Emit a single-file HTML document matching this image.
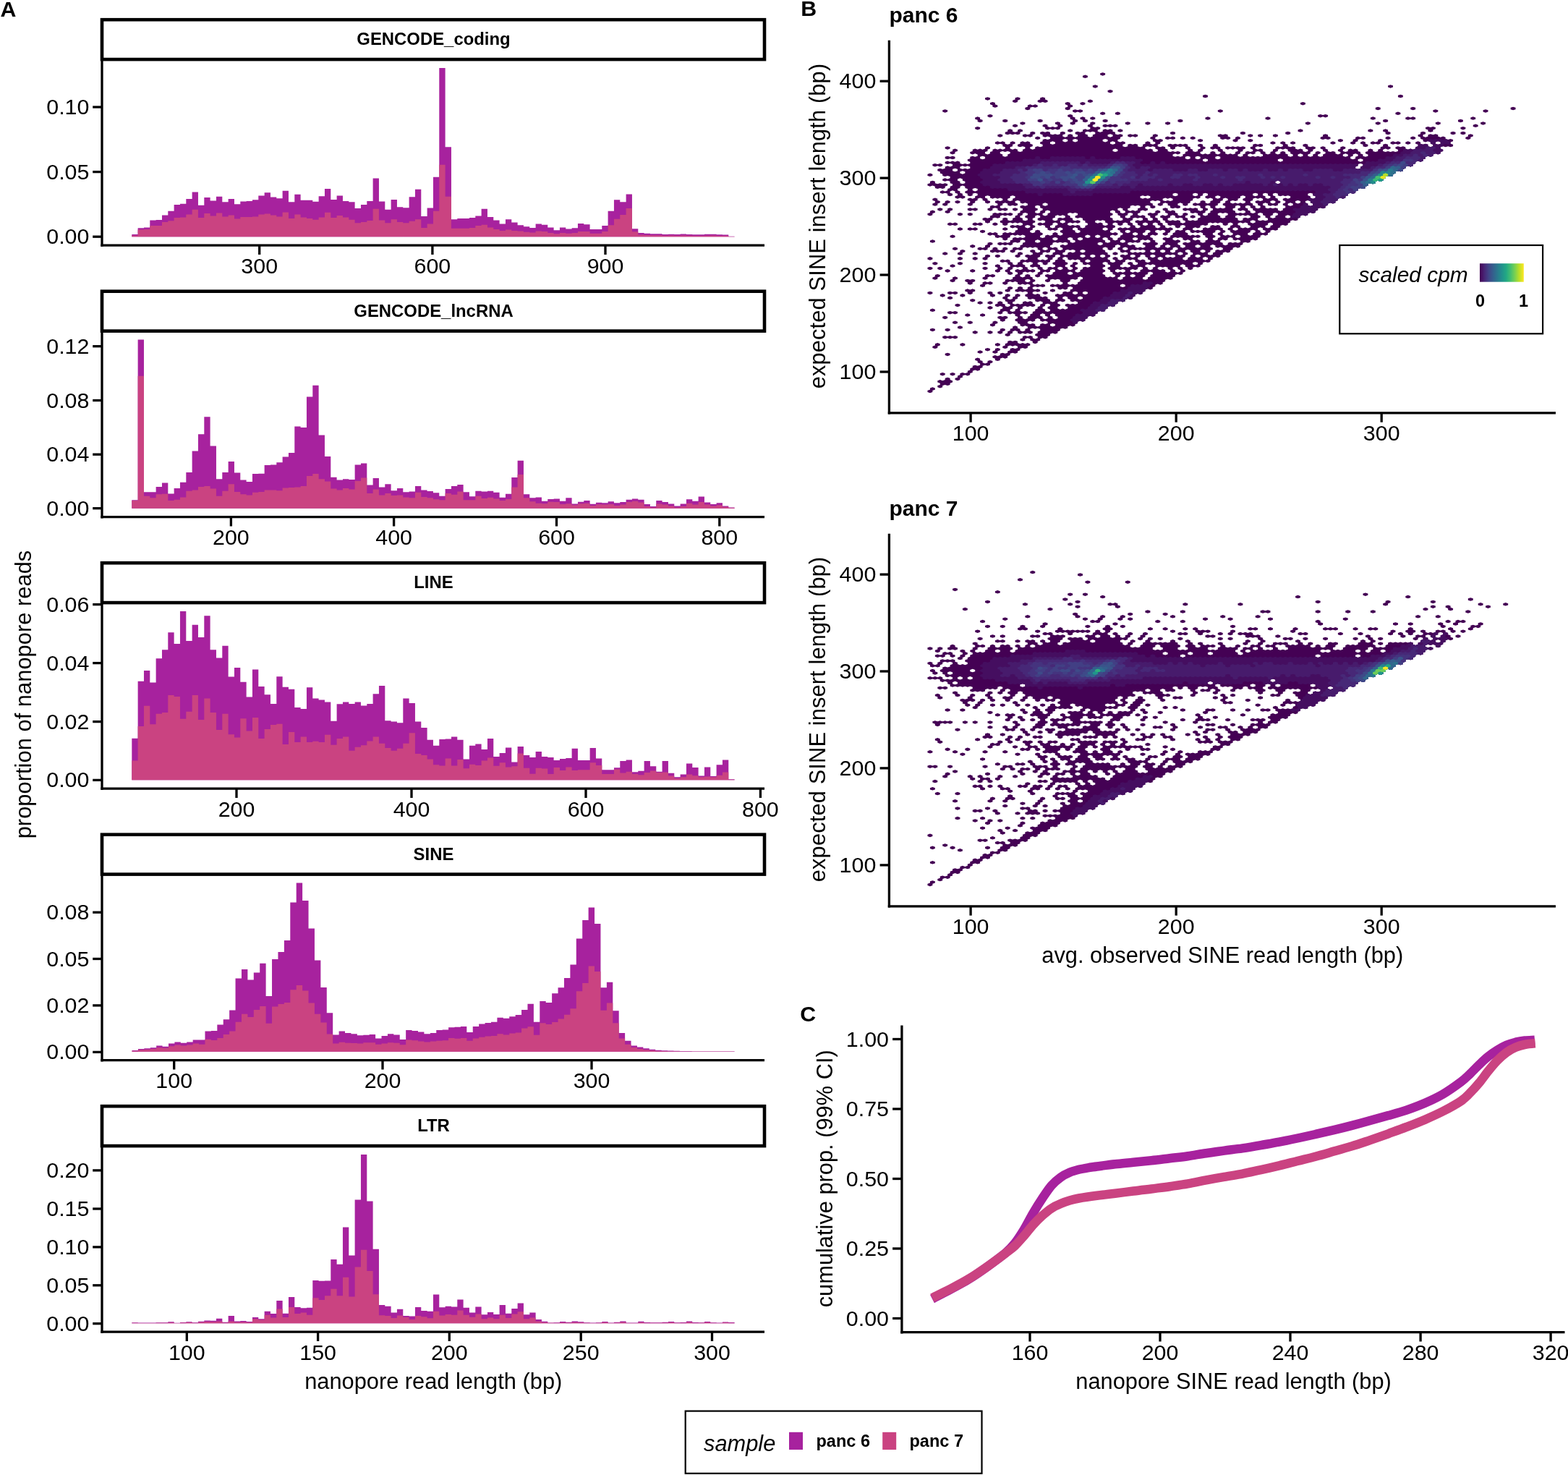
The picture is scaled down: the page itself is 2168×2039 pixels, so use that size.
<!DOCTYPE html>
<html lang="en"><head><meta charset="utf-8"><title>Nanopore read length figure</title>
<style>
html,body{margin:0;padding:0;background:#fff}
body{width:2168px;height:2039px;overflow:hidden}
svg{display:block}
text{font-family:"Liberation Sans",sans-serif;fill:#000}
</style></head><body>
<svg width="2168" height="2039" viewBox="0 0 2168 2039">
<rect width="2168" height="2039" fill="#fff"/>
<path d="M182.30 327.3V324.0H190.63V327.3zM190.63 327.3V315.2H198.97V327.3zM198.97 327.3V314.5H207.30V327.3zM207.30 327.3V304.4H215.63V327.3zM215.63 327.3V303.9H223.97V327.3zM223.97 327.3V297.4H232.30V327.3zM232.30 327.3V291.8H240.63V327.3zM240.63 327.3V283.0H248.96V327.3zM248.96 327.3V281.8H257.30V327.3zM257.30 327.3V275.0H265.63V327.3zM265.63 327.3V265.4H273.96V327.3zM273.96 327.3V283.8H282.30V327.3zM282.30 327.3V273.0H290.63V327.3zM290.63 327.3V277.5H298.96V327.3zM298.96 327.3V271.7H307.30V327.3zM307.30 327.3V279.3H315.63V327.3zM315.63 327.3V275.0H323.96V327.3zM323.96 327.3V282.3H332.29V327.3zM332.29 327.3V278.5H340.63V327.3zM340.63 327.3V278.0H348.96V327.3zM348.96 327.3V276.2H357.29V327.3zM357.29 327.3V270.5H365.63V327.3zM365.63 327.3V266.2H373.96V327.3zM373.96 327.3V272.5H382.29V327.3zM382.29 327.3V274.2H390.63V327.3zM390.62 327.3V263.7H398.96V327.3zM398.96 327.3V279.3H407.29V327.3zM407.29 327.3V268.7H415.62V327.3zM415.62 327.3V276.7H423.96V327.3zM423.96 327.3V276.7H432.29V327.3zM432.29 327.3V278.8H440.62V327.3zM440.62 327.3V271.2H448.96V327.3zM448.96 327.3V260.9H457.29V327.3zM457.29 327.3V276.0H465.62V327.3zM465.62 327.3V270.5H473.96V327.3zM473.96 327.3V278.0H482.29V327.3zM482.29 327.3V279.3H490.62V327.3zM490.62 327.3V288.1H498.95V327.3zM498.95 327.3V283.0H507.29V327.3zM507.29 327.3V278.0H515.62V327.3zM515.62 327.3V246.6H523.95V327.3zM523.95 327.3V278.5H532.29V327.3zM532.29 327.3V289.8H540.62V327.3zM540.62 327.3V276.0H548.95V327.3zM548.95 327.3V286.3H557.28V327.3zM557.29 327.3V287.3H565.62V327.3zM565.62 327.3V272.2H573.95V327.3zM573.95 327.3V261.7H582.28V327.3zM582.28 327.3V298.9H590.62V327.3zM590.62 327.3V287.6H598.95V327.3zM598.95 327.3V244.8H607.28V327.3zM607.28 327.3V93.9H615.62V327.3zM615.62 327.3V203.3H623.95V327.3zM623.95 327.3V303.2H632.28V327.3zM632.28 327.3V301.9H640.62V327.3zM640.62 327.3V301.9H648.95V327.3zM648.95 327.3V301.1H657.28V327.3zM657.28 327.3V298.6H665.61V327.3zM665.61 327.3V288.8H673.95V327.3zM673.95 327.3V299.9H682.28V327.3zM682.28 327.3V304.4H690.61V327.3zM690.61 327.3V309.4H698.95V327.3zM698.95 327.3V303.2H707.28V327.3zM707.28 327.3V307.4H715.61V327.3zM715.61 327.3V311.2H723.95V327.3zM723.94 327.3V313.2H732.28V327.3zM732.28 327.3V315.0H740.61V327.3zM740.61 327.3V309.4H748.94V327.3zM748.94 327.3V310.7H757.28V327.3zM757.28 327.3V314.5H765.61V327.3zM765.61 327.3V318.2H773.94V327.3zM773.94 327.3V314.5H782.28V327.3zM782.28 327.3V316.5H790.61V327.3zM790.61 327.3V315.2H798.94V327.3zM798.94 327.3V308.9H807.27V327.3zM807.28 327.3V310.2H815.61V327.3zM815.61 327.3V317.0H823.94V327.3zM823.94 327.3V317.0H832.27V327.3zM832.27 327.3V312.0H840.61V327.3zM840.61 327.3V291.8H848.94V327.3zM848.94 327.3V276.2H857.27V327.3zM857.27 327.3V279.3H865.61V327.3zM865.61 327.3V268.4H873.94V327.3zM873.94 327.3V316.2H882.27V327.3zM882.27 327.3V322.0H890.60V327.3zM890.61 327.3V322.8H898.94V327.3zM898.94 327.3V323.3H907.27V327.3zM907.27 327.3V323.3H915.60V327.3zM915.60 327.3V324.0H923.94V327.3zM923.94 327.3V323.8H932.27V327.3zM932.27 327.3V324.0H940.60V327.3zM940.60 327.3V323.5H948.94V327.3zM948.94 327.3V324.0H957.27V327.3zM957.27 327.3V324.3H965.60V327.3zM965.60 327.3V324.3H973.94V327.3zM973.93 327.3V323.8H982.27V327.3zM982.27 327.3V323.8H990.60V327.3zM990.60 327.3V324.3H998.93V327.3zM998.93 327.3V324.5H1007.27V327.3zM1007.27 327.3V326.8H1015.60V327.3z" fill="#a7229e"/>
<path d="M182.30 327.3V325.5H190.63V327.3zM190.63 327.3V317.5H198.97V327.3zM198.97 327.3V317.0H207.30V327.3zM207.30 327.3V312.0H215.63V327.3zM215.63 327.3V312.0H223.97V327.3zM223.97 327.3V306.9H232.30V327.3zM232.30 327.3V305.2H240.63V327.3zM240.63 327.3V301.1H248.96V327.3zM248.96 327.3V300.6H257.30V327.3zM257.30 327.3V296.4H265.63V327.3zM265.63 327.3V289.8H273.96V327.3zM273.96 327.3V301.1H282.30V327.3zM282.30 327.3V294.9H290.63V327.3zM290.63 327.3V298.6H298.96V327.3zM298.96 327.3V294.4H307.30V327.3zM307.30 327.3V299.4H315.63V327.3zM315.63 327.3V297.6H323.96V327.3zM323.96 327.3V302.4H332.29V327.3zM332.29 327.3V299.9H340.63V327.3zM340.63 327.3V299.9H348.96V327.3zM348.96 327.3V299.4H357.29V327.3zM357.29 327.3V296.4H365.63V327.3zM365.63 327.3V295.6H373.96V327.3zM373.96 327.3V297.6H382.29V327.3zM382.29 327.3V299.4H390.63V327.3zM390.62 327.3V293.6H398.96V327.3zM398.96 327.3V301.9H407.29V327.3zM407.29 327.3V296.4H415.62V327.3zM415.62 327.3V300.6H423.96V327.3zM423.96 327.3V301.9H432.29V327.3zM432.29 327.3V303.7H440.62V327.3zM440.62 327.3V300.6H448.96V327.3zM448.96 327.3V293.8H457.29V327.3zM457.29 327.3V301.1H465.62V327.3zM465.62 327.3V298.1H473.96V327.3zM473.96 327.3V300.6H482.29V327.3zM482.29 327.3V303.7H490.62V327.3zM490.62 327.3V308.2H498.95V327.3zM498.95 327.3V306.9H507.29V327.3zM507.29 327.3V304.9H515.62V327.3zM515.62 327.3V288.8H523.95V327.3zM523.95 327.3V304.4H532.29V327.3zM532.29 327.3V308.2H540.62V327.3zM540.62 327.3V303.2H548.95V327.3zM548.95 327.3V306.9H557.28V327.3zM557.29 327.3V308.2H565.62V327.3zM565.62 327.3V305.7H573.95V327.3zM573.95 327.3V303.2H582.28V327.3zM582.28 327.3V315.0H590.62V327.3zM590.62 327.3V309.4H598.95V327.3zM598.95 327.3V291.8H607.28V327.3zM607.28 327.3V227.7H615.62V327.3zM615.62 327.3V271.7H623.95V327.3zM623.95 327.3V315.7H632.28V327.3zM632.28 327.3V315.7H640.62V327.3zM640.62 327.3V315.7H648.95V327.3zM648.95 327.3V315.0H657.28V327.3zM657.28 327.3V312.0H665.61V327.3zM665.61 327.3V310.7H673.95V327.3zM673.95 327.3V314.5H682.28V327.3zM682.28 327.3V317.0H690.61V327.3zM690.61 327.3V319.0H698.95V327.3zM698.95 327.3V317.5H707.28V327.3zM707.28 327.3V319.0H715.61V327.3zM715.61 327.3V319.5H723.95V327.3zM723.94 327.3V320.8H732.28V327.3zM732.28 327.3V321.5H740.61V327.3zM740.61 327.3V319.5H748.94V327.3zM748.94 327.3V320.0H757.28V327.3zM757.28 327.3V322.0H765.61V327.3zM765.61 327.3V323.3H773.94V327.3zM773.94 327.3V322.0H782.28V327.3zM782.28 327.3V322.8H790.61V327.3zM790.61 327.3V322.0H798.94V327.3zM798.94 327.3V320.0H807.27V327.3zM807.28 327.3V320.0H815.61V327.3zM815.61 327.3V322.8H823.94V327.3zM823.94 327.3V322.8H832.27V327.3zM832.27 327.3V320.0H840.61V327.3zM840.61 327.3V311.2H848.94V327.3zM848.94 327.3V302.7H857.27V327.3zM857.27 327.3V296.9H865.61V327.3zM865.61 327.3V288.1H873.94V327.3zM873.94 327.3V320.3H882.27V327.3zM882.27 327.3V324.5H890.60V327.3zM890.61 327.3V325.0H898.94V327.3zM898.94 327.3V325.3H907.27V327.3zM907.27 327.3V325.3H915.60V327.3zM915.60 327.3V325.8H923.94V327.3zM923.94 327.3V325.5H932.27V327.3zM932.27 327.3V325.8H940.60V327.3zM940.60 327.3V325.5H948.94V327.3zM948.94 327.3V325.8H957.27V327.3zM957.27 327.3V326.0H965.60V327.3zM965.60 327.3V326.0H973.94V327.3zM973.93 327.3V325.8H982.27V327.3zM982.27 327.3V325.5H990.60V327.3zM990.60 327.3V326.0H998.93V327.3zM998.93 327.3V326.0H1007.27V327.3zM1007.27 327.3V327.0H1015.60V327.3z" fill="#ca4381"/>
<path d="M141.0 82.1L141.0 340.8" stroke="#000" stroke-width="3.3" fill="none" stroke-linecap="butt"/>
<path d="M139.3 339.2L1057.0 339.2" stroke="#000" stroke-width="3.3" fill="none" stroke-linecap="butt"/>
<rect x="141.0" y="27.2" width="916.0" height="54.9" fill="#fff" stroke="#000" stroke-width="4.6"/>
<text x="599.5" y="62.2" font-size="23.9" text-anchor="middle" font-weight="bold">GENCODE_coding</text>
<path d="M128.2 327.2L141.0 327.2" stroke="#000" stroke-width="3.3" fill="none" stroke-linecap="butt"/>
<text x="123.4" y="337.2" font-size="30.4" text-anchor="end">0.00</text>
<path d="M128.2 237.6L141.0 237.6" stroke="#000" stroke-width="3.3" fill="none" stroke-linecap="butt"/>
<text x="123.4" y="247.6" font-size="30.4" text-anchor="end">0.05</text>
<path d="M128.2 148.0L141.0 148.0" stroke="#000" stroke-width="3.3" fill="none" stroke-linecap="butt"/>
<text x="123.4" y="158.0" font-size="30.4" text-anchor="end">0.10</text>
<path d="M358.7 339.2L358.7 352.0" stroke="#000" stroke-width="3.3" fill="none" stroke-linecap="butt"/>
<text x="358.7" y="377.7" font-size="30.4" text-anchor="middle">300</text>
<path d="M597.9 339.2L597.9 352.0" stroke="#000" stroke-width="3.3" fill="none" stroke-linecap="butt"/>
<text x="597.9" y="377.7" font-size="30.4" text-anchor="middle">600</text>
<path d="M837.0 339.2L837.0 352.0" stroke="#000" stroke-width="3.3" fill="none" stroke-linecap="butt"/>
<text x="837.0" y="377.7" font-size="30.4" text-anchor="middle">900</text>
<path d="M182.30 702.8V691.2H190.63V702.8zM190.63 702.8V469.4H198.97V702.8zM198.97 702.8V680.2H207.30V702.8zM207.30 702.8V680.2H215.63V702.8zM215.63 702.8V673.1H223.97V702.8zM223.97 702.8V667.6H232.30V702.8zM232.30 702.8V682.4H240.63V702.8zM240.63 702.8V674.9H248.96V702.8zM248.96 702.8V666.8H257.30V702.8zM257.30 702.8V653.0H265.63V702.8zM265.63 702.8V623.6H273.96V702.8zM273.96 702.8V600.2H282.30V702.8zM282.30 702.8V576.3H290.63V702.8zM290.63 702.8V616.5H298.96V702.8zM298.96 702.8V662.3H307.30V702.8zM307.30 702.8V653.0H315.63V702.8zM315.63 702.8V637.9H323.96V702.8zM323.96 702.8V653.5H332.29V702.8zM332.29 702.8V663.6H340.63V702.8zM340.63 702.8V666.1H348.96V702.8zM348.96 702.8V655.0H357.29V702.8zM357.29 702.8V654.8H365.63V702.8zM365.63 702.8V642.9H373.96V702.8zM373.96 702.8V642.4H382.29V702.8zM382.29 702.8V639.2H390.63V702.8zM390.62 702.8V631.6H398.96V702.8zM398.96 702.8V626.1H407.29V702.8zM407.29 702.8V589.6H415.62V702.8zM415.62 702.8V590.9H423.96V702.8zM423.96 702.8V548.6H432.29V702.8zM432.29 702.8V532.8H440.62V702.8zM440.62 702.8V601.4H448.96V702.8zM448.96 702.8V631.1H457.29V702.8zM457.29 702.8V659.8H465.62V702.8zM465.62 702.8V663.6H473.96V702.8zM473.96 702.8V662.3H482.29V702.8zM482.29 702.8V663.1H490.62V702.8zM490.62 702.8V642.4H498.95V702.8zM498.95 702.8V640.4H507.29V702.8zM507.29 702.8V670.6H515.62V702.8zM515.62 702.8V661.0H523.95V702.8zM523.95 702.8V673.6H532.29V702.8zM532.29 702.8V669.3H540.62V702.8zM540.62 702.8V678.2H548.95V702.8zM548.95 702.8V675.1H557.28V702.8zM557.29 702.8V680.2H565.62V702.8zM565.62 702.8V679.4H573.95V702.8zM573.95 702.8V671.9H582.28V702.8zM582.28 702.8V677.6H590.62V702.8zM590.62 702.8V678.9H598.95V702.8zM598.95 702.8V681.2H607.28V702.8zM607.28 702.8V685.7H615.62V702.8zM615.62 702.8V676.1H623.95V702.8zM623.95 702.8V671.9H632.28V702.8zM632.28 702.8V669.9H640.62V702.8zM640.62 702.8V680.2H648.95V702.8zM648.95 702.8V686.2H657.28V702.8zM657.28 702.8V678.7H665.61V702.8zM665.61 702.8V679.4H673.95V702.8zM673.95 702.8V678.7H682.28V702.8zM682.28 702.8V680.7H690.61V702.8zM690.61 702.8V687.7H698.95V702.8zM698.95 702.8V682.7H707.28V702.8zM707.28 702.8V660.0H715.61V702.8zM715.61 702.8V636.7H723.95V702.8zM723.94 702.8V683.2H732.28V702.8zM732.28 702.8V688.2H740.61V702.8zM740.61 702.8V687.5H748.94V702.8zM748.94 702.8V692.7H757.28V702.8zM757.28 702.8V690.0H765.61V702.8zM765.61 702.8V689.5H773.94V702.8zM773.94 702.8V692.7H782.28V702.8zM782.28 702.8V688.2H790.61V702.8zM790.61 702.8V696.5H798.94V702.8zM798.94 702.8V693.7H807.27V702.8zM807.28 702.8V692.0H815.61V702.8zM815.61 702.8V696.8H823.94V702.8zM823.94 702.8V694.8H832.27V702.8zM832.27 702.8V695.3H840.61V702.8zM840.61 702.8V693.2H848.94V702.8zM848.94 702.8V695.3H857.27V702.8zM857.27 702.8V694.0H865.61V702.8zM865.61 702.8V690.7H873.94V702.8zM873.94 702.8V689.5H882.27V702.8zM882.27 702.8V690.7H890.60V702.8zM890.61 702.8V697.0H898.94V702.8zM898.94 702.8V700.0H907.27V702.8zM907.27 702.8V692.0H915.60V702.8zM915.60 702.8V694.0H923.94V702.8zM923.94 702.8V696.5H932.27V702.8zM932.27 702.8V699.5H940.60V702.8zM940.60 702.8V696.5H948.94V702.8zM948.94 702.8V690.2H957.27V702.8zM957.27 702.8V692.7H965.60V702.8zM965.60 702.8V686.5H973.94V702.8zM973.93 702.8V694.5H982.27V702.8zM982.27 702.8V697.0H990.60V702.8zM990.60 702.8V695.3H998.93V702.8zM998.93 702.8V699.5H1007.27V702.8zM1007.27 702.8V701.5H1015.60V702.8z" fill="#a7229e"/>
<path d="M182.30 702.8V692.0H190.63V702.8zM190.63 702.8V519.7H198.97V702.8zM198.97 702.8V685.7H207.30V702.8zM207.30 702.8V688.2H215.63V702.8zM215.63 702.8V683.2H223.97V702.8zM223.97 702.8V682.7H232.30V702.8zM232.30 702.8V692.0H240.63V702.8zM240.63 702.8V690.7H248.96V702.8zM248.96 702.8V687.5H257.30V702.8zM257.30 702.8V678.7H265.63V702.8zM265.63 702.8V677.6H273.96V702.8zM273.96 702.8V673.1H282.30V702.8zM282.30 702.8V671.9H290.63V702.8zM290.63 702.8V675.6H298.96V702.8zM298.96 702.8V685.7H307.30V702.8zM307.30 702.8V678.7H315.63V702.8zM315.63 702.8V669.3H323.96V702.8zM323.96 702.8V679.9H332.29V702.8zM332.29 702.8V683.2H340.63V702.8zM340.63 702.8V684.4H348.96V702.8zM348.96 702.8V680.7H357.29V702.8zM357.29 702.8V679.9H365.63V702.8zM365.63 702.8V677.6H373.96V702.8zM373.96 702.8V677.6H382.29V702.8zM382.29 702.8V678.2H390.63V702.8zM390.62 702.8V674.4H398.96V702.8zM398.96 702.8V673.9H407.29V702.8zM407.29 702.8V673.6H415.62V702.8zM415.62 702.8V671.9H423.96V702.8zM423.96 702.8V658.0H432.29V702.8zM432.29 702.8V655.0H440.62V702.8zM440.62 702.8V662.3H448.96V702.8zM448.96 702.8V665.6H457.29V702.8zM457.29 702.8V675.6H465.62V702.8zM465.62 702.8V677.6H473.96V702.8zM473.96 702.8V674.9H482.29V702.8zM482.29 702.8V676.4H490.62V702.8zM490.62 702.8V665.1H498.95V702.8zM498.95 702.8V660.5H507.29V702.8zM507.29 702.8V681.9H515.62V702.8zM515.62 702.8V676.4H523.95V702.8zM523.95 702.8V684.4H532.29V702.8zM532.29 702.8V681.9H540.62V702.8zM540.62 702.8V684.9H548.95V702.8zM548.95 702.8V684.4H557.28V702.8zM557.29 702.8V687.5H565.62V702.8zM565.62 702.8V688.2H573.95V702.8zM573.95 702.8V680.7H582.28V702.8zM582.28 702.8V687.0H590.62V702.8zM590.62 702.8V688.2H598.95V702.8zM598.95 702.8V690.2H607.28V702.8zM607.28 702.8V691.2H615.62V702.8zM615.62 702.8V681.9H623.95V702.8zM623.95 702.8V683.7H632.28V702.8zM632.28 702.8V679.4H640.62V702.8zM640.62 702.8V691.2H648.95V702.8zM648.95 702.8V691.2H657.28V702.8zM657.28 702.8V685.7H665.61V702.8zM665.61 702.8V689.0H673.95V702.8zM673.95 702.8V687.7H682.28V702.8zM682.28 702.8V689.5H690.61V702.8zM690.61 702.8V692.0H698.95V702.8zM698.95 702.8V690.0H707.28V702.8zM707.28 702.8V673.6H715.61V702.8zM715.61 702.8V656.0H723.95V702.8zM723.94 702.8V688.2H732.28V702.8zM732.28 702.8V693.2H740.61V702.8zM740.61 702.8V695.8H748.94V702.8zM748.94 702.8V696.3H757.28V702.8zM757.28 702.8V693.7H765.61V702.8zM765.61 702.8V694.0H773.94V702.8zM773.94 702.8V697.0H782.28V702.8zM782.28 702.8V696.3H790.61V702.8zM790.61 702.8V698.3H798.94V702.8zM798.94 702.8V696.3H807.27V702.8zM807.28 702.8V695.8H815.61V702.8zM815.61 702.8V699.0H823.94V702.8zM823.94 702.8V697.3H832.27V702.8zM832.27 702.8V697.5H840.61V702.8zM840.61 702.8V697.0H848.94V702.8zM848.94 702.8V699.0H857.27V702.8zM857.27 702.8V697.5H865.61V702.8zM865.61 702.8V694.0H873.94V702.8zM873.94 702.8V692.7H882.27V702.8zM882.27 702.8V694.5H890.60V702.8zM890.61 702.8V700.0H898.94V702.8zM898.94 702.8V701.5H907.27V702.8zM907.27 702.8V696.5H915.60V702.8zM915.60 702.8V697.5H923.94V702.8zM923.94 702.8V699.5H932.27V702.8zM932.27 702.8V701.5H940.60V702.8zM940.60 702.8V700.0H948.94V702.8zM948.94 702.8V695.8H957.27V702.8zM957.27 702.8V697.5H965.60V702.8zM965.60 702.8V694.0H973.94V702.8zM973.93 702.8V697.5H982.27V702.8zM982.27 702.8V699.5H990.60V702.8zM990.60 702.8V698.3H998.93V702.8zM998.93 702.8V700.8H1007.27V702.8zM1007.27 702.8V702.0H1015.60V702.8z" fill="#ca4381"/>
<path d="M141.0 457.6L141.0 716.4" stroke="#000" stroke-width="3.3" fill="none" stroke-linecap="butt"/>
<path d="M139.3 714.7L1057.0 714.7" stroke="#000" stroke-width="3.3" fill="none" stroke-linecap="butt"/>
<rect x="141.0" y="402.7" width="916.0" height="54.9" fill="#fff" stroke="#000" stroke-width="4.6"/>
<text x="599.5" y="437.7" font-size="23.9" text-anchor="middle" font-weight="bold">GENCODE_lncRNA</text>
<path d="M128.2 702.7L141.0 702.7" stroke="#000" stroke-width="3.3" fill="none" stroke-linecap="butt"/>
<text x="123.4" y="712.7" font-size="30.4" text-anchor="end">0.00</text>
<path d="M128.2 628.2L141.0 628.2" stroke="#000" stroke-width="3.3" fill="none" stroke-linecap="butt"/>
<text x="123.4" y="638.2" font-size="30.4" text-anchor="end">0.04</text>
<path d="M128.2 553.5L141.0 553.5" stroke="#000" stroke-width="3.3" fill="none" stroke-linecap="butt"/>
<text x="123.4" y="563.5" font-size="30.4" text-anchor="end">0.08</text>
<path d="M128.2 478.7L141.0 478.7" stroke="#000" stroke-width="3.3" fill="none" stroke-linecap="butt"/>
<text x="123.4" y="488.7" font-size="30.4" text-anchor="end">0.12</text>
<path d="M319.4 714.7L319.4 727.5" stroke="#000" stroke-width="3.3" fill="none" stroke-linecap="butt"/>
<text x="319.4" y="753.2" font-size="30.4" text-anchor="middle">200</text>
<path d="M544.6 714.7L544.6 727.5" stroke="#000" stroke-width="3.3" fill="none" stroke-linecap="butt"/>
<text x="544.6" y="753.2" font-size="30.4" text-anchor="middle">400</text>
<path d="M769.5 714.7L769.5 727.5" stroke="#000" stroke-width="3.3" fill="none" stroke-linecap="butt"/>
<text x="769.5" y="753.2" font-size="30.4" text-anchor="middle">600</text>
<path d="M994.8 714.7L994.8 727.5" stroke="#000" stroke-width="3.3" fill="none" stroke-linecap="butt"/>
<text x="994.8" y="753.2" font-size="30.4" text-anchor="middle">800</text>
<path d="M182.30 1078.3V1020.7H190.63V1078.3zM190.63 1078.3V941.7H198.97V1078.3zM198.97 1078.3V927.1H207.30V1078.3zM207.30 1078.3V943.5H215.63V1078.3zM215.63 1078.3V910.3H223.97V1078.3zM223.97 1078.3V898.2H232.30V1078.3zM232.30 1078.3V874.3H240.63V1078.3zM240.63 1078.3V889.9H248.96V1078.3zM248.96 1078.3V844.9H257.30V1078.3zM257.30 1078.3V886.1H265.63V1078.3zM265.63 1078.3V863.8H273.96V1078.3zM273.96 1078.3V881.1H282.30V1078.3zM282.30 1078.3V851.2H290.63V1078.3zM290.63 1078.3V898.2H298.96V1078.3zM298.96 1078.3V909.5H307.30V1078.3zM307.30 1078.3V892.7H315.63V1078.3zM315.63 1078.3V935.4H323.96V1078.3zM323.96 1078.3V922.9H332.29V1078.3zM332.29 1078.3V942.7H340.63V1078.3zM340.63 1078.3V963.6H348.96V1078.3zM348.96 1078.3V925.4H357.29V1078.3zM357.29 1078.3V949.0H365.63V1078.3zM365.63 1078.3V960.3H373.96V1078.3zM373.96 1078.3V972.9H382.29V1078.3zM382.29 1078.3V935.2H390.63V1078.3zM390.62 1078.3V949.8H398.96V1078.3zM398.96 1078.3V952.8H407.29V1078.3zM407.29 1078.3V977.9H415.62V1078.3zM415.62 1078.3V980.0H423.96V1078.3zM423.96 1078.3V950.3H432.29V1078.3zM432.29 1078.3V965.6H440.62V1078.3zM440.62 1078.3V967.4H448.96V1078.3zM448.96 1078.3V970.4H457.29V1078.3zM457.29 1078.3V996.8H465.62V1078.3zM465.62 1078.3V973.2H473.96V1078.3zM473.96 1078.3V970.4H482.29V1078.3zM482.29 1078.3V972.9H490.62V1078.3zM490.62 1078.3V970.4H498.95V1078.3zM498.95 1078.3V975.4H507.29V1078.3zM507.29 1078.3V972.9H515.62V1078.3zM515.62 1078.3V959.3H523.95V1078.3zM523.95 1078.3V948.0H532.29V1078.3zM532.29 1078.3V996.3H540.62V1078.3zM540.62 1078.3V997.6H548.95V1078.3zM548.95 1078.3V999.3H557.28V1078.3zM557.29 1078.3V965.4H565.62V1078.3zM565.62 1078.3V971.9H573.95V1078.3zM573.95 1078.3V997.6H582.28V1078.3zM582.28 1078.3V1005.9H590.62V1078.3zM590.62 1078.3V1022.7H598.95V1078.3zM598.95 1078.3V1030.8H607.28V1078.3zM607.28 1078.3V1022.0H615.62V1078.3zM615.62 1078.3V1021.5H623.95V1078.3zM623.95 1078.3V1018.4H632.28V1078.3zM632.28 1078.3V1022.7H640.62V1078.3zM640.62 1078.3V1049.6H648.95V1078.3zM648.95 1078.3V1030.8H657.28V1078.3zM657.28 1078.3V1028.5H665.61V1078.3zM665.61 1078.3V1036.0H673.95V1078.3zM673.95 1078.3V1021.0H682.28V1078.3zM682.28 1078.3V1046.1H690.61V1078.3zM690.61 1078.3V1041.1H698.95V1078.3zM698.95 1078.3V1033.5H707.28V1078.3zM707.28 1078.3V1053.4H715.61V1078.3zM715.61 1078.3V1032.0H723.95V1078.3zM723.94 1078.3V1044.1H732.28V1078.3zM732.28 1078.3V1047.1H740.61V1078.3zM740.61 1078.3V1039.1H748.94V1078.3zM748.94 1078.3V1045.9H757.28V1078.3zM757.28 1078.3V1047.1H765.61V1078.3zM765.61 1078.3V1051.1H773.94V1078.3zM773.94 1078.3V1049.1H782.28V1078.3zM782.28 1078.3V1047.9H790.61V1078.3zM790.61 1078.3V1034.8H798.94V1078.3zM798.94 1078.3V1050.9H807.27V1078.3zM807.28 1078.3V1050.9H815.61V1078.3zM815.61 1078.3V1034.0H823.94V1078.3zM823.94 1078.3V1048.4H832.27V1078.3zM832.27 1078.3V1064.2H840.61V1078.3zM840.61 1078.3V1064.2H848.94V1078.3zM848.94 1078.3V1061.2H857.27V1078.3zM857.27 1078.3V1052.1H865.61V1078.3zM865.61 1078.3V1050.4H873.94V1078.3zM873.94 1078.3V1067.2H882.27V1078.3zM882.27 1078.3V1065.7H890.60V1078.3zM890.61 1078.3V1052.1H898.94V1078.3zM898.94 1078.3V1059.2H907.27V1078.3zM907.27 1078.3V1066.7H915.60V1078.3zM915.60 1078.3V1052.1H923.94V1078.3zM923.94 1078.3V1068.7H932.27V1078.3zM932.27 1078.3V1074.3H940.60V1078.3zM940.60 1078.3V1070.5H948.94V1078.3zM948.94 1078.3V1055.4H957.27V1078.3zM957.27 1078.3V1060.9H965.60V1078.3zM965.60 1078.3V1072.5H973.94V1078.3zM973.93 1078.3V1060.4H982.27V1078.3zM982.27 1078.3V1073.0H990.60V1078.3zM990.60 1078.3V1057.2H998.93V1078.3zM998.93 1078.3V1050.4H1007.27V1078.3zM1007.27 1078.3V1077.3H1015.60V1078.3z" fill="#a7229e"/>
<path d="M182.30 1078.3V1051.6H190.63V1078.3zM190.63 1078.3V1003.9H198.97V1078.3zM198.97 1078.3V975.7H207.30V1078.3zM207.30 1078.3V1001.3H215.63V1078.3zM215.63 1078.3V986.8H223.97V1078.3zM223.97 1078.3V985.0H232.30V1078.3zM232.30 1078.3V961.1H240.63V1078.3zM240.63 1078.3V962.9H248.96V1078.3zM248.96 1078.3V993.8H257.30V1078.3zM257.30 1078.3V983.7H265.63V1078.3zM265.63 1078.3V961.1H273.96V1078.3zM273.96 1078.3V995.1H282.30V1078.3zM282.30 1078.3V965.6H290.63V1078.3zM290.63 1078.3V985.0H298.96V1078.3zM298.96 1078.3V1008.9H307.30V1078.3zM307.30 1078.3V986.8H315.63V1078.3zM315.63 1078.3V1015.2H323.96V1078.3zM323.96 1078.3V1019.4H332.29V1078.3zM332.29 1078.3V993.3H340.63V1078.3zM340.63 1078.3V1010.6H348.96V1078.3zM348.96 1078.3V992.0H357.29V1078.3zM357.29 1078.3V1021.0H365.63V1078.3zM365.63 1078.3V1008.1H373.96V1078.3zM373.96 1078.3V1002.1H382.29V1078.3zM382.29 1078.3V1000.8H390.63V1078.3zM390.62 1078.3V1029.0H398.96V1078.3zM398.96 1078.3V1011.9H407.29V1078.3zM407.29 1078.3V1026.0H415.62V1078.3zM415.62 1078.3V1018.4H423.96V1078.3zM423.96 1078.3V1026.0H432.29V1078.3zM432.29 1078.3V1024.7H440.62V1078.3zM440.62 1078.3V1026.0H448.96V1078.3zM448.96 1078.3V1015.7H457.29V1078.3zM457.29 1078.3V1029.8H465.62V1078.3zM465.62 1078.3V1021.0H473.96V1078.3zM473.96 1078.3V1018.4H482.29V1078.3zM482.29 1078.3V1037.8H490.62V1078.3zM490.62 1078.3V1032.8H498.95V1078.3zM498.95 1078.3V1030.3H507.29V1078.3zM507.29 1078.3V1024.5H515.62V1078.3zM515.62 1078.3V1018.4H523.95V1078.3zM523.95 1078.3V1027.7H532.29V1078.3zM532.29 1078.3V1034.0H540.62V1078.3zM540.62 1078.3V1037.8H548.95V1078.3zM548.95 1078.3V1034.8H557.28V1078.3zM557.29 1078.3V1027.7H565.62V1078.3zM565.62 1078.3V1013.2H573.95V1078.3zM573.95 1078.3V1042.1H582.28V1078.3zM582.28 1078.3V1044.1H590.62V1078.3zM590.62 1078.3V1049.6H598.95V1078.3zM598.95 1078.3V1057.2H607.28V1078.3zM607.28 1078.3V1058.4H615.62V1078.3zM615.62 1078.3V1048.4H623.95V1078.3zM623.95 1078.3V1058.4H632.28V1078.3zM632.28 1078.3V1049.9H640.62V1078.3zM640.62 1078.3V1062.2H648.95V1078.3zM648.95 1078.3V1056.7H657.28V1078.3zM657.28 1078.3V1057.9H665.61V1078.3zM665.61 1078.3V1051.6H673.95V1078.3zM673.95 1078.3V1047.4H682.28V1078.3zM682.28 1078.3V1058.7H690.61V1078.3zM690.61 1078.3V1054.2H698.95V1078.3zM698.95 1078.3V1060.4H707.28V1078.3zM707.28 1078.3V1059.2H715.61V1078.3zM715.61 1078.3V1041.6H723.95V1078.3zM723.94 1078.3V1061.7H732.28V1078.3zM732.28 1078.3V1069.7H740.61V1078.3zM740.61 1078.3V1061.7H748.94V1078.3zM748.94 1078.3V1062.5H757.28V1078.3zM757.28 1078.3V1070.0H765.61V1078.3zM765.61 1078.3V1060.9H773.94V1078.3zM773.94 1078.3V1065.0H782.28V1078.3zM782.28 1078.3V1060.4H790.61V1078.3zM790.61 1078.3V1065.0H798.94V1078.3zM798.94 1078.3V1064.2H807.27V1078.3zM807.28 1078.3V1064.2H815.61V1078.3zM815.61 1078.3V1054.2H823.94V1078.3zM823.94 1078.3V1057.9H832.27V1078.3zM832.27 1078.3V1070.0H840.61V1078.3zM840.61 1078.3V1070.0H848.94V1078.3zM848.94 1078.3V1063.5H857.27V1078.3zM857.27 1078.3V1068.5H865.61V1078.3zM865.61 1078.3V1066.7H873.94V1078.3zM873.94 1078.3V1070.0H882.27V1078.3zM882.27 1078.3V1071.3H890.60V1078.3zM890.61 1078.3V1068.0H898.94V1078.3zM898.94 1078.3V1065.5H907.27V1078.3zM907.27 1078.3V1068.0H915.60V1078.3zM915.60 1078.3V1067.5H923.94V1078.3zM923.94 1078.3V1072.5H932.27V1078.3zM932.27 1078.3V1076.0H940.60V1078.3zM940.60 1078.3V1074.3H948.94V1078.3zM948.94 1078.3V1070.5H957.27V1078.3zM957.27 1078.3V1072.3H965.60V1078.3zM965.60 1078.3V1074.3H973.94V1078.3zM973.93 1078.3V1073.5H982.27V1078.3zM982.27 1078.3V1074.3H990.60V1078.3zM990.60 1078.3V1071.8H998.93V1078.3zM998.93 1078.3V1067.5H1007.27V1078.3zM1007.27 1078.3V1077.8H1015.60V1078.3z" fill="#ca4381"/>
<path d="M141.0 833.1L141.0 1091.9" stroke="#000" stroke-width="3.3" fill="none" stroke-linecap="butt"/>
<path d="M139.3 1090.2L1057.0 1090.2" stroke="#000" stroke-width="3.3" fill="none" stroke-linecap="butt"/>
<rect x="141.0" y="778.2" width="916.0" height="54.9" fill="#fff" stroke="#000" stroke-width="4.6"/>
<text x="599.5" y="813.2" font-size="23.9" text-anchor="middle" font-weight="bold">LINE</text>
<path d="M128.2 1078.4L141.0 1078.4" stroke="#000" stroke-width="3.3" fill="none" stroke-linecap="butt"/>
<text x="123.4" y="1088.4" font-size="30.4" text-anchor="end">0.00</text>
<path d="M128.2 997.6L141.0 997.6" stroke="#000" stroke-width="3.3" fill="none" stroke-linecap="butt"/>
<text x="123.4" y="1007.6" font-size="30.4" text-anchor="end">0.02</text>
<path d="M128.2 916.6L141.0 916.6" stroke="#000" stroke-width="3.3" fill="none" stroke-linecap="butt"/>
<text x="123.4" y="926.6" font-size="30.4" text-anchor="end">0.04</text>
<path d="M128.2 835.6L141.0 835.6" stroke="#000" stroke-width="3.3" fill="none" stroke-linecap="butt"/>
<text x="123.4" y="845.6" font-size="30.4" text-anchor="end">0.06</text>
<path d="M327.0 1090.2L327.0 1103.0" stroke="#000" stroke-width="3.3" fill="none" stroke-linecap="butt"/>
<text x="327.0" y="1128.7" font-size="30.4" text-anchor="middle">200</text>
<path d="M569.0 1090.2L569.0 1103.0" stroke="#000" stroke-width="3.3" fill="none" stroke-linecap="butt"/>
<text x="569.0" y="1128.7" font-size="30.4" text-anchor="middle">400</text>
<path d="M810.0 1090.2L810.0 1103.0" stroke="#000" stroke-width="3.3" fill="none" stroke-linecap="butt"/>
<text x="810.0" y="1128.7" font-size="30.4" text-anchor="middle">600</text>
<path d="M1051.4 1090.2L1051.4 1103.0" stroke="#000" stroke-width="3.3" fill="none" stroke-linecap="butt"/>
<text x="1051.4" y="1128.7" font-size="30.4" text-anchor="middle">800</text>
<path d="M182.50 1453.8V1452.0H190.91V1453.8zM190.91 1453.8V1450.0H199.33V1453.8zM199.33 1453.8V1449.3H207.74V1453.8zM207.75 1453.8V1448.3H216.16V1453.8zM216.16 1453.8V1445.5H224.57V1453.8zM224.57 1453.8V1446.8H232.99V1453.8zM232.99 1453.8V1442.5H241.41V1453.8zM241.41 1453.8V1440.5H249.82V1453.8zM249.82 1453.8V1441.7H258.24V1453.8zM258.24 1453.8V1440.5H266.65V1453.8zM266.65 1453.8V1437.5H275.06V1453.8zM275.06 1453.8V1437.5H283.48V1453.8zM283.48 1453.8V1425.4H291.90V1453.8zM291.89 1453.8V1424.9H300.31V1453.8zM300.31 1453.8V1416.6H308.73V1453.8zM308.73 1453.8V1409.3H317.14V1453.8zM317.14 1453.8V1396.5H325.56V1453.8zM325.55 1453.8V1352.4H333.97V1453.8zM333.97 1453.8V1340.1H342.38V1453.8zM342.38 1453.8V1354.5H350.80V1453.8zM350.80 1453.8V1344.4H359.21V1453.8zM359.21 1453.8V1331.8H367.63V1453.8zM367.63 1453.8V1377.1H376.05V1453.8zM376.04 1453.8V1326.0H384.46V1453.8zM384.46 1453.8V1316.0H392.88V1453.8zM392.88 1453.8V1299.9H401.29V1453.8zM401.29 1453.8V1247.6H409.70V1453.8zM409.70 1453.8V1220.4H418.12V1453.8zM418.12 1453.8V1245.0H426.54V1453.8zM426.53 1453.8V1283.5H434.95V1453.8zM434.95 1453.8V1327.5H443.37V1453.8zM443.36 1453.8V1365.0H451.78V1453.8zM451.78 1453.8V1400.2H460.19V1453.8zM460.19 1453.8V1430.4H468.61V1453.8zM468.61 1453.8V1425.4H477.02V1453.8zM477.02 1453.8V1428.1H485.44V1453.8zM485.44 1453.8V1429.2H493.85V1453.8zM493.85 1453.8V1431.2H502.27V1453.8zM502.27 1453.8V1430.7H510.69V1453.8zM510.68 1453.8V1429.9H519.10V1453.8zM519.10 1453.8V1435.4H527.51V1453.8zM527.51 1453.8V1431.9H535.93V1453.8zM535.93 1453.8V1429.2H544.34V1453.8zM544.35 1453.8V1430.4H552.76V1453.8zM552.76 1453.8V1436.9H561.17V1453.8zM561.17 1453.8V1424.1H569.59V1453.8zM569.59 1453.8V1424.9H578.00V1453.8zM578.00 1453.8V1426.6H586.42V1453.8zM586.42 1453.8V1429.2H594.83V1453.8zM594.84 1453.8V1428.1H603.25V1453.8zM603.25 1453.8V1424.1H611.66V1453.8zM611.66 1453.8V1423.6H620.08V1453.8zM620.08 1453.8V1420.3H628.49V1453.8zM628.49 1453.8V1419.8H636.91V1453.8zM636.91 1453.8V1419.1H645.32V1453.8zM645.32 1453.8V1426.9H653.74V1453.8zM653.74 1453.8V1419.1H662.15V1453.8zM662.15 1453.8V1415.6H670.57V1453.8zM670.57 1453.8V1414.1H678.98V1453.8zM678.98 1453.8V1412.8H687.40V1453.8zM687.40 1453.8V1406.8H695.81V1453.8zM695.81 1453.8V1407.8H704.23V1453.8zM704.23 1453.8V1405.3H712.64V1453.8zM712.64 1453.8V1403.0H721.06V1453.8zM721.06 1453.8V1396.0H729.47V1453.8zM729.47 1453.8V1387.7H737.89V1453.8zM737.89 1453.8V1412.8H746.30V1453.8zM746.30 1453.8V1384.1H754.72V1453.8zM754.72 1453.8V1385.9H763.13V1453.8zM763.13 1453.8V1373.3H771.55V1453.8zM771.55 1453.8V1365.3H779.96V1453.8zM779.96 1453.8V1351.9H788.38V1453.8zM788.38 1453.8V1333.6H796.79V1453.8zM796.79 1453.8V1297.4H805.21V1453.8zM805.21 1453.8V1272.0H813.62V1453.8zM813.62 1453.8V1254.4H822.04V1453.8zM822.04 1453.8V1277.0H830.45V1453.8zM830.45 1453.8V1365.3H838.87V1453.8zM838.87 1453.8V1357.7H847.28V1453.8zM847.28 1453.8V1397.2H855.70V1453.8zM855.70 1453.8V1427.9H864.11V1453.8zM864.11 1453.8V1438.7H872.53V1453.8zM872.53 1453.8V1445.5H880.94V1453.8zM880.94 1453.8V1447.5H889.36V1453.8zM889.36 1453.8V1449.3H897.77V1453.8zM897.77 1453.8V1450.8H906.19V1453.8zM906.19 1453.8V1451.8H914.60V1453.8zM914.60 1453.8V1452.3H923.02V1453.8zM923.02 1453.8V1452.5H931.43V1453.8zM931.43 1453.8V1452.8H939.85V1453.8zM939.85 1453.8V1453.0H948.26V1453.8zM948.26 1453.8V1453.0H956.68V1453.8zM956.68 1453.8V1453.3H965.09V1453.8zM965.09 1453.8V1453.3H973.51V1453.8zM973.51 1453.8V1453.3H981.92V1453.8zM981.92 1453.8V1453.3H990.34V1453.8zM990.34 1453.8V1453.3H998.75V1453.8zM998.75 1453.8V1453.3H1007.17V1453.8zM1007.17 1453.8V1453.3H1015.58V1453.8z" fill="#a7229e"/>
<path d="M182.50 1453.8V1452.8H190.91V1453.8zM190.91 1453.8V1451.3H199.33V1453.8zM199.33 1453.8V1450.8H207.74V1453.8zM207.75 1453.8V1450.0H216.16V1453.8zM216.16 1453.8V1448.3H224.57V1453.8zM224.57 1453.8V1448.8H232.99V1453.8zM232.99 1453.8V1446.3H241.41V1453.8zM241.41 1453.8V1444.5H249.82V1453.8zM249.82 1453.8V1445.5H258.24V1453.8zM258.24 1453.8V1444.5H266.65V1453.8zM266.65 1453.8V1442.5H275.06V1453.8zM275.06 1453.8V1443.7H283.48V1453.8zM283.48 1453.8V1436.7H291.90V1453.8zM291.89 1453.8V1438.0H300.31V1453.8zM300.31 1453.8V1434.9H308.73V1453.8zM308.73 1453.8V1429.9H317.14V1453.8zM317.14 1453.8V1425.4H325.56V1453.8zM325.55 1453.8V1412.8H333.97V1453.8zM333.97 1453.8V1401.7H342.38V1453.8zM342.38 1453.8V1406.0H350.80V1453.8zM350.80 1453.8V1396.0H359.21V1453.8zM359.21 1453.8V1390.9H367.63V1453.8zM367.63 1453.8V1414.8H376.05V1453.8zM376.04 1453.8V1391.4H384.46V1453.8zM384.46 1453.8V1387.9H392.88V1453.8zM392.88 1453.8V1385.9H401.29V1453.8zM401.29 1453.8V1368.3H409.70V1453.8zM409.70 1453.8V1362.0H418.12V1453.8zM418.12 1453.8V1369.5H426.54V1453.8zM426.53 1453.8V1386.6H434.95V1453.8zM434.95 1453.8V1401.7H443.37V1453.8zM443.36 1453.8V1413.6H451.78V1453.8zM451.78 1453.8V1429.4H460.19V1453.8zM460.19 1453.8V1442.5H468.61V1453.8zM468.61 1453.8V1440.7H477.02V1453.8zM477.02 1453.8V1441.7H485.44V1453.8zM485.44 1453.8V1442.0H493.85V1453.8zM493.85 1453.8V1442.5H502.27V1453.8zM502.27 1453.8V1441.2H510.69V1453.8zM510.68 1453.8V1441.2H519.10V1453.8zM519.10 1453.8V1443.7H527.51V1453.8zM527.51 1453.8V1442.5H535.93V1453.8zM535.93 1453.8V1441.2H544.34V1453.8zM544.35 1453.8V1441.7H552.76V1453.8zM552.76 1453.8V1444.2H561.17V1453.8zM561.17 1453.8V1437.5H569.59V1453.8zM569.59 1453.8V1438.2H578.00V1453.8zM578.00 1453.8V1439.5H586.42V1453.8zM586.42 1453.8V1440.5H594.83V1453.8zM594.84 1453.8V1439.5H603.25V1453.8zM603.25 1453.8V1438.7H611.66V1453.8zM611.66 1453.8V1438.2H620.08V1453.8zM620.08 1453.8V1434.9H628.49V1453.8zM628.49 1453.8V1435.7H636.91V1453.8zM636.91 1453.8V1434.9H645.32V1453.8zM645.32 1453.8V1438.7H653.74V1453.8zM653.74 1453.8V1435.4H662.15V1453.8zM662.15 1453.8V1433.7H670.57V1453.8zM670.57 1453.8V1432.4H678.98V1453.8zM678.98 1453.8V1431.9H687.40V1453.8zM687.40 1453.8V1429.2H695.81V1453.8zM695.81 1453.8V1430.4H704.23V1453.8zM704.23 1453.8V1428.6H712.64V1453.8zM712.64 1453.8V1427.4H721.06V1453.8zM721.06 1453.8V1421.6H729.47V1453.8zM729.47 1453.8V1419.3H737.89V1453.8zM737.89 1453.8V1430.7H746.30V1453.8zM746.30 1453.8V1414.3H754.72V1453.8zM754.72 1453.8V1416.1H763.13V1453.8zM763.13 1453.8V1413.1H771.55V1453.8zM771.55 1453.8V1408.5H779.96V1453.8zM779.96 1453.8V1402.7H788.38V1453.8zM788.38 1453.8V1394.2H796.79V1453.8zM796.79 1453.8V1370.3H805.21V1453.8zM805.21 1453.8V1359.0H813.62V1453.8zM813.62 1453.8V1335.6H822.04V1453.8zM822.04 1453.8V1343.1H830.45V1453.8zM830.45 1453.8V1396.7H838.87V1453.8zM838.87 1453.8V1386.4H847.28V1453.8zM847.28 1453.8V1414.3H855.70V1453.8zM855.70 1453.8V1435.4H864.11V1453.8zM864.11 1453.8V1443.7H872.53V1453.8zM872.53 1453.8V1448.0H880.94V1453.8zM880.94 1453.8V1450.0H889.36V1453.8zM889.36 1453.8V1451.3H897.77V1453.8zM897.77 1453.8V1452.0H906.19V1453.8zM906.19 1453.8V1452.8H914.60V1453.8zM914.60 1453.8V1453.0H923.02V1453.8zM923.02 1453.8V1453.3H931.43V1453.8zM931.43 1453.8V1453.3H939.85V1453.8zM939.85 1453.8V1453.5H948.26V1453.8zM948.26 1453.8V1453.5H956.68V1453.8zM956.68 1453.8V1453.5H965.09V1453.8zM965.09 1453.8V1453.5H973.51V1453.8zM973.51 1453.8V1453.5H981.92V1453.8zM981.92 1453.8V1453.5H990.34V1453.8zM990.34 1453.8V1453.5H998.75V1453.8zM998.75 1453.8V1453.5H1007.17V1453.8zM1007.17 1453.8V1453.5H1015.58V1453.8z" fill="#ca4381"/>
<path d="M141.0 1208.6L141.0 1467.4" stroke="#000" stroke-width="3.3" fill="none" stroke-linecap="butt"/>
<path d="M139.3 1465.7L1057.0 1465.7" stroke="#000" stroke-width="3.3" fill="none" stroke-linecap="butt"/>
<rect x="141.0" y="1153.7" width="916.0" height="54.9" fill="#fff" stroke="#000" stroke-width="4.6"/>
<text x="599.5" y="1188.7" font-size="23.9" text-anchor="middle" font-weight="bold">SINE</text>
<path d="M128.2 1454.4L141.0 1454.4" stroke="#000" stroke-width="3.3" fill="none" stroke-linecap="butt"/>
<text x="123.4" y="1464.4" font-size="30.4" text-anchor="end">0.00</text>
<path d="M128.2 1389.9L141.0 1389.9" stroke="#000" stroke-width="3.3" fill="none" stroke-linecap="butt"/>
<text x="123.4" y="1399.9" font-size="30.4" text-anchor="end">0.02</text>
<path d="M128.2 1325.5L141.0 1325.5" stroke="#000" stroke-width="3.3" fill="none" stroke-linecap="butt"/>
<text x="123.4" y="1335.5" font-size="30.4" text-anchor="end">0.05</text>
<path d="M128.2 1261.2L141.0 1261.2" stroke="#000" stroke-width="3.3" fill="none" stroke-linecap="butt"/>
<text x="123.4" y="1271.2" font-size="30.4" text-anchor="end">0.08</text>
<path d="M240.7 1465.7L240.7 1478.5" stroke="#000" stroke-width="3.3" fill="none" stroke-linecap="butt"/>
<text x="240.7" y="1504.2" font-size="30.4" text-anchor="middle">100</text>
<path d="M529.0 1465.7L529.0 1478.5" stroke="#000" stroke-width="3.3" fill="none" stroke-linecap="butt"/>
<text x="529.0" y="1504.2" font-size="30.4" text-anchor="middle">200</text>
<path d="M818.0 1465.7L818.0 1478.5" stroke="#000" stroke-width="3.3" fill="none" stroke-linecap="butt"/>
<text x="818.0" y="1504.2" font-size="30.4" text-anchor="middle">300</text>
<path d="M182.30 1829.3V1828.3H190.63V1829.3zM190.63 1829.3V1828.5H198.97V1829.3zM198.97 1829.3V1828.5H207.30V1829.3zM207.30 1829.3V1828.5H215.63V1829.3zM215.63 1829.3V1828.3H223.97V1829.3zM223.97 1829.3V1828.3H232.30V1829.3zM232.30 1829.3V1827.3H240.63V1829.3zM240.63 1829.3V1828.8H248.96V1829.3zM248.96 1829.3V1828.0H257.30V1829.3zM257.30 1829.3V1827.3H265.63V1829.3zM265.63 1829.3V1828.3H273.96V1829.3zM273.96 1829.3V1826.8H282.30V1829.3zM282.30 1829.3V1825.5H290.63V1829.3zM290.63 1829.3V1825.8H298.96V1829.3zM298.96 1829.3V1822.8H307.30V1829.3zM307.30 1829.3V1827.8H315.63V1829.3zM315.63 1829.3V1819.0H323.96V1829.3zM323.96 1829.3V1826.5H332.29V1829.3zM332.29 1829.3V1826.0H340.63V1829.3zM340.63 1829.3V1827.0H348.96V1829.3zM348.96 1829.3V1821.0H357.29V1829.3zM357.29 1829.3V1823.3H365.63V1829.3zM365.63 1829.3V1812.7H373.96V1829.3zM373.96 1829.3V1816.0H382.29V1829.3zM382.29 1829.3V1798.1H390.63V1829.3zM390.62 1829.3V1815.7H398.96V1829.3zM398.96 1829.3V1793.1H407.29V1829.3zM407.29 1829.3V1806.9H415.62V1829.3zM415.62 1829.3V1808.2H423.96V1829.3zM423.96 1829.3V1807.7H432.29V1829.3zM432.29 1829.3V1769.9H440.62V1829.3zM440.62 1829.3V1770.7H448.96V1829.3zM448.96 1829.3V1770.4H457.29V1829.3zM457.29 1829.3V1741.0H465.62V1829.3zM465.62 1829.3V1747.8H473.96V1829.3zM473.96 1829.3V1696.5H482.29V1829.3zM482.29 1829.3V1735.5H490.62V1829.3zM490.62 1829.3V1658.5H498.95V1829.3zM498.95 1829.3V1595.9H507.29V1829.3zM507.29 1829.3V1660.5H515.62V1829.3zM515.62 1829.3V1726.7H523.95V1829.3zM523.95 1829.3V1803.9H532.29V1829.3zM532.29 1829.3V1805.7H540.62V1829.3zM540.62 1829.3V1814.5H548.95V1829.3zM548.95 1829.3V1809.7H557.28V1829.3zM557.29 1829.3V1819.0H565.62V1829.3zM565.62 1829.3V1819.5H573.95V1829.3zM573.95 1829.3V1806.9H582.28V1829.3zM582.28 1829.3V1811.9H590.62V1829.3zM590.62 1829.3V1812.7H598.95V1829.3zM598.95 1829.3V1789.6H607.28V1829.3zM607.28 1829.3V1807.2H615.62V1829.3zM615.62 1829.3V1805.7H623.95V1829.3zM623.95 1829.3V1806.4H632.28V1829.3zM632.28 1829.3V1796.4H640.62V1829.3zM640.62 1829.3V1807.7H648.95V1829.3zM648.95 1829.3V1814.5H657.28V1829.3zM657.28 1829.3V1806.4H665.61V1829.3zM665.61 1829.3V1817.2H673.95V1829.3zM673.95 1829.3V1814.0H682.28V1829.3zM682.28 1829.3V1817.0H690.61V1829.3zM690.61 1829.3V1803.9H698.95V1829.3zM698.95 1829.3V1815.7H707.28V1829.3zM707.28 1829.3V1808.9H715.61V1829.3zM715.61 1829.3V1801.4H723.95V1829.3zM723.94 1829.3V1817.2H732.28V1829.3zM732.28 1829.3V1814.5H740.61V1829.3zM740.61 1829.3V1824.0H748.94V1829.3zM748.94 1829.3V1826.8H757.28V1829.3zM757.28 1829.3V1828.5H765.61V1829.3zM765.61 1829.3V1828.3H773.94V1829.3zM773.94 1829.3V1827.0H782.28V1829.3zM782.28 1829.3V1827.8H790.61V1829.3zM790.61 1829.3V1826.5H798.94V1829.3zM798.94 1829.3V1827.3H807.27V1829.3zM807.28 1829.3V1828.3H815.61V1829.3zM815.61 1829.3V1828.5H823.94V1829.3zM823.94 1829.3V1828.3H832.27V1829.3zM832.27 1829.3V1827.0H840.61V1829.3zM840.61 1829.3V1828.5H848.94V1829.3zM848.94 1829.3V1827.8H857.27V1829.3zM857.27 1829.3V1826.5H865.61V1829.3zM865.61 1829.3V1828.5H873.94V1829.3zM873.94 1829.3V1828.5H882.27V1829.3zM882.27 1829.3V1826.8H890.60V1829.3zM890.61 1829.3V1828.0H898.94V1829.3zM898.94 1829.3V1828.3H907.27V1829.3zM907.27 1829.3V1828.3H915.60V1829.3zM915.60 1829.3V1827.8H923.94V1829.3zM923.94 1829.3V1827.0H932.27V1829.3zM932.27 1829.3V1828.3H940.60V1829.3zM940.60 1829.3V1828.0H948.94V1829.3zM948.94 1829.3V1826.5H957.27V1829.3zM957.27 1829.3V1828.0H965.60V1829.3zM965.60 1829.3V1828.3H973.94V1829.3zM973.93 1829.3V1827.0H982.27V1829.3zM982.27 1829.3V1828.3H990.60V1829.3zM990.60 1829.3V1828.5H998.93V1829.3zM998.93 1829.3V1827.5H1007.27V1829.3zM1007.27 1829.3V1828.0H1015.60V1829.3z" fill="#a7229e"/>
<path d="M182.30 1829.3V1828.8H190.63V1829.3zM190.63 1829.3V1829.0H198.97V1829.3zM198.97 1829.3V1829.0H207.30V1829.3zM207.30 1829.3V1829.0H215.63V1829.3zM215.63 1829.3V1828.8H223.97V1829.3zM223.97 1829.3V1828.8H232.30V1829.3zM232.30 1829.3V1828.3H240.63V1829.3zM240.63 1829.3V1829.0H248.96V1829.3zM248.96 1829.3V1828.5H257.30V1829.3zM257.30 1829.3V1828.0H265.63V1829.3zM265.63 1829.3V1828.8H273.96V1829.3zM273.96 1829.3V1827.8H282.30V1829.3zM282.30 1829.3V1827.0H290.63V1829.3zM290.63 1829.3V1827.3H298.96V1829.3zM298.96 1829.3V1826.5H307.30V1829.3zM307.30 1829.3V1828.5H315.63V1829.3zM315.63 1829.3V1826.5H323.96V1829.3zM323.96 1829.3V1827.8H332.29V1829.3zM332.29 1829.3V1827.5H340.63V1829.3zM340.63 1829.3V1828.0H348.96V1829.3zM348.96 1829.3V1823.3H357.29V1829.3zM357.29 1829.3V1824.5H365.63V1829.3zM365.63 1829.3V1817.7H373.96V1829.3zM373.96 1829.3V1821.5H382.29V1829.3zM382.29 1829.3V1809.4H390.63V1829.3zM390.62 1829.3V1821.0H398.96V1829.3zM398.96 1829.3V1806.9H407.29V1829.3zM407.29 1829.3V1816.0H415.62V1829.3zM415.62 1829.3V1814.5H423.96V1829.3zM423.96 1829.3V1817.7H432.29V1829.3zM432.29 1829.3V1794.3H440.62V1829.3zM440.62 1829.3V1796.9H448.96V1829.3zM448.96 1829.3V1791.3H457.29V1829.3zM457.29 1829.3V1781.8H465.62V1829.3zM465.62 1829.3V1791.3H473.96V1829.3zM473.96 1829.3V1765.7H482.29V1829.3zM482.29 1829.3V1792.6H490.62V1829.3zM490.62 1829.3V1751.6H498.95V1829.3zM498.95 1829.3V1727.7H507.29V1829.3zM507.29 1829.3V1756.9H515.62V1829.3zM515.62 1829.3V1789.3H523.95V1829.3zM523.95 1829.3V1818.2H532.29V1829.3zM532.29 1829.3V1819.0H540.62V1829.3zM540.62 1829.3V1822.0H548.95V1829.3zM548.95 1829.3V1818.5H557.28V1829.3zM557.29 1829.3V1821.0H565.62V1829.3zM565.62 1829.3V1824.0H573.95V1829.3zM573.95 1829.3V1819.0H582.28V1829.3zM582.28 1829.3V1820.2H590.62V1829.3zM590.62 1829.3V1822.3H598.95V1829.3zM598.95 1829.3V1812.7H607.28V1829.3zM607.28 1829.3V1818.5H615.62V1829.3zM615.62 1829.3V1817.0H623.95V1829.3zM623.95 1829.3V1817.7H632.28V1829.3zM632.28 1829.3V1811.4H640.62V1829.3zM640.62 1829.3V1817.7H648.95V1829.3zM648.95 1829.3V1820.7H657.28V1829.3zM657.28 1829.3V1816.5H665.61V1829.3zM665.61 1829.3V1823.3H673.95V1829.3zM673.95 1829.3V1821.5H682.28V1829.3zM682.28 1829.3V1823.3H690.61V1829.3zM690.61 1829.3V1817.7H698.95V1829.3zM698.95 1829.3V1822.0H707.28V1829.3zM707.28 1829.3V1816.5H715.61V1829.3zM715.61 1829.3V1813.2H723.95V1829.3zM723.94 1829.3V1823.3H732.28V1829.3zM732.28 1829.3V1821.5H740.61V1829.3zM740.61 1829.3V1826.5H748.94V1829.3zM748.94 1829.3V1828.0H757.28V1829.3zM757.28 1829.3V1828.8H765.61V1829.3zM765.61 1829.3V1828.8H773.94V1829.3zM773.94 1829.3V1828.3H782.28V1829.3zM782.28 1829.3V1828.5H790.61V1829.3zM790.61 1829.3V1828.0H798.94V1829.3zM798.94 1829.3V1828.3H807.27V1829.3zM807.28 1829.3V1828.8H815.61V1829.3zM815.61 1829.3V1829.0H823.94V1829.3zM823.94 1829.3V1828.8H832.27V1829.3zM832.27 1829.3V1828.0H840.61V1829.3zM840.61 1829.3V1829.0H848.94V1829.3zM848.94 1829.3V1828.5H857.27V1829.3zM857.27 1829.3V1827.8H865.61V1829.3zM865.61 1829.3V1829.0H873.94V1829.3zM873.94 1829.3V1829.0H882.27V1829.3zM882.27 1829.3V1828.0H890.60V1829.3zM890.61 1829.3V1828.8H898.94V1829.3zM898.94 1829.3V1828.8H907.27V1829.3zM907.27 1829.3V1828.8H915.60V1829.3zM915.60 1829.3V1828.5H923.94V1829.3zM923.94 1829.3V1828.0H932.27V1829.3zM932.27 1829.3V1828.8H940.60V1829.3zM940.60 1829.3V1828.8H948.94V1829.3zM948.94 1829.3V1827.8H957.27V1829.3zM957.27 1829.3V1828.8H965.60V1829.3zM965.60 1829.3V1828.8H973.94V1829.3zM973.93 1829.3V1828.0H982.27V1829.3zM982.27 1829.3V1828.8H990.60V1829.3zM990.60 1829.3V1829.0H998.93V1829.3zM998.93 1829.3V1828.3H1007.27V1829.3zM1007.27 1829.3V1828.8H1015.60V1829.3z" fill="#ca4381"/>
<path d="M141.0 1584.1L141.0 1842.9" stroke="#000" stroke-width="3.3" fill="none" stroke-linecap="butt"/>
<path d="M139.3 1841.2L1057.0 1841.2" stroke="#000" stroke-width="3.3" fill="none" stroke-linecap="butt"/>
<rect x="141.0" y="1529.2" width="916.0" height="54.9" fill="#fff" stroke="#000" stroke-width="4.6"/>
<text x="599.5" y="1564.2" font-size="23.9" text-anchor="middle" font-weight="bold">LTR</text>
<path d="M128.2 1829.7L141.0 1829.7" stroke="#000" stroke-width="3.3" fill="none" stroke-linecap="butt"/>
<text x="123.4" y="1839.7" font-size="30.4" text-anchor="end">0.00</text>
<path d="M128.2 1776.8L141.0 1776.8" stroke="#000" stroke-width="3.3" fill="none" stroke-linecap="butt"/>
<text x="123.4" y="1786.8" font-size="30.4" text-anchor="end">0.05</text>
<path d="M128.2 1723.9L141.0 1723.9" stroke="#000" stroke-width="3.3" fill="none" stroke-linecap="butt"/>
<text x="123.4" y="1733.9" font-size="30.4" text-anchor="end">0.10</text>
<path d="M128.2 1671.0L141.0 1671.0" stroke="#000" stroke-width="3.3" fill="none" stroke-linecap="butt"/>
<text x="123.4" y="1681.0" font-size="30.4" text-anchor="end">0.15</text>
<path d="M128.2 1617.9L141.0 1617.9" stroke="#000" stroke-width="3.3" fill="none" stroke-linecap="butt"/>
<text x="123.4" y="1627.9" font-size="30.4" text-anchor="end">0.20</text>
<path d="M258.3 1841.2L258.3 1854.0" stroke="#000" stroke-width="3.3" fill="none" stroke-linecap="butt"/>
<text x="258.3" y="1879.7" font-size="30.4" text-anchor="middle">100</text>
<path d="M439.6 1841.2L439.6 1854.0" stroke="#000" stroke-width="3.3" fill="none" stroke-linecap="butt"/>
<text x="439.6" y="1879.7" font-size="30.4" text-anchor="middle">150</text>
<path d="M621.3 1841.2L621.3 1854.0" stroke="#000" stroke-width="3.3" fill="none" stroke-linecap="butt"/>
<text x="621.3" y="1879.7" font-size="30.4" text-anchor="middle">200</text>
<path d="M803.2 1841.2L803.2 1854.0" stroke="#000" stroke-width="3.3" fill="none" stroke-linecap="butt"/>
<text x="803.2" y="1879.7" font-size="30.4" text-anchor="middle">250</text>
<path d="M984.5 1841.2L984.5 1854.0" stroke="#000" stroke-width="3.3" fill="none" stroke-linecap="butt"/>
<text x="984.5" y="1879.7" font-size="30.4" text-anchor="middle">300</text>
<text x="599.2" y="1919.6" font-size="30.8" text-anchor="middle">nanopore read length (bp)</text>
<text transform="translate(42.6 960.0) rotate(-90)" font-size="30.8" text-anchor="middle" letter-spacing="0.05">proportion of nanopore reads</text>
<text x="0.6" y="22.6" font-size="30.3" font-weight="bold">A</text>
<text x="1107.2" y="22.2" font-size="30.3" font-weight="bold">B</text>
<text x="1106.3" y="1412.3" font-size="30.3" font-weight="bold">C</text>
<g transform="translate(950.30 27.60) scale(3.460 1.1333)">
<path d="M166 64l1 1v2l-1 1l-1-1v-2zm-7 3l1 1v2l-1 1l-1-1v-2zm4 12l1 1v2l-1 1l-1-1v-2zm118 0l1 1v2l-1 1l-1-1v-2zm-112 6l1 1v2l-1 1l-1-1v-2zm38 6l1 1v2l-1 1l-1-1v-2zm78 0l1 1v2l-1 1l-1-1v-2zm-165 3l1 1v2l-1 1l-1-1v-2zm12 0l1 1v2l-1 1l-1-1v-2zm10 0l1 1v2l-1 1l-1-1v-2zm-11 3l1 1v2l-1 1l-1-1v-2zm10 0h2l1 1v2l-1 1l-1-1-1 1l-1-1v-2zm20 0l1 1v2l-1 1l-1-1v-2zm-39 3l1 1v2l-1 1l-1-1v-2zm30 0l1 1v2l-1 1l-1-1v-2zm6 0l1 1v2l-1 1l-1-1v-2zm88 0l1 1v2l-1 1l-1-1v-2zm-123 3l1 1v2l-1 1l-1-1v-2zm14 0l1 1 1-1l1 1v2l-1 1l-1-1-1 1l-1-1v-2zm16 0l1 1v2l-1 1l-1-1v-2zm-17 3l1 1v2l-1 1l-1-1v-2zm16 0l1 1v2l-1 1l-1-1v-2zm124 0l1 1v2l-1 1l-1-1v-2zm14 0l1 1v2l-1 1l-1-1v-2zm40 0l1 1v2l-1 1l-1-1v-2zm-227 3l1 1v2l-1 1l-1-1v-2zm52 0l1 1 1-1l1 1v2l-1 1l-1-1-1 1l-1-1v-2zm58 0l1 1v2l-1 1l-1-1v-2zm86 0l1 1v2l-1 1l-1-1v-2zm20 0l1 1v2l-1 1l-1-1v-2zm-153 3l1 1v2l-1 1l-1-1v-2zm6 0l1 1v2l-1 1l-1-1v-2zm112 0l1 1v2l-1 1l-1-1v-2zm-163 3l1 1v2l-1 1l-1-1v-2zm32 0l1 1v2l-1 1l-1-1v-2zm100 0l1 1 1-1l1 1v2l-1 1l-1-1-1 1l-1-1v-2zm-137 3l1 1v2l-1 1l-1-1v-2zm38 0l1 1v2l-1 1l-1-1v-2zm4 0l1 1v2l-1 1l-1-1v-2zm4 0l1 1v2l-1 1l-1-1v-2zm46 0l1 1v2l-1 1l-1-1v-2zm24 0l1 1v2l-1 1l-1-1v-2zm42 0l1 1v2l-1 1l-1-1v-2zm14 0l1 1 1-1l1 1v2l-1 1l-1-1-1 1l-1-1v-2zm26 0l1 1v2l-1 1l-1-1v-2zm-197 3l1 1v2l-1 1l-1-1v-2zm10 0l1 1v2l-1 1l-1-1v-2zm14 0l1 1v2l-1 1l-1-1v-2zm14 0l1 1v2l-1 1l-1-1v-2zm4 0l1 1v2l-1 1l-1-1v-2zm8 0l1 1v2l-1 1l-1-1v-2zm30 0l1 1v2l-1 1l-1-1v-2zm82 0l1 1v2l-1 1l-1-1v-2zm30 0l1 1v2l-1 1l-1-1v-2zm-175 3l1 1v2l-1 1l-1-1v-2zm14 0l1 1v2l-1 1l-1-1v-2zm6 0l1 1v2l-1 1l-1-1v-2zm8 0l1 1v2l-1 1l-1-1v-2zm14 0l1 1v2l-1 1l-1-1v-2zm8 0l1 1v2l-1 1l-1-1v-2zm8 0l1 1v2l-1 1l-1-1v-2zm56 0l1 1v2l-1 1l-1-1v-2zm28 0l1 1v2l-1 1l-1-1v-2zm24 0l1 1v2l-1 1l-1-1v-2zm18 0l1 1v2l-1 1l-1-1v-2zm-187 3l1 1v2l-1 1l-1-1v-2zm12 0l1 1v2l-1 1l-1-1v-2zm6 0l1 1v2l-1 1l-1-1v-2zm12 0l1 1v2l-1 1l-1-1v-2zm6 0l1 1 1-1l1 1 1-1l1 1v2l-1 1l-1-1-1 1l-1-1-1 1l-1-1v-2zm148 0l1 1v2l-1 1l-1-1v-2zm-199 3l1 1v2l-1 1l-1-1v-2zm28 0l1 1 1-1l1 1 1-1l1 1v2l-1 1l-1-1-1 1l-1-1-1 1l-1-1v-2zm18 0l1 1 1-1l1 1v2l-1 1h-2l-1-1v-2zm134 0l1 1 1-1l1 1v2l-1 1h-2l-1-1v-2zm14 0l1 1v2l-1 1l-1-1v-2zm-181 3l1 1v2l-1 1l-1-1v-2zm4 0l1 1v2l-1 1l-1-1v-2zm20 0l1 1v2l-1 1l-1-1v-2zm6 0l1 1 1-1h2l1 1v2l-1 1l-1-1-1 1l-1-1-1 1l-1-1v-2zm8 0l1 1 1-1l1 1v2l-1 1h-2l-1-1v-2zm6 0l1 1v2l-1 1l-1-1v-2zm72 0l1 1v2l-1 1l-1-1v-2zm28 0l1 1v2l-1 1l-1-1v-2zm6 0l1 1v2l-1 1l-1-1v-2zm18 0l1 1v2l-1 1l-1-1v-2zm-169 3h2l1 1 1-1l1 1v2l-1 1l-1-1-1 1l-1-1-1 1l-1-1v-2zm10 0l1 1v2l-1 1l-1-1v-2zm4 0l1 1 1-1l1 1v2l-1 1h-2l-1-1v-2zm8 0l1 1v2l-1 1l-1-1v-2zm6 0l1 1 1-1l1 1v2l-1 1h-2l-1-1v-2zm8 0l1 1 1-1h4l1 1v2l-1 1l-1-1-1 1h-4l-1-1v-2zm30 0l1 1v2l-1 1l-1-1v-2zm28 0l1 1v2l-1 1l-1-1v-2zm18 0l1 1v2l-1 1l-1-1v-2zm40 0l1 1v2l-1 1l-1-1v-2zm14 0l1 1v2l-1 1l-1-1v-2zm12 0l1 1v2l-1 1l-1-1v-2zm4 0l1 1v2l-1 1l-1-1v-2zm-185 3l1 1v2l-1 1l-1-1v-2zm10 0l1 1 1-1l1 1v2l-1 1l-1-1-1 1l-1-1v-2zm8 0h2l1 1 1-1l1 1 1-1l1 1v2l-1 1h-4l-1-1-1 1l-1-1v-2zm10 0l1 1v2l-1 1l-1-1v-2zm4 0h2l1 1v2l-1 1h-2l-1-1v-2zm6 0h4l1 1v2l-1 1h-4l-1-1v-2zm8 0l1 1 1-1l1 1v2l-1 1h-2l-1-1v-2zm6 0l1 1 1-1l1 1v2l-1 1l-1-1-1 1l-1-1v-2zm10 0l1 1v2l-1 1l-1-1v-2zm26 0l1 1 1-1l1 1v2l-1 1h-2l-1-1v-2zm12 0l1 1v2l-1 1l-1-1v-2zm4 0l1 1v2l-1 1l-1-1v-2zm6 0l1 1v2l-1 1l-1-1v-2zm20 0l1 1v2l-1 1l-1-1v-2zm38 0l1 1v2l-1 1l-1-1v-2zm4 0l1 1 1-1l1 1v2l-1 1h-2l-1-1v-2zm16 0l1 1v2l-1 1l-1-1v-2zm-173 3l1 1v2l-1 1l-1-1v-2zm6 0h4l1 1 1-1h2l1 1 1-1h4l1 1 1-1h6l1 1 1-1h2l1 1v2l-1 1h-4l-1-1-1 1h-10l-1-1-1 1h-2l-1-1-1 1h-4l-1-1v-2zm40 0l1 1v2l-1 1l-1-1v-2zm6 0l1 1 1-1l1 1v2l-1 1l-1-1-1 1l-1-1v-2zm6 0l1 1v2l-1 1l-1-1v-2zm4 0l1 1v2l-1 1l-1-1v-2zm12 0h2l1 1v2l-1 1l-1-1-1 1l-1-1v-2zm6 0l1 1v2l-1 1l-1-1v-2zm34 0h2l1 1v2l-1 1l-1-1-1 1l-1-1v-2zm14 0l1 1 1-1l1 1v2l-1 1l-1-1-1 1l-1-1v-2zm12 0l1 1v2l-1 1l-1-1v-2zm10 0l1 1v2l-1 1l-1-1v-2zm4 0l1 1 1-1h4l1 1 1-1l1 1v2l-1 1h-8l-1-1v-2zm18 0l1 1v2l-1 1l-1-1v-2zm-169 3l1 1 1-1h4l1 1v2l-1 1h-2l-1-1-1 1h-2l-1-1v-2zm10 0l1 1v2l-1 1l-1-1v-2zm4 0h8l1 1v2l-1 1h-8l-1-1v-2zm12 0h2l1 1v2l-1 1l-1-1-1 1l-1-1v-2zm18 0l1 1 1-1l1 1v2l-1 1h-2l-1-1v-2zm18 0l1 1v2l-1 1l-1-1v-2zm14 0l1 1v2l-1 1l-1-1v-2zm6 0l1 1v2l-1 1l-1-1v-2zm36 0l1 1v2l-1 1l-1-1v-2zm6 0l1 1v2l-1 1l-1-1v-2zm10 0l1 1v2l-1 1l-1-1v-2zm18 0h8l1 1 1-1l1 1v2l-1 1h-4l-1-1-1 1h-2l-1-1-1 1l-1-1v-2zm-171 3l1 1 1-1l1 1v2l-1 1l-1-1-1 1l-1-1v-2zm6 0l1 1v2l-1 1l-1-1v-2zm4 0l1 1 1-1l1 1v2l-1 1h-2l-1-1v-2zm8 0h2l1 1v2l-1 1h-2l-1-1v-2zm6 0h2l1 1 1-1h2l1 1 1-1h10l1 1 1-1l1 1v2l-1 1h-20l-1-1v-2zm24 0l1 1 1-1l1 1v2l-1 1h-2l-1-1v-2zm12 0l1 1v2l-1 1l-1-1v-2zm4 0l1 1v2l-1 1l-1-1v-2zm46 0l1 1v2l-1 1l-1-1v-2zm4 0l1 1v2l-1 1l-1-1v-2zm4 0l1 1v2l-1 1l-1-1v-2zm16 0l1 1v2l-1 1l-1-1v-2zm8 0l1 1v2l-1 1l-1-1v-2zm4 0l1 1v2l-1 1l-1-1v-2zm4 0l1 1 1-1l1 1v2l-1 1l-1-1-1 1l-1-1v-2zm8 0l1 1 1-1l1 1v2l-1 1l-1-1-1 1l-1-1v-2zm6 0l1 1v2l-1 1l-1-1v-2zm4 0l1 1v2l-1 1l-1-1v-2zm6 0l1 1v2l-1 1l-1-1v-2zm4 0h2l1 1v2l-1 1h-2l-1-1v-2zm-175 3l1 1 1-1l1 1v2l-1 1h-2l-1-1v-2zm6 0h4l1 1v2l-1 1h-2l-1-1-1 1l-1-1v-2zm10 0h2l1 1 1-1h22l1 1 1-1h2l1 1v2l-1 1h-30l-1-1v-2zm34 0l1 1 1-1l1 1v2l-1 1h-2l-1-1v-2zm6 0h2l1 1 1-1l1 1v2l-1 1l-1-1-1 1l-1-1-1 1l-1-1v-2zm10 0l1 1 1-1l1 1 1-1l1 1 1-1l1 1v2l-1 1l-1-1-1 1l-1-1-1 1h-2l-1-1v-2zm12 0l1 1v2l-1 1l-1-1v-2zm6 0l1 1v2l-1 1l-1-1v-2zm16 0l1 1 1-1l1 1v2l-1 1l-1-1-1 1l-1-1v-2zm12 0l1 1v2l-1 1l-1-1v-2zm8 0l1 1v2l-1 1l-1-1v-2zm24 0l1 1v2l-1 1l-1-1v-2zm8 0l1 1v2l-1 1l-1-1v-2zm14 0l1 1 1-1l1 1v2l-1 1h-2l-1-1v-2zm6 0l1 1 1-1h4l1 1v2l-1 1l-1-1-1 1l-1-1-1 1h-2l-1-1v-2zm-195 3l1 1v2l-1 1l-1-1v-2zm16 0l1 1v2l-1 1l-1-1v-2zm8 0l1 1v2l-1 1l-1-1v-2zm8 0l1 1v2l-1 1l-1-1v-2zm4 0l1 1 1-1h32l1 1 1-1h4l1 1 1-1l1 1v2l-1 1h-10l-1-1-1 1h-30l-1-1v-2zm48 0l1 1 1-1l1 1v2l-1 1h-2l-1-1v-2zm6 0l1 1v2l-1 1l-1-1v-2zm6 0l1 1v2l-1 1l-1-1v-2zm6 0l1 1v2l-1 1l-1-1v-2zm4 0h2l1 1v2l-1 1l-1-1-1 1l-1-1v-2zm6 0l1 1 1-1l1 1 1-1l1 1 1-1l1 1v2l-1 1h-2l-1-1-1 1l-1-1-1 1l-1-1v-2zm10 0l1 1v2l-1 1l-1-1v-2zm10 0l1 1 1-1h2l1 1 1-1l1 1v2l-1 1h-2l-1-1-1 1l-1-1-1 1l-1-1v-2zm12 0l1 1 1-1l1 1v2l-1 1h-2l-1-1v-2zm6 0l1 1v2l-1 1l-1-1v-2zm8 0l1 1v2l-1 1l-1-1v-2zm16 0h2l1 1v2l-1 1l-1-1-1 1l-1-1v-2zm6 0l1 1 1-1l1 1v2l-1 1h-2l-1-1v-2zm8 0h4l1 1 1-1h2l1 1v2l-1 1h-8l-1-1v-2zm-185 3l1 1v2l-1 1l-1-1v-2zm8 0l1 1 1-1l1 1 1-1l1 1v2l-1 1h-4l-1-1v-2zm8 0l1 1 1-1l1 1 1-1h2l1 1 1-1l1 1v2l-1 1h-2l-1-1-1 1l-1-1-1 1h-2l-1-1v-2zm12 0h2l1 1 1-1h30l1 1v2l-1 1h-34l-1-1v-2zm38 0h10l1 1 1-1l1 1v2l-1 1h-12l-1-1v-2zm16 0h2l1 1v2l-1 1h-2l-1-1v-2zm12 0l1 1v2l-1 1l-1-1v-2zm4 0l1 1v2l-1 1l-1-1v-2zm8 0l1 1v2l-1 1l-1-1v-2zm8 0l1 1v2l-1 1l-1-1v-2zm6 0l1 1 1-1l1 1v2l-1 1l-1-1-1 1l-1-1v-2zm8 0l1 1v2l-1 1l-1-1v-2zm6 0h2l1 1 1-1l1 1v2l-1 1h-4l-1-1v-2zm8 0l1 1v2l-1 1l-1-1v-2zm6 0l1 1v2l-1 1l-1-1v-2zm6 0l1 1v2l-1 1l-1-1v-2zm4 0l1 1 1-1l1 1v2l-1 1h-2l-1-1v-2zm8 0l1 1v2l-1 1l-1-1v-2zm4 0l1 1v2l-1 1l-1-1v-2zm8 0h2l1 1 1-1l1 1 1-1h10l1 1v2l-1 1h-16l-1-1v-2zm-179 3l1 1v2l-1 1l-1-1v-2zm8 0h4l1 1v2l-1 1h-2l-1-1-1 1l-1-1v-2zm8 0h2l1 1v2l-1 1h-2l-1-1v-2zm8 0h2l1 1 1-1h36l1 1 1-1h14l1 1 1-1h4l1 1 1-1l1 1 1-1l1 1v2l-1 1l-1-1-1 1h-64l-1-1v-2zm70 0h2l1 1 1-1l1 1v2l-1 1h-4l-1-1v-2zm10 0l1 1v2l-1 1l-1-1v-2zm4 0l1 1v2l-1 1l-1-1v-2zm6 0l1 1v2l-1 1l-1-1v-2zm4 0l1 1 1-1l1 1v2l-1 1l-1-1-1 1l-1-1v-2zm6 0l1 1v2l-1 1l-1-1v-2zm4 0l1 1v2l-1 1l-1-1v-2zm4 0l1 1v2l-1 1l-1-1v-2zm4 0h4l1 1 1-1l1 1v2l-1 1h-2l-1-1-1 1h-2l-1-1v-2zm10 0l1 1v2l-1 1l-1-1v-2zm4 0l1 1 1-1l1 1v2l-1 1h-2l-1-1v-2zm6 0l1 1 1-1h4l1 1v2l-1 1l-1-1-1 1h-2l-1-1-1 1l-1-1v-2zm10 0h2l1 1 1-1h2l1 1 1-1l1 1 1-1l1 1 1-1h16l1 1v2l-1 1l-1-1-1 1h-26l-1-1v-2zm-155 3h2l1 1 1-1h4l1 1v2l-1 1h-6l-1-1-1 1l-1-1v-2zm12 0h64l1 1v2l-1 1h-64l-1-1v-2zm70 0h6l1 1 1-1l1 1 1-1h2l1 1 1-1h2l1 1 1-1l1 1 1-1l1 1v2l-1 1h-6l-1-1-1 1h-6l-1-1-1 1h-2l-1-1-1 1l-1-1v-2zm24 0l1 1v2l-1 1l-1-1v-2zm8 0l1 1 1-1h2l1 1 1-1h2l1 1v2l-1 1h-8l-1-1v-2zm12 0l1 1v2l-1 1l-1-1v-2zm4 0l1 1v2l-1 1l-1-1v-2zm4 0l1 1v2l-1 1l-1-1v-2zm4 0h4l1 1 1-1l1 1v2l-1 1h-6l-1-1v-2zm10 0l1 1v2l-1 1l-1-1v-2zm4 0l1 1v2l-1 1l-1-1v-2zm4 0h24l1 1v2l-1 1l-1-1-1 1h-22l-1-1v-2zm-169 3l1 1 1-1l1 1v2l-1 1l-1-1-1 1l-1-1v-2zm10 0l1 1 1-1l1 1v2l-1 1h-2l-1-1v-2zm6 0h6l1 1 1-1h66l1 1 1-1l1 1 1-1l1 1v2l-1 1h-78l-1-1v-2zm82 0l1 1v2l-1 1l-1-1v-2zm4 0h4l1 1v2l-1 1h-2l-1-1-1 1l-1-1v-2zm8 0h6l1 1 1-1h2l1 1 1-1l1 1 1-1l1 1 1-1h10l1 1 1-1h2l1 1 1-1h2l1 1 1-1h2l1 1 1-1h8l1 1 1-1l1 1v2l-1 1h-26l-1-1-1 1h-22l-1-1v-2zm54 0h2l1 1 1-1h22l1 1v2l-1 1h-24l-1-1-1 1l-1-1v-2zm-155 3h4l1 1 1-1h80l1 1 1-1h2l1 1 1-1l1 1v2l-1 1h-92l-1-1v-2zm96 0h2l1 1 1-1h22l1 1v2l-1 1h-26l-1-1v-2zm30 0h26l1 1 1-1l1 1v2l-1 1h-28l-1-1v-2zm32 0h22l1 1v2l-1 1l-1-1-1 1h-20l-1-1v-2zm-167 3l1 1 1-1l1 1 1-1l1 1v2l-1 1h-2l-1-1-1 1l-1-1v-2zm10 0h92l1 1 1-1h28l1 1 1-1h30l1 1 1-1h20l1 1v2l-1 1h-20l-1-1-1 1h-154l-1-1v-2zm-15 3l1 1 1-1l1 1v2l-1 1l-1-1-1 1l-1-1v-2zm8 0h2l1 1 1-1l1 1 1-1h154l1 1v2l-1 1h-154l-1-1-1 1l-1-1-1 1h-2l-1-1v-2zm164 0h18l1 1v2l-1 1l-1-1-1 1h-16l-1-1v-2zm-167 3l1 1 1-1h2l1 1v2l-1 1l-1-1-1 1h-2l-1-1v-2zm10 0h152l1 1v2l-1 1h-152l-1-1v-2zm156 0h16l1 1v2l-1 1h-16l-1-1v-2zm-169 3l1 1 1-1h2l1 1v2l-1 1h-4l-1-1v-2zm8 0l1 1 1-1l1 1 1-1h154l1 1 1-1h16l1 1v2l-1 1l-1-1-1 1h-172l-1-1-1 1l-1-1v-2zm-7 3h4l1 1 1-1l1 1v2l-1 1h-6l-1-1v-2zm10 0h170l1 1v2l-1 1h-170l-1-1v-2zm-15 3l1 1v2l-1 1l-1-1v-2zm6 0h6l1 1 1-1h170l1 1v2l-1 1l-1-1-1 1h-174l-1-1-1 1l-1-1v-2zm3 3h172l1 1v2l-1 1h-168l-1-1-1 1h-2l-1-1v-2zm-3 3l1 1 1-1h2l1 1v2l-1 1h-2l-1-1-1 1l-1-1v-2zm8 0h166l1 1v2l-1 1l-1-1-1 1h-38l-1-1-1 1h-124l-1-1v-2zm-13 3l1 1v2l-1 1l-1-1v-2zm8 0h2l1 1v2l-1 1h-2l-1-1v-2zm6 0h122l1 1v2l-1 1h-122l-1-1v-2zm126 0h36l1 1v2l-1 1l-1-1-1 1h-34l-1-1v-2zm-141 3h2l1 1 1-1l1 1 1-1l1 1v2l-1 1h-4l-1-1-1 1l-1-1v-2zm10 0h2l1 1 1-1h124l1 1 1-1h34l1 1v2l-1 1h-160l-1-1-1 1h-2l-1-1v-2zm-7 3h2l1 1v2l-1 1l-1-1-1 1l-1-1v-2zm6 0h2l1 1v2l-1 1h-2l-1-1v-2zm6 0h158l1 1v2l-1 1l-1-1-1 1h-152l-1-1-1 1h-2l-1-1v-2zm-7 3h2l1 1v2l-1 1l-1-1-1 1l-1-1v-2zm8 0l1 1v2l-1 1l-1-1v-2zm4 0h150l1 1v2l-1 1h-150l-1-1v-2zm-15 3l1 1 1-1l1 1v2l-1 1l-1-1-1 1l-1-1v-2zm6 0l1 1v2l-1 1l-1-1v-2zm4 0h2l1 1 1-1h150l1 1v2l-1 1l-1-1-1 1h-14l-1-1-1 1h-12l-1-1-1 1h-2l-1-1-1 1h-2l-1-1-1 1h-18l-1-1-1 1h-2l-1-1-1 1h-6l-1-1-1 1h-78l-1-1-1 1h-2l-1-1v-2zm-7 3l1 1v2l-1 1l-1-1v-2zm4 0l1 1v2l-1 1l-1-1v-2zm4 0l1 1v2l-1 1l-1-1v-2zm4 0h76l1 1v2l-1 1h-8l-1-1-1 1l-1-1-1 1h-50l-1-1-1 1h-8l-1-1-1 1h-2l-1-1v-2zm80 0h4l1 1v2l-1 1h-4l-1-1v-2zm8 0l1 1v2l-1 1l-1-1v-2zm4 0h16l1 1v2l-1 1h-2l-1-1-1 1h-8l-1-1-1 1h-2l-1-1v-2zm20 0l1 1v2l-1 1l-1-1v-2zm4 0l1 1v2l-1 1l-1-1v-2zm4 0h10l1 1v2l-1 1h-6l-1-1-1 1l-1-1-1 1l-1-1v-2zm14 0h12l1 1v2l-1 1h-12l-1-1v-2zm-143 3h2l1 1v2l-1 1l-1-1-1 1l-1-1v-2zm8 0h2l1 1v2l-1 1l-1-1-1 1l-1-1v-2zm6 0h6l1 1v2l-1 1h-2l-1-1-1 1l-1-1-1 1l-1-1v-2zm10 0h48l1 1v2l-1 1h-48l-1-1v-2zm54 0h8l1 1 1-1h6l1 1 1-1l1 1v2l-1 1l-1-1-1 1h-8l-1-1-1 1l-1-1-1 1h-4l-1-1v-2zm22 0h2l1 1v2l-1 1l-1-1-1 1l-1-1v-2zm6 0h6l1 1v2l-1 1h-4l-1-1-1 1l-1-1v-2zm10 0h2l1 1 1-1h2l1 1v2l-1 1l-1-1-1 1l-1-1-1 1h-2l-1-1v-2zm10 0l1 1v2l-1 1l-1-1v-2zm8 0h6l1 1v2l-1 1h-6l-1-1v-2zm10 0h10l1 1v2l-1 1l-1-1-1 1h-8l-1-1v-2zm-153 3l1 1v2l-1 1l-1-1v-2zm14 0l1 1 1-1l1 1v2l-1 1h-2l-1-1v-2zm6 0l1 1v2l-1 1l-1-1v-2zm8 0l1 1v2l-1 1l-1-1v-2zm4 0h50l1 1 1-1l1 1 1-1h4l1 1v2l-1 1l-1-1-1 1l-1-1-1 1h-52l-1-1-1 1l-1-1v-2zm64 0h6l1 1v2l-1 1h-6l-1-1v-2zm16 0l1 1 1-1l1 1v2l-1 1h-2l-1-1v-2zm6 0h2l1 1v2l-1 1l-1-1-1 1l-1-1v-2zm6 0h2l1 1v2l-1 1h-2l-1-1v-2zm8 0l1 1 1-1h2l1 1v2l-1 1l-1-1-1 1h-2l-1-1v-2zm8 0l1 1 1-1h8l1 1 1-1h8l1 1v2l-1 1h-10l-1-1-1 1h-2l-1-1-1 1h-4l-1-1v-2zm-139 3l1 1v2l-1 1l-1-1v-2zm4 0l1 1v2l-1 1l-1-1v-2zm4 0l1 1v2l-1 1l-1-1v-2zm6 0l1 1v2l-1 1l-1-1v-2zm6 0l1 1v2l-1 1l-1-1v-2zm4 0l1 1 1-1h2l1 1 1-1l1 1v2l-1 1h-2l-1-1-1 1h-2l-1-1v-2zm10 0h50l1 1v2l-1 1h-40l-1-1-1 1h-6l-1-1-1 1l-1-1v-2zm56 0l1 1 1-1l1 1 1-1h6l1 1v2l-1 1h-2l-1-1-1 1h-4l-1-1-1 1l-1-1v-2zm16 0l1 1v2l-1 1l-1-1v-2zm4 0h2l1 1v2l-1 1h-2l-1-1v-2zm6 0l1 1v2l-1 1l-1-1v-2zm8 0l1 1v2l-1 1l-1-1v-2zm4 0l1 1 1-1h2l1 1v2l-1 1l-1-1-1 1h-2l-1-1v-2zm8 0l1 1v2l-1 1l-1-1v-2zm4 0h2l1 1v2l-1 1l-1-1-1 1l-1-1v-2zm6 0l1 1v2l-1 1l-1-1v-2zm4 0h8l1 1v2l-1 1l-1-1-1 1h-6l-1-1v-2zm-151 3l1 1v2l-1 1l-1-1v-2zm4 0l1 1v2l-1 1l-1-1v-2zm10 0l1 1v2l-1 1l-1-1v-2zm12 0l1 1v2l-1 1l-1-1v-2zm4 0h2l1 1v2l-1 1l-1-1-1 1l-1-1v-2zm8 0h4l1 1v2l-1 1l-1-1-1 1h-2l-1-1v-2zm8 0h40l1 1v2l-1 1l-1-1-1 1h-2l-1-1-1 1l-1-1-1 1h-32l-1-1v-2zm44 0l1 1v2l-1 1l-1-1v-2zm4 0h2l1 1v2l-1 1h-2l-1-1v-2zm6 0l1 1v2l-1 1l-1-1v-2zm4 0l1 1 1-1h2l1 1 1-1h2l1 1v2l-1 1h-2l-1-1-1 1h-2l-1-1-1 1l-1-1v-2zm12 0h2l1 1 1-1l1 1 1-1l1 1 1-1h2l1 1v2l-1 1l-1-1-1 1h-2l-1-1-1 1h-4l-1-1v-2zm14 0l1 1v2l-1 1l-1-1v-2zm4 0l1 1 1-1l1 1v2l-1 1l-1-1-1 1l-1-1v-2zm6 0l1 1v2l-1 1l-1-1v-2zm4 0l1 1 1-1h2l1 1v2l-1 1h-4l-1-1v-2zm8 0h4l1 1v2l-1 1h-4l-1-1v-2zm-129 3l1 1 1-1l1 1v2l-1 1l-1-1-1 1l-1-1v-2zm12 0l1 1 1-1h2l1 1v2l-1 1h-4l-1-1v-2zm8 0l1 1 1-1h32l1 1v2l-1 1h-2l-1-1-1 1h-30l-1-1v-2zm40 0l1 1v2l-1 1l-1-1v-2zm4 0l1 1v2l-1 1l-1-1v-2zm8 0h2l1 1v2l-1 1l-1-1-1 1l-1-1v-2zm12 0l1 1v2l-1 1l-1-1v-2zm4 0l1 1v2l-1 1l-1-1v-2zm6 0h2l1 1v2l-1 1h-2l-1-1v-2zm6 0l1 1v2l-1 1l-1-1v-2zm4 0l1 1v2l-1 1l-1-1v-2zm4 0l1 1v2l-1 1l-1-1v-2zm10 0l1 1 1-1h6l1 1 1-1h4l1 1v2l-1 1l-1-1-1 1h-12l-1-1v-2zm-139 3l1 1v2l-1 1l-1-1v-2zm4 0l1 1v2l-1 1l-1-1v-2zm8 0l1 1 1-1l1 1v2l-1 1l-1-1-1 1l-1-1v-2zm8 0l1 1v2l-1 1l-1-1v-2zm4 0l1 1 1-1l1 1v2l-1 1l-1-1-1 1l-1-1v-2zm6 0l1 1v2l-1 1l-1-1v-2zm4 0h4l1 1v2l-1 1h-4l-1-1v-2zm8 0h28l1 1v2l-1 1l-1-1-1 1h-24l-1-1-1 1l-1-1v-2zm32 0l1 1v2l-1 1l-1-1v-2zm6 0h2l1 1v2l-1 1l-1-1-1 1l-1-1v-2zm10 0l1 1v2l-1 1l-1-1v-2zm8 0l1 1 1-1l1 1 1-1l1 1v2l-1 1h-2l-1-1-1 1l-1-1v-2zm8 0l1 1v2l-1 1l-1-1v-2zm4 0l1 1 1-1l1 1 1-1h2l1 1v2l-1 1h-6l-1-1v-2zm10 0h2l1 1v2l-1 1l-1-1-1 1l-1-1v-2zm6 0l1 1 1-1h2l1 1 1-1l1 1 1-1l1 1v2l-1 1h-8l-1-1v-2zm12 0h12l1 1v2l-1 1h-12l-1-1v-2zm-141 3l1 1v2l-1 1l-1-1v-2zm6 0l1 1v2l-1 1l-1-1v-2zm30 0h4l1 1v2l-1 1h-2l-1-1-1 1l-1-1v-2zm8 0l1 1v2l-1 1l-1-1v-2zm4 0h22l1 1v2l-1 1h-12l-1-1-1 1l-1-1-1 1h-6l-1-1v-2zm26 0l1 1v2l-1 1l-1-1v-2zm4 0l1 1 1-1l1 1 1-1l1 1v2l-1 1h-2l-1-1-1 1l-1-1v-2zm12 0l1 1v2l-1 1l-1-1v-2zm4 0l1 1 1-1l1 1v2l-1 1h-2l-1-1v-2zm10 0h2l1 1 1-1l1 1v2l-1 1h-2l-1-1-1 1l-1-1v-2zm8 0h8l1 1v2l-1 1h-2l-1-1-1 1l-1-1-1 1h-2l-1-1v-2zm14 0l1 1v2l-1 1l-1-1v-2zm4 0h8l1 1 1-1h12l1 1v2l-1 1l-1-1-1 1h-12l-1-1-1 1h-4l-1-1-1 1l-1-1v-2zm-131 3l1 1v2l-1 1l-1-1v-2zm12 0l1 1v2l-1 1l-1-1v-2zm4 0l1 1v2l-1 1l-1-1v-2zm10 0l1 1 1-1l1 1 1-1l1 1 1-1l1 1v2l-1 1l-1-1-1 1l-1-1-1 1h-2l-1-1v-2zm10 0l1 1v2l-1 1l-1-1v-2zm4 0h2l1 1 1-1l1 1v2l-1 1l-1-1-1 1h-2l-1-1v-2zm8 0h6l1 1v2l-1 1l-1-1-1 1l-1-1-1 1h-2l-1-1v-2zm12 0h12l1 1v2l-1 1h-12l-1-1v-2zm16 0l1 1 1-1l1 1v2l-1 1h-2l-1-1v-2zm6 0l1 1v2l-1 1l-1-1v-2zm6 0l1 1 1-1l1 1v2l-1 1h-2l-1-1v-2zm8 0h2l1 1v2l-1 1l-1-1-1 1l-1-1v-2zm6 0l1 1v2l-1 1l-1-1v-2zm6 0l1 1v2l-1 1l-1-1v-2zm4 0h2l1 1v2l-1 1h-2l-1-1v-2zm8 0h2l1 1 1-1l1 1 1-1h2l1 1 1-1l1 1v2l-1 1h-2l-1-1-1 1l-1-1-1 1l-1-1-1 1h-2l-1-1v-2zm14 0h2l1 1v2l-1 1h-2l-1-1v-2zm6 0h10l1 1v2l-1 1l-1-1-1 1h-4l-1-1-1 1h-2l-1-1v-2zm-115 3h2l1 1v2l-1 1l-1-1-1 1l-1-1v-2zm10 0l1 1v2l-1 1l-1-1v-2zm4 0h2l1 1v2l-1 1h-2l-1-1v-2zm6 0l1 1 1-1h2l1 1v2l-1 1h-4l-1-1v-2zm10 0l1 1v2l-1 1l-1-1v-2zm4 0h12l1 1v2l-1 1h-10l-1-1-1 1l-1-1v-2zm18 0l1 1v2l-1 1l-1-1v-2zm4 0h2l1 1 1-1l1 1v2l-1 1l-1-1-1 1l-1-1-1 1l-1-1v-2zm8 0l1 1v2l-1 1l-1-1v-2zm4 0l1 1 1-1l1 1v2l-1 1h-2l-1-1v-2zm6 0l1 1 1-1l1 1v2l-1 1l-1-1-1 1l-1-1v-2zm6 0l1 1v2l-1 1l-1-1v-2zm4 0l1 1 1-1h4l1 1v2l-1 1h-6l-1-1v-2zm10 0h2l1 1v2l-1 1h-2l-1-1v-2zm10 0h2l1 1v2l-1 1h-2l-1-1v-2zm6 0l1 1v2l-1 1l-1-1v-2zm4 0h2l1 1v2l-1 1h-2l-1-1v-2zm6 0h2l1 1v2l-1 1h-2l-1-1v-2zm-123 3l1 1 1-1l1 1v2l-1 1h-2l-1-1v-2zm8 0l1 1v2l-1 1l-1-1v-2zm4 0h2l1 1v2l-1 1h-2l-1-1v-2zm6 0l1 1v2l-1 1l-1-1v-2zm4 0h4l1 1v2l-1 1h-2l-1-1-1 1l-1-1v-2zm8 0l1 1 1-1h2l1 1v2l-1 1h-2l-1-1-1 1l-1-1v-2zm10 0h10l1 1v2l-1 1h-2l-1-1-1 1l-1-1-1 1h-4l-1-1v-2zm16 0l1 1 1-1l1 1v2l-1 1h-2l-1-1v-2zm8 0l1 1v2l-1 1l-1-1v-2zm4 0l1 1v2l-1 1l-1-1v-2zm4 0l1 1v2l-1 1l-1-1v-2zm8 0l1 1v2l-1 1l-1-1v-2zm6 0h8l1 1 1-1h4l1 1v2l-1 1h-14l-1-1v-2zm18 0l1 1 1-1h2l1 1v2l-1 1l-1-1-1 1h-2l-1-1v-2zm10 0l1 1 1-1h4l1 1 1-1h2l1 1v2l-1 1l-1-1-1 1h-8l-1-1v-2zm-113 3l1 1v2l-1 1l-1-1v-2zm6 0h2l1 1 1-1h4l1 1 1-1h2l1 1v2l-1 1h-4l-1-1-1 1l-1-1-1 1l-1-1-1 1h-2l-1-1v-2zm18 0h2l1 1 1-1l1 1v2l-1 1l-1-1-1 1h-2l-1-1v-2zm8 0h2l1 1 1-1l1 1v2l-1 1l-1-1-1 1l-1-1-1 1l-1-1v-2zm8 0h2l1 1v2l-1 1h-2l-1-1v-2zm8 0h2l1 1 1-1l1 1 1-1h2l1 1v2l-1 1l-1-1-1 1h-2l-1-1-1 1h-2l-1-1v-2zm12 0l1 1 1-1h2l1 1 1-1h2l1 1v2l-1 1l-1-1-1 1h-2l-1-1-1 1h-2l-1-1v-2zm12 0l1 1 1-1l1 1 1-1l1 1v2l-1 1h-4l-1-1v-2zm8 0l1 1 1-1l1 1 1-1h16l1 1 1-1h2l1 1v2l-1 1l-1-1-1 1l-1-1-1 1h-2l-1-1-1 1h-2l-1-1-1 1l-1-1-1 1l-1-1-1 1h-8l-1-1v-2zm28 0l1 1 1-1l1 1 1-1h8l1 1v2l-1 1h-6l-1-1-1 1h-4l-1-1v-2zm-123 3l1 1 1-1l1 1v2l-1 1l-1-1-1 1l-1-1v-2zm10 0l1 1 1-1l1 1v2l-1 1l-1-1-1 1l-1-1v-2zm8 0l1 1v2l-1 1l-1-1v-2zm4 0l1 1v2l-1 1l-1-1v-2zm8 0h2l1 1v2l-1 1l-1-1-1 1l-1-1v-2zm6 0l1 1 1-1h2l1 1v2l-1 1h-2l-1-1-1 1l-1-1v-2zm8 0l1 1 1-1l1 1v2l-1 1h-2l-1-1v-2zm12 0h2l1 1 1-1l1 1v2l-1 1h-4l-1-1v-2zm8 0l1 1v2l-1 1l-1-1v-2zm4 0l1 1v2l-1 1l-1-1v-2zm4 0l1 1v2l-1 1l-1-1v-2zm4 0l1 1v2l-1 1l-1-1v-2zm4 0l1 1v2l-1 1l-1-1v-2zm4 0l1 1v2l-1 1l-1-1v-2zm4 0h4l1 1 1-1h8l1 1v2l-1 1l-1-1-1 1h-6l-1-1-1 1h-2l-1-1-1 1l-1-1v-2zm22 0l1 1v2l-1 1l-1-1v-2zm4 0l1 1v2l-1 1l-1-1v-2zm6 0l1 1 1-1h4l1 1v2l-1 1h-6l-1-1v-2zm10 0h4l1 1v2l-1 1l-1-1-1 1h-2l-1-1v-2zm-105 3l1 1 1-1l1 1 1-1l1 1v2l-1 1h-2l-1-1-1 1l-1-1v-2zm8 0l1 1v2l-1 1l-1-1v-2zm6 0l1 1v2l-1 1l-1-1v-2zm4 0h4l1 1 1-1l1 1 1-1l1 1v2l-1 1l-1-1-1 1h-4l-1-1-1 1l-1-1v-2zm12 0h6l1 1 1-1h2l1 1v2l-1 1h-2l-1-1-1 1h-6l-1-1v-2zm18 0l1 1v2l-1 1l-1-1v-2zm4 0l1 1 1-1h2l1 1v2l-1 1h-4l-1-1v-2zm8 0l1 1v2l-1 1l-1-1v-2zm6 0l1 1v2l-1 1l-1-1v-2zm4 0h4l1 1v2l-1 1l-1-1-1 1h-2l-1-1v-2zm10 0l1 1 1-1l1 1v2l-1 1h-2l-1-1v-2zm8 0h2l1 1v2l-1 1l-1-1-1 1l-1-1v-2zm8 0h4l1 1v2l-1 1l-1-1-1 1h-2l-1-1v-2zm8 0h2l1 1v2l-1 1h-2l-1-1v-2zm-125 3l1 1v2l-1 1l-1-1v-2zm4 0l1 1 1-1l1 1v2l-1 1l-1-1-1 1l-1-1v-2zm14 0l1 1v2l-1 1l-1-1v-2zm6 0h2l1 1 1-1l1 1v2l-1 1h-4l-1-1v-2zm12 0l1 1 1-1l1 1v2l-1 1l-1-1-1 1l-1-1v-2zm6 0h2l1 1v2l-1 1h-2l-1-1v-2zm6 0l1 1 1-1h6l1 1v2l-1 1h-8l-1-1v-2zm12 0l1 1v2l-1 1l-1-1v-2zm4 0l1 1 1-1l1 1 1-1h2l1 1 1-1h6l1 1 1-1h2l1 1 1-1l1 1v2l-1 1h-2l-1-1-1 1l-1-1-1 1h-2l-1-1-1 1h-6l-1-1-1 1h-2l-1-1v-2zm26 0h2l1 1v2l-1 1l-1-1-1 1l-1-1v-2zm8 0l1 1 1-1h4l1 1v2l-1 1l-1-1-1 1h-4l-1-1v-2zm10 0l1 1v2l-1 1l-1-1v-2zm4 0l1 1 1-1l1 1 1-1h2l1 1v2l-1 1l-1-1-1 1h-4l-1-1v-2zm10 0l1 1 1-1h2l1 1v2l-1 1l-1-1-1 1h-2l-1-1v-2zm-113 3l1 1v2l-1 1l-1-1v-2zm14 0h4l1 1v2l-1 1h-4l-1-1v-2zm8 0l1 1v2l-1 1l-1-1v-2zm10 0h4l1 1v2l-1 1h-4l-1-1v-2zm8 0h8l1 1 1-1l1 1v2l-1 1h-10l-1-1v-2zm16 0l1 1v2l-1 1l-1-1v-2zm4 0h4l1 1v2l-1 1h-2l-1-1-1 1l-1-1v-2zm8 0l1 1v2l-1 1l-1-1v-2zm6 0l1 1v2l-1 1l-1-1v-2zm4 0l1 1 1-1l1 1v2l-1 1h-2l-1-1v-2zm6 0l1 1 1-1l1 1 1-1h4l1 1v2l-1 1h-4l-1-1-1 1l-1-1-1 1l-1-1v-2zm12 0l1 1v2l-1 1l-1-1v-2zm4 0l1 1 1-1h4l1 1v2l-1 1h-6l-1-1v-2zm10 0l1 1v2l-1 1l-1-1v-2zm4 0l1 1v2l-1 1l-1-1v-2zm-111 3l1 1 1-1l1 1v2l-1 1l-1-1-1 1l-1-1v-2zm6 0l1 1 1-1l1 1 1-1h6l1 1 1-1h2l1 1v2l-1 1h-6l-1-1-1 1l-1-1-1 1l-1-1-1 1h-2l-1-1v-2zm20 0l1 1v2l-1 1l-1-1v-2zm4 0h4l1 1 1-1h12l1 1 1-1l1 1v2l-1 1l-1-1-1 1h-4l-1-1-1 1h-2l-1-1-1 1h-8l-1-1v-2zm24 0l1 1 1-1l1 1v2l-1 1h-2l-1-1v-2zm6 0l1 1v2l-1 1l-1-1v-2zm4 0h2l1 1v2l-1 1l-1-1-1 1l-1-1v-2zm6 0l1 1v2l-1 1l-1-1v-2zm4 0h4l1 1v2l-1 1h-4l-1-1v-2zm12 0h2l1 1v2l-1 1h-2l-1-1v-2zm6 0l1 1v2l-1 1l-1-1v-2zm6 0h4l1 1v2l-1 1h-2l-1-1-1 1l-1-1v-2zm8 0h2l1 1 1-1l1 1v2l-1 1l-1-1-1 1h-2l-1-1v-2zm-121 3l1 1v2l-1 1l-1-1v-2zm18 0l1 1 1-1h2l1 1v2l-1 1h-2l-1-1-1 1l-1-1v-2zm12 0h4l1 1v2l-1 1h-4l-1-1v-2zm8 0l1 1 1-1h2l1 1 1-1h8l1 1v2l-1 1l-1-1-1 1h-2l-1-1-1 1h-4l-1-1-1 1h-2l-1-1v-2zm18 0l1 1v2l-1 1l-1-1v-2zm4 0h2l1 1v2l-1 1l-1-1-1 1l-1-1v-2zm8 0h4l1 1 1-1h2l1 1 1-1l1 1v2l-1 1h-4l-1-1-1 1h-4l-1-1v-2zm20 0h6l1 1 1-1l1 1 1-1l1 1v2l-1 1l-1-1-1 1h-4l-1-1-1 1l-1-1-1 1l-1-1v-2zm14 0h2l1 1v2l-1 1h-2l-1-1v-2zm6 0l1 1 1-1l1 1 1-1l1 1v2l-1 1l-1-1-1 1h-2l-1-1v-2zm8 0h2l1 1 1-1h2l1 1v2l-1 1h-6l-1-1v-2zm-95 3l1 1v2l-1 1l-1-1v-2zm4 0l1 1 1-1l1 1 1-1h6l1 1 1-1h2l1 1v2l-1 1h-4l-1-1-1 1h-4l-1-1-1 1h-2l-1-1v-2zm18 0h2l1 1v2l-1 1h-2l-1-1v-2zm6 0l1 1v2l-1 1l-1-1v-2zm4 0l1 1 1-1h2l1 1 1-1l1 1v2l-1 1h-6l-1-1v-2zm10 0l1 1v2l-1 1l-1-1v-2zm4 0h4l1 1v2l-1 1h-2l-1-1-1 1l-1-1v-2zm8 0h4l1 1v2l-1 1l-1-1-1 1l-1-1-1 1l-1-1v-2zm10 0l1 1 1-1l1 1v2l-1 1h-2l-1-1v-2zm8 0h2l1 1v2l-1 1l-1-1-1 1l-1-1v-2zm10 0l1 1v2l-1 1l-1-1v-2zm4 0h2l1 1v2l-1 1l-1-1-1 1l-1-1v-2zm6 0l1 1 1-1h6l1 1v2l-1 1l-1-1-1 1h-4l-1-1-1 1l-1-1v-2zm-121 3l1 1v2l-1 1l-1-1v-2zm32 0h2l1 1v2l-1 1l-1-1-1 1l-1-1v-2zm6 0h2l1 1v2l-1 1h-2l-1-1v-2zm6 0h4l1 1 1-1h4l1 1v2l-1 1l-1-1-1 1l-1-1-1 1l-1-1-1 1h-4l-1-1v-2zm14 0l1 1 1-1h8l1 1v2l-1 1l-1-1-1 1h-8l-1-1v-2zm14 0l1 1 1-1l1 1v2l-1 1h-2l-1-1v-2zm6 0h2l1 1 1-1l1 1v2l-1 1l-1-1-1 1l-1-1-1 1l-1-1v-2zm10 0l1 1v2l-1 1l-1-1v-2zm6 0h2l1 1 1-1l1 1v2l-1 1h-4l-1-1v-2zm10 0l1 1 1-1l1 1v2l-1 1h-2l-1-1v-2zm6 0h2l1 1 1-1l1 1v2l-1 1h-4l-1-1v-2zm14 0h2l1 1v2l-1 1l-1-1-1 1l-1-1v-2zm-101 3l1 1v2l-1 1l-1-1v-2zm4 0l1 1 1-1l1 1 1-1l1 1v2l-1 1l-1-1-1 1l-1-1-1 1l-1-1v-2zm10 0h4l1 1 1-1h4l1 1v2l-1 1h-10l-1-1v-2zm18 0l1 1 1-1h8l1 1v2l-1 1h-10l-1-1v-2zm14 0l1 1 1-1h4l1 1 1-1l1 1v2l-1 1h-2l-1-1-1 1h-4l-1-1v-2zm16 0l1 1 1-1h2l1 1v2l-1 1h-4l-1-1v-2zm8 0h4l1 1v2l-1 1h-2l-1-1-1 1l-1-1v-2zm8 0l1 1 1-1h4l1 1 1-1h6l1 1v2l-1 1h-2l-1-1-1 1h-4l-1-1-1 1h-4l-1-1v-2zm18 0l1 1 1-1l1 1 1-1l1 1v2l-1 1h-4l-1-1v-2zm-103 3l1 1v2l-1 1l-1-1v-2zm6 0l1 1v2l-1 1l-1-1v-2zm14 0h10l1 1v2l-1 1l-1-1-1 1h-2l-1-1-1 1l-1-1-1 1l-1-1-1 1l-1-1v-2zm16 0l1 1 1-1h12l1 1 1-1h4l1 1v2l-1 1h-2l-1-1-1 1h-16l-1-1v-2zm24 0h2l1 1 1-1l1 1v2l-1 1h-2l-1-1-1 1l-1-1v-2zm10 0h2l1 1v2l-1 1h-2l-1-1v-2zm6 0l1 1v2l-1 1l-1-1v-2zm4 0h2l1 1v2l-1 1l-1-1-1 1l-1-1v-2zm6 0h2l1 1v2l-1 1h-2l-1-1v-2zm6 0h2l1 1v2l-1 1h-2l-1-1v-2zm6 0h2l1 1 1-1h4l1 1v2l-1 1l-1-1-1 1h-4l-1-1-1 1l-1-1v-2zm-105 3l1 1v2l-1 1l-1-1v-2zm10 0l1 1 1-1l1 1v2l-1 1l-1-1-1 1l-1-1v-2zm6 0l1 1v2l-1 1l-1-1v-2zm4 0l1 1v2l-1 1l-1-1v-2zm4 0l1 1 1-1l1 1v2l-1 1l-1-1-1 1l-1-1v-2zm10 0l1 1v2l-1 1l-1-1v-2zm4 0l1 1 1-1l1 1v2l-1 1l-1-1-1 1l-1-1v-2zm6 0h14l1 1v2l-1 1h-6l-1-1-1 1h-2l-1-1-1 1l-1-1-1 1l-1-1v-2zm18 0l1 1v2l-1 1l-1-1v-2zm4 0l1 1v2l-1 1l-1-1v-2zm4 0h2l1 1 1-1l1 1 1-1h4l1 1 1-1h2l1 1 1-1l1 1v2l-1 1h-2l-1-1-1 1h-2l-1-1-1 1h-2l-1-1-1 1l-1-1-1 1l-1-1-1 1l-1-1v-2zm20 0l1 1 1-1h4l1 1 1-1h4l1 1v2l-1 1h-2l-1-1-1 1h-4l-1-1-1 1h-2l-1-1v-2zm18 0h2l1 1v2l-1 1h-2l-1-1v-2zm-105 3l1 1v2l-1 1l-1-1v-2zm12 0h2l1 1 1-1l1 1v2l-1 1l-1-1-1 1l-1-1-1 1l-1-1v-2zm8 0l1 1v2l-1 1l-1-1v-2zm8 0l1 1v2l-1 1l-1-1v-2zm4 0l1 1 1-1l1 1v2l-1 1l-1-1-1 1l-1-1v-2zm6 0l1 1 1-1l1 1v2l-1 1h-2l-1-1v-2zm8 0l1 1v2l-1 1l-1-1v-2zm4 0h6l1 1v2l-1 1h-6l-1-1v-2zm14 0l1 1 1-1l1 1v2l-1 1l-1-1-1 1l-1-1v-2zm10 0l1 1v2l-1 1l-1-1v-2zm4 0l1 1v2l-1 1l-1-1v-2zm4 0l1 1v2l-1 1l-1-1v-2zm4 0h2l1 1v2l-1 1l-1-1-1 1l-1-1v-2zm6 0h2l1 1v2l-1 1h-2l-1-1v-2zm6 0l1 1v2l-1 1l-1-1v-2zm4 0l1 1 1-1h2l1 1v2l-1 1l-1-1-1 1h-2l-1-1v-2zm-109 3l1 1v2l-1 1l-1-1v-2zm6 0l1 1v2l-1 1l-1-1v-2zm6 0l1 1v2l-1 1l-1-1v-2zm18 0l1 1v2l-1 1l-1-1v-2zm6 0l1 1 1-1l1 1v2l-1 1h-2l-1-1v-2zm8 0h2l1 1v2l-1 1l-1-1-1 1l-1-1v-2zm6 0l1 1 1-1h2l1 1 1-1h8l1 1v2l-1 1l-1-1-1 1h-2l-1-1-1 1h-2l-1-1-1 1h-4l-1-1v-2zm18 0l1 1v2l-1 1l-1-1v-2zm6 0l1 1 1-1l1 1 1-1l1 1 1-1h2l1 1 1-1h2l1 1 1-1h2l1 1 1-1l1 1v2l-1 1l-1-1-1 1l-1-1-1 1h-4l-1-1-1 1h-2l-1-1-1 1h-2l-1-1-1 1l-1-1v-2zm22 0l1 1v2l-1 1l-1-1v-2zm4 0h2l1 1 1-1l1 1v2l-1 1h-2l-1-1-1 1l-1-1v-2zm8 0h2l1 1v2l-1 1h-2l-1-1v-2zm-91 3l1 1v2l-1 1l-1-1v-2zm4 0l1 1v2l-1 1l-1-1v-2zm8 0l1 1v2l-1 1l-1-1v-2zm4 0l1 1 1-1h2l1 1v2l-1 1h-4l-1-1v-2zm8 0l1 1 1-1l1 1v2l-1 1h-2l-1-1v-2zm6 0l1 1 1-1h4l1 1v2l-1 1h-4l-1-1-1 1l-1-1v-2zm10 0l1 1v2l-1 1l-1-1v-2zm4 0l1 1v2l-1 1l-1-1v-2zm4 0l1 1v2l-1 1l-1-1v-2zm6 0l1 1 1-1l1 1v2l-1 1h-2l-1-1v-2zm6 0l1 1v2l-1 1l-1-1v-2zm4 0l1 1v2l-1 1l-1-1v-2zm4 0h2l1 1v2l-1 1l-1-1-1 1l-1-1v-2zm8 0l1 1 1-1l1 1v2l-1 1h-2l-1-1v-2zm6 0l1 1v2l-1 1l-1-1v-2zm4 0h2l1 1 1-1h2l1 1v2l-1 1l-1-1-1 1h-2l-1-1-1 1l-1-1v-2zm-109 3l1 1v2l-1 1l-1-1v-2zm12 0l1 1v2l-1 1l-1-1v-2zm6 0l1 1v2l-1 1l-1-1v-2zm4 0l1 1v2l-1 1l-1-1v-2zm18 0h2l1 1v2l-1 1h-2l-1-1v-2zm8 0l1 1v2l-1 1l-1-1v-2zm4 0l1 1v2l-1 1l-1-1v-2zm4 0h4l1 1 1-1h2l1 1 1-1h2l1 1 1-1l1 1v2l-1 1h-6l-1-1-1 1h-2l-1-1-1 1l-1-1-1 1l-1-1v-2zm18 0l1 1v2l-1 1l-1-1v-2zm4 0h2l1 1 1-1l1 1v2l-1 1l-1-1-1 1l-1-1-1 1l-1-1v-2zm10 0l1 1 1-1l1 1v2l-1 1h-2l-1-1v-2zm6 0l1 1 1-1l1 1 1-1h2l1 1v2l-1 1h-6l-1-1v-2zm10 0h2l1 1 1-1l1 1v2l-1 1h-4l-1-1v-2zm8 0l1 1v2l-1 1l-1-1v-2zm-83 3l1 1 1-1l1 1v2l-1 1l-1-1-1 1l-1-1v-2zm8 0l1 1 1-1h4l1 1 1-1l1 1 1-1l1 1v2l-1 1h-2l-1-1-1 1h-2l-1-1-1 1l-1-1-1 1l-1-1v-2zm14 0h2l1 1v2l-1 1h-2l-1-1v-2zm10 0l1 1v2l-1 1l-1-1v-2zm4 0h6l1 1v2l-1 1l-1-1-1 1h-4l-1-1v-2zm10 0l1 1 1-1l1 1v2l-1 1h-2l-1-1v-2zm8 0l1 1 1-1l1 1v2l-1 1h-2l-1-1v-2zm6 0h2l1 1 1-1h8l1 1 1-1h6l1 1 1-1l1 1v2l-1 1l-1-1-1 1h-2l-1-1-1 1h-16l-1-1v-2zm-87 3l1 1v2l-1 1l-1-1v-2zm10 0l1 1v2l-1 1l-1-1v-2zm10 0l1 1v2l-1 1l-1-1v-2zm10 0l1 1v2l-1 1l-1-1v-2zm4 0l1 1v2l-1 1l-1-1v-2zm6 0l1 1v2l-1 1l-1-1v-2zm4 0l1 1v2l-1 1l-1-1v-2zm4 0h4l1 1v2l-1 1h-4l-1-1v-2zm8 0l1 1v2l-1 1l-1-1v-2zm4 0l1 1 1-1h4l1 1v2l-1 1h-4l-1-1-1 1l-1-1v-2zm10 0l1 1 1-1h2l1 1v2l-1 1h-4l-1-1v-2zm8 0l1 1v2l-1 1l-1-1v-2zm4 0h2l1 1 1-1h16l1 1v2l-1 1h-2l-1-1-1 1h-10l-1-1-1 1l-1-1-1 1h-2l-1-1v-2zm24 0l1 1v2l-1 1l-1-1v-2zm-99 3l1 1v2l-1 1l-1-1v-2zm18 0l1 1v2l-1 1l-1-1v-2zm6 0l1 1 1-1h2l1 1v2l-1 1l-1-1-1 1l-1-1-1 1l-1-1v-2zm8 0h2l1 1v2l-1 1l-1-1-1 1l-1-1v-2zm10 0h2l1 1v2l-1 1l-1-1-1 1l-1-1v-2zm6 0l1 1v2l-1 1l-1-1v-2zm8 0h4l1 1v2l-1 1h-4l-1-1v-2zm8 0h2l1 1v2l-1 1h-2l-1-1v-2zm8 0l1 1 1-1h2l1 1v2l-1 1l-1-1-1 1h-2l-1-1v-2zm10 0h8l1 1v2l-1 1l-1-1-1 1h-2l-1-1-1 1l-1-1-1 1l-1-1v-2zm12 0h2l1 1 1-1l1 1v2l-1 1l-1-1-1 1h-2l-1-1v-2zm-103 3l1 1v2l-1 1l-1-1v-2zm4 0l1 1v2l-1 1l-1-1v-2zm18 0l1 1v2l-1 1l-1-1v-2zm6 0l1 1v2l-1 1l-1-1v-2zm4 0l1 1v2l-1 1l-1-1v-2zm6 0l1 1v2l-1 1l-1-1v-2zm6 0l1 1v2l-1 1l-1-1v-2zm4 0l1 1 1-1l1 1v2l-1 1l-1-1-1 1l-1-1v-2zm6 0l1 1v2l-1 1l-1-1v-2zm4 0l1 1v2l-1 1l-1-1v-2zm4 0l1 1 1-1h4l1 1v2l-1 1h-6l-1-1v-2zm10 0h4l1 1 1-1l1 1 1-1h2l1 1v2l-1 1l-1-1-1 1h-2l-1-1-1 1l-1-1-1 1h-2l-1-1v-2zm14 0l1 1v2l-1 1l-1-1v-2zm4 0l1 1v2l-1 1l-1-1v-2zm6 0l1 1v2l-1 1l-1-1v-2zm4 0l1 1v2l-1 1l-1-1v-2zm4 0l1 1v2l-1 1l-1-1v-2zm-97 3l1 1v2l-1 1l-1-1v-2zm10 0l1 1v2l-1 1l-1-1v-2zm10 0l1 1v2l-1 1l-1-1v-2zm4 0l1 1v2l-1 1l-1-1v-2zm4 0l1 1 1-1h2l1 1 1-1l1 1v2l-1 1l-1-1-1 1l-1-1-1 1h-2l-1-1v-2zm10 0l1 1 1-1l1 1v2l-1 1l-1-1-1 1l-1-1v-2zm6 0l1 1 1-1h2l1 1 1-1l1 1v2l-1 1l-1-1-1 1h-4l-1-1v-2zm10 0h8l1 1v2l-1 1h-8l-1-1v-2zm12 0l1 1v2l-1 1l-1-1v-2zm6 0l1 1v2l-1 1l-1-1v-2zm6 0h2l1 1 1-1h2l1 1 1-1l1 1v2l-1 1h-4l-1-1-1 1h-2l-1-1v-2zm12 0l1 1v2l-1 1l-1-1v-2zm4 0l1 1v2l-1 1l-1-1v-2zm-69 3l1 1v2l-1 1l-1-1v-2zm4 0l1 1v2l-1 1l-1-1v-2zm8 0l1 1v2l-1 1l-1-1v-2zm6 0h4l1 1v2l-1 1h-4l-1-1v-2zm8 0l1 1 1-1h8l1 1v2l-1 1h-10l-1-1v-2zm16 0l1 1 1-1l1 1 1-1h2l1 1 1-1l1 1 1-1h2l1 1v2l-1 1h-4l-1-1-1 1h-2l-1-1-1 1h-2l-1-1v-2zm16 0h4l1 1 1-1h2l1 1 1-1l1 1v2l-1 1l-1-1-1 1h-8l-1-1v-2zm-87 3l1 1v2l-1 1l-1-1v-2zm20 0l1 1 1-1l1 1v2l-1 1l-1-1-1 1l-1-1v-2zm12 0l1 1v2l-1 1l-1-1v-2zm4 0l1 1v2l-1 1l-1-1v-2zm4 0l1 1v2l-1 1l-1-1v-2zm4 0l1 1 1-1h6l1 1 1-1h12l1 1v2l-1 1h-8l-1-1-1 1h-12l-1-1v-2zm28 0l1 1v2l-1 1l-1-1v-2zm4 0l1 1v2l-1 1l-1-1v-2zm4 0h2l1 1v2l-1 1h-2l-1-1v-2zm6 0h8l1 1v2l-1 1h-8l-1-1v-2zm-87 3l1 1v2l-1 1l-1-1v-2zm8 0l1 1v2l-1 1l-1-1v-2zm12 0l1 1v2l-1 1l-1-1v-2zm12 0h2l1 1 1-1h2l1 1v2l-1 1l-1-1-1 1h-4l-1-1v-2zm14 0h10l1 1v2l-1 1l-1-1-1 1h-4l-1-1-1 1l-1-1-1 1l-1-1v-2zm14 0h8l1 1 1-1l1 1 1-1l1 1v2l-1 1h-12l-1-1v-2zm16 0h2l1 1 1-1h2l1 1v2l-1 1h-6l-1-1v-2zm10 0h8l1 1v2l-1 1l-1-1-1 1h-6l-1-1v-2zm-79 3l1 1v2l-1 1l-1-1v-2zm6 0l1 1 1-1l1 1v2l-1 1h-2l-1-1v-2zm16 0l1 1 1-1h4l1 1v2l-1 1h-2l-1-1-1 1l-1-1-1 1l-1-1v-2zm10 0l1 1v2l-1 1l-1-1v-2zm6 0l1 1v2l-1 1l-1-1v-2zm6 0h2l1 1v2l-1 1h-2l-1-1v-2zm8 0h14l1 1 1-1h8l1 1 1-1h6l1 1v2l-1 1h-32l-1-1v-2zm-45 3l1 1v2l-1 1l-1-1v-2zm6 0l1 1 1-1l1 1v2l-1 1l-1-1-1 1l-1-1v-2zm8 0l1 1v2l-1 1l-1-1v-2zm6 0h2l1 1 1-1l1 1v2l-1 1l-1-1-1 1l-1-1-1 1l-1-1v-2zm18 0l1 1v2l-1 1l-1-1v-2zm6 0h32l1 1v2l-1 1l-1-1-1 1h-12l-1-1-1 1h-16l-1-1v-2zm-39 3l1 1v2l-1 1l-1-1v-2zm20 0l1 1 1-1l1 1 1-1l1 1v2l-1 1l-1-1-1 1l-1-1-1 1l-1-1v-2zm8 0l1 1 1-1l1 1 1-1h2l1 1 1-1l1 1 1-1h16l1 1v2l-1 1h-18l-1-1-1 1h-4l-1-1-1 1l-1-1v-2zm30 0h10l1 1v2l-1 1h-10l-1-1v-2zm-47 3l1 1v2l-1 1l-1-1v-2zm4 0l1 1v2l-1 1l-1-1v-2zm4 0l1 1v2l-1 1l-1-1v-2zm12 0h2l1 1v2l-1 1l-1-1-1 1l-1-1v-2zm6 0h18l1 1 1-1h10l1 1v2l-1 1l-1-1-1 1h-28l-1-1v-2zm-43 3l1 1 1-1l1 1v2l-1 1h-2l-1-1v-2zm16 0l1 1v2l-1 1l-1-1v-2zm4 0h2l1 1 1-1h2l1 1 1-1l1 1v2l-1 1l-1-1-1 1h-2l-1-1-1 1l-1-1-1 1l-1-1v-2zm14 0l1 1v2l-1 1l-1-1v-2zm8 0h28l1 1v2l-1 1h-22l-1-1-1 1h-2l-1-1-1 1l-1-1v-2zm-57 3l1 1v2l-1 1l-1-1v-2zm8 0l1 1 1-1l1 1v2l-1 1l-1-1-1 1l-1-1v-2zm8 0l1 1v2l-1 1l-1-1v-2zm8 0l1 1v2l-1 1l-1-1v-2zm4 0l1 1v2l-1 1l-1-1v-2zm12 0l1 1v2l-1 1l-1-1v-2zm6 0l1 1v2l-1 1l-1-1v-2zm8 0l1 1 1-1l1 1v2l-1 1h-2l-1-1v-2zm6 0l1 1v2l-1 1l-1-1v-2zm4 0h20l1 1v2l-1 1l-1-1-1 1h-18l-1-1v-2zm-59 3l1 1v2l-1 1l-1-1v-2zm8 0l1 1v2l-1 1l-1-1v-2zm12 0l1 1v2l-1 1l-1-1v-2zm6 0l1 1v2l-1 1l-1-1v-2zm4 0l1 1v2l-1 1l-1-1v-2zm4 0h2l1 1 1-1l1 1v2l-1 1h-4l-1-1v-2zm12 0l1 1 1-1h4l1 1 1-1h2l1 1 1-1h18l1 1v2l-1 1h-20l-1-1-1 1h-4l-1-1-1 1h-2l-1-1v-2zm-43 3l1 1v2l-1 1l-1-1v-2zm22 0l1 1v2l-1 1l-1-1v-2zm4 0l1 1v2l-1 1l-1-1v-2zm6 0h4l1 1 1-1l1 1v2l-1 1h-4l-1-1-1 1l-1-1v-2zm12 0l1 1v2l-1 1l-1-1v-2zm4 0h2l1 1v2l-1 1h-2l-1-1v-2zm6 0h18l1 1v2l-1 1l-1-1-1 1h-16l-1-1v-2zm-45 3l1 1v2l-1 1l-1-1v-2zm14 0l1 1 1-1l1 1v2l-1 1h-2l-1-1v-2zm12 0h4l1 1v2l-1 1h-2l-1-1-1 1l-1-1v-2zm8 0h2l1 1v2l-1 1l-1-1-1 1l-1-1v-2zm6 0h2l1 1 1-1h16l1 1v2l-1 1l-1-1-1 1h-16l-1-1-1 1l-1-1v-2zm-37 3l1 1v2l-1 1l-1-1v-2zm4 0l1 1v2l-1 1l-1-1v-2zm4 0l1 1v2l-1 1l-1-1v-2zm4 0l1 1v2l-1 1l-1-1v-2zm6 0l1 1 1-1l1 1v2l-1 1h-2l-1-1v-2zm8 0h2l1 1 1-1l1 1v2l-1 1h-2l-1-1-1 1l-1-1v-2zm14 0h14l1 1v2l-1 1h-14l-1-1v-2zm-49 3l1 1v2l-1 1l-1-1v-2zm16 0h2l1 1v2l-1 1l-1-1-1 1l-1-1v-2zm6 0l1 1 1-1l1 1 1-1h4l1 1v2l-1 1l-1-1-1 1l-1-1-1 1h-2l-1-1-1 1l-1-1v-2zm12 0l1 1v2l-1 1l-1-1v-2zm4 0h2l1 1v2l-1 1h-2l-1-1v-2zm6 0l1 1 1-1l1 1 1-1h14l1 1v2l-1 1l-1-1-1 1h-16l-1-1v-2zm-31 3l1 1v2l-1 1l-1-1v-2zm6 0l1 1 1-1l1 1v2l-1 1h-2l-1-1v-2zm6 0l1 1v2l-1 1l-1-1v-2zm8 0l1 1v2l-1 1l-1-1v-2zm4 0h2l1 1v2l-1 1h-2l-1-1v-2zm8 0h14l1 1v2l-1 1h-14l-1-1v-2zm-55 3l1 1v2l-1 1l-1-1v-2zm28 0h2l1 1v2l-1 1l-1-1-1 1l-1-1v-2zm6 0l1 1v2l-1 1l-1-1v-2zm8 0h2l1 1v2l-1 1h-2l-1-1v-2zm6 0h2l1 1 1-1l1 1 1-1h14l1 1v2l-1 1l-1-1-1 1h-18l-1-1v-2zm-41 3l1 1 1-1l1 1v2l-1 1l-1-1-1 1l-1-1v-2zm20 0l1 1v2l-1 1l-1-1v-2zm4 0l1 1 1-1h2l1 1 1-1l1 1v2l-1 1l-1-1-1 1h-2l-1-1-1 1l-1-1v-2zm10 0h4l1 1 1-1h18l1 1v2l-1 1h-16l-1-1-1 1h-2l-1-1-1 1h-2l-1-1v-2zm-27 3l1 1v2l-1 1l-1-1v-2zm6 0l1 1v2l-1 1l-1-1v-2zm14 0l1 1v2l-1 1l-1-1v-2zm6 0h2l1 1v2l-1 1h-2l-1-1v-2zm6 0l1 1v2l-1 1l-1-1v-2zm4 0h14l1 1v2l-1 1l-1-1-1 1h-12l-1-1v-2zm-45 3l1 1v2l-1 1l-1-1v-2zm22 0l1 1 1-1l1 1v2l-1 1h-2l-1-1v-2zm8 0l1 1v2l-1 1l-1-1v-2zm4 0h4l1 1v2l-1 1l-1-1-1 1h-2l-1-1v-2zm8 0l1 1v2l-1 1l-1-1v-2zm4 0h10l1 1v2l-1 1h-10l-1-1v-2zm-23 3l1 1v2l-1 1l-1-1v-2zm6 0h2l1 1 1-1h2l1 1v2l-1 1l-1-1-1 1h-4l-1-1v-2zm10 0l1 1 1-1h2l1 1 1-1h10l1 1v2l-1 1l-1-1-1 1h-12l-1-1-1 1l-1-1v-2zm-35 3l1 1v2l-1 1l-1-1v-2zm6 0l1 1v2l-1 1l-1-1v-2zm10 0l1 1v2l-1 1l-1-1v-2zm10 0h2l1 1v2l-1 1h-2l-1-1v-2zm12 0h10l1 1v2l-1 1h-8l-1-1-1 1l-1-1v-2zm-23 3l1 1v2l-1 1l-1-1v-2zm12 0h2l1 1 1-1l1 1v2l-1 1h-2l-1-1-1 1l-1-1v-2zm8 0l1 1 1-1l1 1v2l-1 1h-2l-1-1v-2zm6 0h6l1 1v2l-1 1l-1-1-1 1h-4l-1-1v-2zm-39 3l1 1v2l-1 1l-1-1v-2zm22 0l1 1v2l-1 1l-1-1v-2zm6 0h2l1 1 1-1h4l1 1 1-1h4l1 1v2l-1 1l-1-1-1 1h-8l-1-1-1 1l-1-1-1 1l-1-1v-2zm-39 3l1 1v2l-1 1l-1-1v-2zm6 0l1 1v2l-1 1l-1-1v-2zm22 0l1 1v2l-1 1l-1-1v-2zm4 0h2l1 1v2l-1 1l-1-1-1 1l-1-1v-2zm6 0l1 1v2l-1 1l-1-1v-2zm6 0h6l1 1v2l-1 1h-6l-1-1v-2zm-27 3l1 1v2l-1 1l-1-1v-2zm6 0l1 1v2l-1 1l-1-1v-2zm4 0l1 1v2l-1 1l-1-1v-2zm4 0l1 1v2l-1 1l-1-1v-2zm4 0l1 1 1-1h2l1 1v2l-1 1l-1-1-1 1l-1-1-1 1l-1-1v-2zm8 0h6l1 1v2l-1 1l-1-1-1 1h-4l-1-1v-2zm-13 3l1 1v2l-1 1l-1-1v-2zm12 0h4l1 1v2l-1 1h-4l-1-1v-2zm-37 3l1 1 1-1l1 1 1-1l1 1v2l-1 1l-1-1-1 1l-1-1-1 1l-1-1v-2zm32 0l1 1 1-1l1 1v2l-1 1l-1-1-1 1l-1-1v-2zm6 0h2l1 1v2l-1 1l-1-1-1 1l-1-1v-2zm-7 3l1 1v2l-1 1l-1-1v-2zm4 0l1 1 1-1l1 1v2l-1 1h-2l-1-1v-2zm-9 3l1 1 1-1l1 1v2l-1 1h-2l-1-1v-2zm10 0l1 1v2l-1 1l-1-1v-2zm-39 3l1 1v2l-1 1l-1-1v-2zm10 0l1 1v2l-1 1l-1-1v-2zm14 0l1 1v2l-1 1l-1-1v-2zm4 0h4l1 1 1-1l1 1 1-1l1 1v2l-1 1h-4l-1-1-1 1l-1-1-1 1l-1-1v-2zm-29 3l1 1v2l-1 1l-1-1v-2zm28 0l1 1v2l-1 1l-1-1v-2zm6 0h2l1 1v2l-1 1l-1-1-1 1l-1-1v-2zm-13 3l1 1v2l-1 1l-1-1v-2zm4 0l1 1v2l-1 1l-1-1v-2zm6 0l1 1 1-1l1 1v2l-1 1h-2l-1-1v-2zm-13 3l1 1v2l-1 1l-1-1v-2zm6 0l1 1v2l-1 1l-1-1v-2zm6 0h2l1 1v2l-1 1l-1-1-1 1l-1-1v-2zm-25 3l1 1v2l-1 1l-1-1v-2zm22 0l1 1 1-1l1 1v2l-1 1h-2l-1-1v-2zm-3 3l1 1 1-1h2l1 1v2l-1 1l-1-1-1 1h-2l-1-1v-2zm-7 3l1 1v2l-1 1l-1-1v-2zm8 0l1 1v2l-1 1l-1-1v-2zm-7 3l1 1v2l-1 1l-1-1v-2zm4 0l1 1v2l-1 1l-1-1v-2zm-3 3l1 1 1-1l1 1v2l-1 1l-1-1-1 1l-1-1v-2zm-3 3l1 1 1-1l1 1v2l-1 1h-2l-1-1v-2zm-1 3h2l1 1v2l-1 1l-1-1-1 1l-1-1v-2zm-1 3l1 1v2l-1 1l-1-1v-2zm-11 3l1 1v2l-1 1l-1-1v-2zm4 0l1 1v2l-1 1l-1-1v-2zm4 0l1 1 1-1l1 1v2l-1 1l-1-1-1 1l-1-1v-2zm-1 3l1 1v2l-1 1l-1-1v-2zm-5 3l1 1v2l-1 1l-1-1v-2zm4 0l1 1v2l-1 1l-1-1v-2zm-7 3l1 1 1-1h2l1 1v2l-1 1h-4l-1-1v-2zm1 3h2l1 1v2l-1 1l-1-1-1 1l-1-1v-2zm-1 3l1 1v2l-1 1l-1-1v-2zm-3 3l1 1v2l-1 1l-1-1v-2zm-1 3l1 1v2l-1 1l-1-1v-2z" fill="#440154"/>
<path d="M297 145l1 1 1-1l1 1 1-1l1 1 1-1l1 1v2l-1 1h-2l-1-1-1 1h-2l-1-1v-2zm1 3l1 1v2l-1 1l-1-1v-2zm4 0h2l1 1v2l-1 1l-1-1-1 1l-1-1v-2zm-9 3l1 1 1-1l1 1v2l-1 1h-2l-1-1v-2zm6 0l1 1 1-1l1 1v2l-1 1h-2l-1-1v-2zm-7 3h4l1 1 1-1h2l1 1v2l-1 1h-8l-1-1v-2zm-5 3l1 1 1-1l1 1 1-1h10l1 1v2l-1 1h-14l-1-1v-2zm-1 3h14l1 1v2l-1 1l-1-1-1 1h-12l-1-1v-2zm-3 3l1 1 1-1h12l1 1v2l-1 1l-1-1-1 1h-12l-1-1v-2zm-143 3l1 1v2l-1 1l-1-1v-2zm6 0l1 1 1-1l1 1 1-1l1 1 1-1l1 1 1-1l1 1 1-1l1 1 1-1l1 1v2l-1 1h-12l-1-1v-2zm16 0l1 1v2l-1 1l-1-1v-2zm12 0l1 1 1-1l1 1 1-1l1 1v2l-1 1h-4l-1-1v-2zm106 0l1 1 1-1h12l1 1v2l-1 1h-14l-1-1v-2zm-145 3l1 1 1-1l1 1 1-1h2l1 1 1-1l1 1 1-1h14l1 1 1-1h2l1 1 1-1l1 1 1-1l1 1 1-1l1 1 1-1l1 1 1-1h6l1 1 1-1l1 1v2l-1 1h-46l-1-1v-2zm142 0l1 1 1-1h14l1 1v2l-1 1l-1-1-1 1h-14l-1-1v-2zm-149 3l1 1 1-1l1 1 1-1l1 1 1-1h46l1 1v2l-1 1h-52l-1-1v-2zm58 0l1 1v2l-1 1l-1-1v-2zm4 0l1 1v2l-1 1l-1-1v-2zm82 0l1 1 1-1l1 1 1-1h14l1 1v2l-1 1h-18l-1-1v-2zm-149 3l1 1 1-1l1 1 1-1h54l1 1 1-1l1 1 1-1h2l1 1 1-1h2l1 1 1-1l1 1 1-1l1 1 1-1l1 1 1-1l1 1 1-1l1 1 1-1l1 1 1-1l1 1 1-1l1 1 1-1l1 1 1-1l1 1 1-1l1 1 1-1l1 1 1-1l1 1 1-1l1 1 1-1l1 1 1-1l1 1 1-1l1 1 1-1l1 1 1-1l1 1 1-1l1 1 1-1l1 1 1-1l1 1 1-1l1 1 1-1l1 1 1-1l1 1 1-1l1 1 1-1l1 1 1-1l1 1 1-1l1 1 1-1l1 1 1-1l1 1 1-1l1 1 1-1l1 1 1-1l1 1 1-1l1 1 1-1l1 1 1-1l1 1 1-1l1 1v2l-1 1h-144l-1-1v-2zm148 0h18l1 1v2l-1 1l-1-1-1 1h-16l-1-1v-2zm-149 3h144l1 1v2l-1 1h-144l-1-1v-2zm148 0h16l1 1v2l-1 1h-16l-1-1v-2zm-151 3l1 1 1-1h146l1 1 1-1h16l1 1v2l-1 1l-1-1-1 1h-164l-1-1v-2zm-1 3h164l1 1v2l-1 1h-164l-1-1v-2zm-1 3h164l1 1v2l-1 1l-1-1-1 1h-162l-1-1v-2zm1 3h160l1 1v2l-1 1h-160l-1-1v-2zm1 3h158l1 1v2l-1 1l-1-1-1 1h-38l-1-1-1 1h-116l-1-1v-2zm-1 3h116l1 1v2l-1 1h-116l-1-1v-2zm120 0h36l1 1v2l-1 1l-1-1-1 1h-34l-1-1v-2zm-119 3h116l1 1 1-1h34l1 1v2l-1 1h-150l-1-1-1 1l-1-1v-2zm3 3h148l1 1v2l-1 1l-1-1-1 1h-140l-1-1-1 1l-1-1-1 1l-1-1-1 1l-1-1v-2zm7 3h138l1 1v2l-1 1h-16l-1-1-1 1l-1-1-1 1l-1-1-1 1l-1-1-1 1l-1-1-1 1l-1-1-1 1l-1-1-1 1l-1-1-1 1l-1-1-1 1l-1-1-1 1l-1-1-1 1l-1-1-1 1l-1-1-1 1l-1-1-1 1l-1-1-1 1l-1-1-1 1l-1-1-1 1l-1-1-1 1l-1-1-1 1l-1-1-1 1l-1-1-1 1l-1-1-1 1l-1-1-1 1l-1-1-1 1l-1-1-1 1l-1-1-1 1l-1-1-1 1l-1-1-1 1l-1-1-1 1l-1-1-1 1l-1-1-1 1l-1-1-1 1l-1-1-1 1l-1-1-1 1l-1-1-1 1l-1-1-1 1l-1-1-1 1h-42l-1-1-1 1l-1-1-1 1l-1-1-1 1l-1-1v-2zm7 3h40l1 1v2l-1 1l-1-1-1 1l-1-1-1 1l-1-1-1 1l-1-1-1 1l-1-1-1 1l-1-1-1 1l-1-1-1 1h-12l-1-1-1 1l-1-1-1 1l-1-1-1 1l-1-1-1 1h-2l-1-1-1 1l-1-1-1 1l-1-1v-2zm116 0h14l1 1v2l-1 1l-1-1-1 1h-12l-1-1v-2zm-111 3l1 1v2l-1 1l-1-1v-2zm10 0h10l1 1v2l-1 1l-1-1-1 1l-1-1-1 1l-1-1-1 1l-1-1-1 1l-1-1-1 1l-1-1v-2zm100 0h12l1 1v2l-1 1h-12l-1-1v-2zm1 3h10l1 1v2l-1 1l-1-1-1 1h-8l-1-1v-2zm-3 3l1 1 1-1h8l1 1v2l-1 1h-10l-1-1v-2zm1 3h8l1 1v2l-1 1l-1-1-1 1h-6l-1-1v-2zm-3 3l1 1v2l-1 1l-1-1v-2zm4 0h4l1 1v2l-1 1h-4l-1-1v-2zm-5 3h2l1 1 1-1h4l1 1v2l-1 1l-1-1-1 1h-6l-1-1v-2zm-3 3l1 1 1-1h6l1 1v2l-1 1h-8l-1-1v-2zm1 3h6l1 1v2l-1 1l-1-1-1 1h-4l-1-1v-2zm-1 3h4l1 1v2l-1 1l-1-1-1 1h-2l-1-1v-2zm-1 3h2l1 1v2l-1 1l-1-1-1 1l-1-1v-2zm-59 81l1 1 1-1l1 1v2l-1 1h-2l-1-1v-2zm-5 3l1 1 1-1l1 1 1-1h2l1 1v2l-1 1h-6l-1-1v-2zm-1 3h6l1 1v2l-1 1h-6l-1-1v-2zm-3 3l1 1 1-1h6l1 1v2l-1 1h-8l-1-1v-2zm-3 3l1 1 1-1h8l1 1v2l-1 1l-1-1-1 1h-8l-1-1v-2zm-1 3h8l1 1v2l-1 1h-8l-1-1v-2zm-3 3l1 1 1-1h8l1 1v2l-1 1l-1-1-1 1h-8l-1-1v-2zm-1 3h8l1 1v2l-1 1l-1-1-1 1h-6l-1-1v-2zm-3 3l1 1 1-1h6l1 1v2l-1 1h-8l-1-1v-2zm-1 3h8l1 1v2l-1 1l-1-1-1 1h-6l-1-1v-2zm-1 3h6l1 1v2l-1 1h-6l-1-1v-2zm-3 3l1 1 1-1h6l1 1v2l-1 1l-1-1-1 1h-6l-1-1v-2zm1 3h4l1 1v2l-1 1h-4l-1-1v-2zm-3 3l1 1 1-1h4l1 1v2l-1 1l-1-1-1 1h-4l-1-1v-2zm-1 3h4l1 1v2l-1 1h-4l-1-1v-2zm-1 3h4l1 1v2l-1 1l-1-1-1 1h-2l-1-1v-2zm1 3l1 1v2l-1 1l-1-1v-2z" fill="#450e60"/>
<path d="M296 154l1 1 1-1l1 1v2l-1 1h-2l-1-1v-2zm-5 3l1 1 1-1l1 1 1-1h2l1 1v2l-1 1h-6l-1-1v-2zm-1 3h8l1 1v2l-1 1h-8l-1-1v-2zm-3 3l1 1 1-1h8l1 1v2l-1 1l-1-1-1 1h-8l-1-1v-2zm-3 3l1 1 1-1h8l1 1v2l-1 1h-10l-1-1v-2zm-1 3h10l1 1v2l-1 1l-1-1-1 1h-8l-1-1v-2zm-141 3l1 1 1-1l1 1 1-1l1 1 1-1l1 1 1-1l1 1 1-1l1 1 1-1l1 1 1-1l1 1v2l-1 1h-14l-1-1v-2zm18 0l1 1v2l-1 1l-1-1v-2zm10 0l1 1 1-1l1 1 1-1l1 1 1-1l1 1 1-1l1 1v2l-1 1h-8l-1-1v-2zm110 0l1 1 1-1h8l1 1v2l-1 1h-10l-1-1v-2zm-141 3l1 1 1-1h16l1 1 1-1h2l1 1 1-1l1 1 1-1l1 1 1-1l1 1 1-1h8l1 1v2l-1 1h-38l-1-1v-2zm138 0l1 1 1-1h10l1 1v2l-1 1l-1-1-1 1h-10l-1-1v-2zm-145 3l1 1 1-1l1 1 1-1l1 1 1-1h40l1 1v2l-1 1h-46l-1-1v-2zm50 0l1 1 1-1l1 1v2l-1 1h-2l-1-1v-2zm92 0l1 1 1-1h10l1 1v2l-1 1h-12l-1-1v-2zm-147 3l1 1 1-1l1 1 1-1h48l1 1 1-1h2l1 1v2l-1 1h-56l-1-1v-2zm60 0l1 1 1-1l1 1 1-1l1 1 1-1l1 1v2l-1 1h-6l-1-1v-2zm14 0l1 1 1-1l1 1v2l-1 1h-2l-1-1v-2zm8 0l1 1 1-1l1 1 1-1l1 1v2l-1 1h-4l-1-1v-2zm8 0l1 1 1-1l1 1v2l-1 1h-2l-1-1v-2zm6 0l1 1v2l-1 1l-1-1v-2zm8 0l1 1v2l-1 1l-1-1v-2zm6 0l1 1v2l-1 1l-1-1v-2zm4 0l1 1 1-1l1 1 1-1l1 1v2l-1 1h-4l-1-1v-2zm10 0l1 1 1-1l1 1 1-1l1 1 1-1l1 1v2l-1 1h-6l-1-1v-2zm12 0l1 1 1-1l1 1 1-1l1 1 1-1l1 1 1-1l1 1 1-1h12l1 1v2l-1 1l-1-1-1 1h-20l-1-1v-2zm-137 3h58l1 1 1-1h8l1 1 1-1l1 1 1-1l1 1 1-1h4l1 1 1-1l1 1 1-1h6l1 1 1-1h4l1 1 1-1h2l1 1 1-1l1 1 1-1l1 1 1-1h2l1 1 1-1l1 1 1-1h2l1 1 1-1h6l1 1 1-1l1 1 1-1h8l1 1 1-1l1 1 1-1h20l1 1v2l-1 1h-156l-1-1v-2zm-3 3l1 1 1-1h156l1 1v2l-1 1l-1-1-1 1h-154l-1-1-1 1l-1-1v-2zm3 3h152l1 1v2l-1 1h-152l-1-1v-2zm-1 3h152l1 1v2l-1 1l-1-1-1 1h-38l-1-1-1 1l-1-1-1 1h-8l-1-1-1 1h-98l-1-1v-2zm1 3h96l1 1v2l-1 1l-1-1-1 1l-1-1-1 1h-4l-1-1-1 1h-2l-1-1-1 1l-1-1-1 1h-4l-1-1-1 1l-1-1-1 1h-4l-1-1-1 1h-10l-1-1-1 1h-46l-1-1-1 1l-1-1-1 1l-1-1-1 1l-1-1-1 1l-1-1v-2zm100 0h6l1 1v2l-1 1h-2l-1-1-1 1l-1-1-1 1l-1-1v-2zm12 0h36l1 1v2l-1 1l-1-1-1 1h-18l-1-1-1 1l-1-1-1 1h-2l-1-1-1 1l-1-1-1 1h-2l-1-1-1 1h-2l-1-1v-2zm-103 3h44l1 1v2l-1 1h-2l-1-1-1 1l-1-1-1 1h-38l-1-1v-2zm48 0h8l1 1v2l-1 1l-1-1-1 1l-1-1-1 1l-1-1-1 1l-1-1-1 1l-1-1v-2zm12 0h2l1 1v2l-1 1l-1-1-1 1l-1-1v-2zm8 0h2l1 1v2l-1 1l-1-1-1 1l-1-1v-2zm8 0l1 1v2l-1 1l-1-1v-2zm4 0h2l1 1v2l-1 1l-1-1-1 1l-1-1v-2zm16 0l1 1v2l-1 1l-1-1v-2zm4 0l1 1v2l-1 1l-1-1v-2zm4 0l1 1v2l-1 1l-1-1v-2zm4 0l1 1v2l-1 1l-1-1v-2zm6 0l1 1v2l-1 1l-1-1v-2zm6 0h16l1 1v2l-1 1h-14l-1-1-1 1l-1-1v-2zm-119 3h36l1 1v2l-1 1l-1-1-1 1l-1-1-1 1l-1-1-1 1l-1-1-1 1l-1-1-1 1h-10l-1-1-1 1l-1-1-1 1l-1-1-1 1l-1-1-1 1l-1-1-1 1l-1-1-1 1l-1-1-1 1l-1-1-1 1l-1-1v-2zm42 0l1 1v2l-1 1l-1-1v-2zm80 0h12l1 1v2l-1 1l-1-1-1 1h-10l-1-1v-2zm-105 3h8l1 1v2l-1 1l-1-1-1 1l-1-1-1 1l-1-1-1 1h-2l-1-1v-2zm104 0h10l1 1v2l-1 1h-10l-1-1v-2zm-103 3l1 1v2l-1 1l-1-1v-2zm104 0h8l1 1v2l-1 1l-1-1-1 1h-6l-1-1v-2zm-3 3l1 1 1-1h6l1 1v2l-1 1h-8l-1-1v-2zm1 3h6l1 1v2l-1 1l-1-1-1 1h-4l-1-1v-2zm-1 3h4l1 1v2l-1 1h-4l-1-1v-2zm-1 3h4l1 1v2l-1 1l-1-1-1 1h-2l-1-1v-2zm1 3l1 1v2l-1 1l-1-1v-2zm-78 108l1 1v2l-1 1l-1-1v-2zm-1 3l1 1v2l-1 1l-1-1v-2zm-1 3l1 1v2l-1 1l-1-1v-2zm-5 3l1 1 1-1l1 1 1-1l1 1v2l-1 1l-1-1-1 1h-2l-1-1v-2zm-1 3h2l1 1v2l-1 1h-2l-1-1v-2zm-3 3l1 1 1-1h2l1 1v2l-1 1l-1-1-1 1h-2l-1-1v-2zm-1 3h2l1 1v2l-1 1h-2l-1-1v-2zm-1 3h2l1 1v2l-1 1l-1-1-1 1l-1-1v-2z" fill="#471b6c"/>
<path d="M294 160l1 1v2l-1 1l-1-1v-2zm-3 3l1 1v2l-1 1l-1-1v-2zm4 0l1 1v2l-1 1l-1-1v-2zm-7 3l1 1 1-1h2l1 1v2l-1 1h-4l-1-1v-2zm-1 3h4l1 1v2l-1 1h-4l-1-1v-2zm-115 3l1 1 1-1l1 1v2l-1 1h-2l-1-1v-2zm110 0l1 1 1-1l1 1 1-1h4l1 1v2l-1 1h-8l-1-1v-2zm-141 3l1 1v2l-1 1l-1-1v-2zm6 0l1 1v2l-1 1l-1-1v-2zm6 0l1 1 1-1l1 1v2l-1 1h-2l-1-1v-2zm6 0l1 1v2l-1 1l-1-1v-2zm10 0l1 1 1-1h4l1 1v2l-1 1h-6l-1-1v-2zm110 0l1 1 1-1h8l1 1v2l-1 1l-1-1-1 1h-8l-1-1v-2zm-143 3l1 1 1-1l1 1 1-1h2l1 1 1-1l1 1 1-1h2l1 1 1-1l1 1 1-1h4l1 1 1-1h2l1 1 1-1l1 1 1-1l1 1 1-1l1 1 1-1h8l1 1v2l-1 1h-40l-1-1v-2zm140 0l1 1 1-1h8l1 1v2l-1 1h-10l-1-1v-2zm-143 3l1 1v2l-1 1l-1-1v-2zm4 0h38l1 1v2l-1 1h-38l-1-1v-2zm138 0h10l1 1v2l-1 1l-1-1-1 1h-8l-1-1v-2zm-141 3l1 1 1-1h40l1 1 1-1l1 1v2l-1 1h-44l-1-1v-2zm50 0l1 1v2l-1 1l-1-1v-2zm86 0l1 1 1-1l1 1 1-1h8l1 1v2l-1 1h-12l-1-1v-2zm-139 3l1 1 1-1h46l1 1v2l-1 1h-48l-1-1v-2zm52 0l1 1v2l-1 1l-1-1v-2zm4 0l1 1v2l-1 1l-1-1v-2zm8 0l1 1 1-1l1 1v2l-1 1h-2l-1-1v-2zm6 0l1 1 1-1l1 1v2l-1 1l-1-1-1 1l-1-1v-2zm10 0l1 1v2l-1 1l-1-1v-2zm18 0l1 1v2l-1 1l-1-1v-2zm18 0l1 1v2l-1 1l-1-1v-2zm16 0l1 1 1-1l1 1 1-1l1 1 1-1h12l1 1v2l-1 1l-1-1-1 1h-14l-1-1-1 1l-1-1v-2zm-133 3h48l1 1v2l-1 1h-48l-1-1v-2zm52 0h2l1 1 1-1l1 1v2l-1 1l-1-1-1 1h-2l-1-1v-2zm12 0h2l1 1v2l-1 1l-1-1-1 1l-1-1v-2zm10 0l1 1v2l-1 1l-1-1v-2zm10 0l1 1v2l-1 1l-1-1v-2zm6 0l1 1 1-1l1 1v2l-1 1h-2l-1-1v-2zm10 0l1 1v2l-1 1l-1-1v-2zm4 0l1 1v2l-1 1l-1-1v-2zm4 0l1 1v2l-1 1l-1-1v-2zm14 0l1 1v2l-1 1l-1-1v-2zm6 0l1 1v2l-1 1l-1-1v-2zm8 0h12l1 1v2l-1 1h-12l-1-1v-2zm-135 3h48l1 1 1-1h2l1 1v2l-1 1l-1-1-1 1l-1-1-1 1l-1-1-1 1h-46l-1-1v-2zm58 0l1 1v2l-1 1l-1-1v-2zm14 0l1 1v2l-1 1l-1-1v-2zm18 0l1 1v2l-1 1l-1-1v-2zm42 0l1 1 1-1h12l1 1v2l-1 1l-1-1-1 1h-12l-1-1v-2zm-131 3h44l1 1v2l-1 1l-1-1-1 1h-2l-1-1-1 1h-32l-1-1-1 1l-1-1-1 1l-1-1-1 1l-1-1v-2zm130 0h12l1 1v2l-1 1l-1-1-1 1h-10l-1-1v-2zm-123 3h30l1 1v2l-1 1l-1-1-1 1l-1-1-1 1l-1-1-1 1h-10l-1-1-1 1l-1-1-1 1l-1-1-1 1l-1-1-1 1l-1-1-1 1h-2l-1-1-1 1l-1-1v-2zm34 0l1 1v2l-1 1l-1-1v-2zm90 0h8l1 1v2l-1 1h-8l-1-1v-2zm-121 3l1 1v2l-1 1l-1-1v-2zm12 0h8l1 1v2l-1 1l-1-1-1 1l-1-1-1 1l-1-1-1 1l-1-1-1 1l-1-1v-2zm108 0h8l1 1v2l-1 1l-1-1-1 1h-6l-1-1v-2zm-1 3h6l1 1v2l-1 1h-6l-1-1v-2zm-1 3h6l1 1v2l-1 1l-1-1-1 1h-4l-1-1v-2zm-1 3h4l1 1v2l-1 1l-1-1-1 1h-2l-1-1v-2zm1 3l1 1v2l-1 1l-1-1v-2z" fill="#472877"/>
<path d="M287 169l1 1 1-1l1 1v2l-1 1l-1-1-1 1l-1-1v-2zm-1 3l1 1v2l-1 1l-1-1v-2zm-115 3l1 1 1-1l1 1 1-1l1 1v2l-1 1h-4l-1-1v-2zm110 0l1 1 1-1l1 1 1-1h2l1 1v2l-1 1h-6l-1-1v-2zm-131 3l1 1 1-1l1 1v2l-1 1h-2l-1-1v-2zm18 0l1 1 1-1h4l1 1v2l-1 1h-6l-1-1v-2zm112 0h6l1 1v2l-1 1h-6l-1-1v-2zm-143 3l1 1 1-1l1 1 1-1l1 1v2l-1 1h-4l-1-1v-2zm8 0l1 1 1-1l1 1 1-1h4l1 1 1-1l1 1 1-1l1 1 1-1l1 1 1-1l1 1 1-1l1 1 1-1l1 1 1-1h6l1 1v2l-1 1h-28l-1-1v-2zm130 0l1 1 1-1l1 1 1-1h6l1 1v2l-1 1l-1-1-1 1h-8l-1-1v-2zm-139 3h6l1 1 1-1h30l1 1v2l-1 1h-38l-1-1v-2zm138 0h8l1 1v2l-1 1h-8l-1-1v-2zm-137 3h36l1 1v2l-1 1h-36l-1-1v-2zm136 0h8l1 1v2l-1 1l-1-1-1 1h-6l-1-1v-2zm-137 3h36l1 1v2l-1 1h-36l-1-1v-2zm42 0l1 1v2l-1 1l-1-1v-2zm92 0l1 1 1-1h6l1 1v2l-1 1h-8l-1-1v-2zm-133 3h36l1 1 1-1l1 1v2l-1 1l-1-1-1 1l-1-1-1 1h-2l-1-1-1 1h-16l-1-1-1 1h-2l-1-1-1 1h-8l-1-1v-2zm130 0l1 1 1-1h8l1 1v2l-1 1l-1-1-1 1h-8l-1-1v-2zm-129 3h6l1 1v2l-1 1l-1-1-1 1h-4l-1-1v-2zm10 0l1 1v2l-1 1l-1-1v-2zm4 0h14l1 1v2l-1 1l-1-1-1 1h-12l-1-1v-2zm18 0l1 1v2l-1 1l-1-1v-2zm96 0h8l1 1v2l-1 1l-1-1-1 1h-6l-1-1v-2zm-127 3h2l1 1v2l-1 1l-1-1-1 1l-1-1v-2zm12 0h12l1 1v2l-1 1h-8l-1-1-1 1l-1-1-1 1l-1-1v-2zm114 0h6l1 1v2l-1 1h-6l-1-1v-2zm-109 3h6l1 1v2l-1 1l-1-1-1 1l-1-1-1 1l-1-1-1 1l-1-1v-2zm108 0h6l1 1v2l-1 1l-1-1-1 1h-2l-1-1-1 1l-1-1v-2zm-1 3l1 1v2l-1 1l-1-1v-2zm4 0l1 1v2l-1 1l-1-1v-2zm-3 3l1 1v2l-1 1l-1-1v-2z" fill="#45337e"/>
<path d="M286 172l1 1v2l-1 1l-1-1v-2zm-115 3l1 1 1-1l1 1v2l-1 1h-2l-1-1v-2zm112 0l1 1 1-1h2l1 1v2l-1 1h-4l-1-1v-2zm-113 3h4l1 1v2l-1 1h-4l-1-1v-2zm110 0l1 1 1-1h4l1 1v2l-1 1h-6l-1-1v-2zm-141 3l1 1 1-1l1 1v2l-1 1h-2l-1-1v-2zm10 0l1 1v2l-1 1l-1-1v-2zm6 0l1 1 1-1l1 1v2l-1 1h-2l-1-1v-2zm6 0l1 1v2l-1 1l-1-1v-2zm4 0l1 1 1-1l1 1 1-1h4l1 1v2l-1 1h-8l-1-1v-2zm112 0l1 1 1-1h6l1 1v2l-1 1l-1-1-1 1h-6l-1-1v-2zm-137 3h2l1 1 1-1l1 1v2l-1 1h-4l-1-1v-2zm8 0h2l1 1 1-1l1 1 1-1h4l1 1 1-1h2l1 1 1-1h8l1 1v2l-1 1h-24l-1-1v-2zm126 0l1 1 1-1h6l1 1v2l-1 1h-8l-1-1v-2zm-135 3h6l1 1 1-1h24l1 1v2l-1 1l-1-1-1 1h-22l-1-1-1 1h-6l-1-1v-2zm134 0h8l1 1v2l-1 1l-1-1-1 1h-6l-1-1v-2zm-135 3h6l1 1v2l-1 1l-1-1-1 1h-4l-1-1v-2zm10 0h20l1 1v2l-1 1h-18l-1-1-1 1l-1-1v-2zm122 0l1 1 1-1h6l1 1v2l-1 1h-8l-1-1v-2zm-133 3h4l1 1v2l-1 1l-1-1-1 1l-1-1-1 1l-1-1v-2zm8 0l1 1v2l-1 1l-1-1v-2zm6 0h16l1 1v2l-1 1h-14l-1-1-1 1l-1-1v-2zm116 0l1 1v2l-1 1l-1-1v-2zm4 0h6l1 1v2l-1 1l-1-1-1 1h-4l-1-1v-2zm-129 3l1 1v2l-1 1l-1-1v-2zm6 0l1 1v2l-1 1l-1-1v-2zm6 0h12l1 1v2l-1 1l-1-1-1 1h-8l-1-1-1 1l-1-1v-2zm114 0l1 1 1-1h4l1 1v2l-1 1l-1-1-1 1h-4l-1-1v-2zm-111 3h6l1 1v2l-1 1l-1-1-1 1h-4l-1-1v-2zm112 0h2l1 1v2l-1 1h-2l-1-1v-2zm-111 3h2l1 1v2l-1 1l-1-1-1 1l-1-1v-2zm108 0l1 1 1-1h2l1 1v2l-1 1l-1-1-1 1h-2l-1-1v-2zm1 3l1 1v2l-1 1l-1-1v-2z" fill="#423f84"/>
<path d="M286 172l1 1v2l-1 1l-1-1v-2zm-1 3l1 1v2l-1 1l-1-1v-2zm-115 3l1 1 1-1l1 1v2l-1 1h-2l-1-1v-2zm112 0l1 1 1-1l1 1v2l-1 1h-2l-1-1v-2zm-117 3l1 1 1-1l1 1 1-1h4l1 1v2l-1 1h-8l-1-1v-2zm112 0l1 1 1-1l1 1 1-1h4l1 1v2l-1 1l-1-1-1 1h-6l-1-1v-2zm-135 3l1 1v2l-1 1l-1-1v-2zm10 0l1 1v2l-1 1l-1-1v-2zm4 0l1 1 1-1l1 1v2l-1 1l-1-1-1 1l-1-1v-2zm8 0h8l1 1v2l-1 1h-8l-1-1v-2zm112 0h6l1 1v2l-1 1h-6l-1-1v-2zm-137 3l1 1 1-1h2l1 1 1-1l1 1v2l-1 1h-2l-1-1-1 1h-2l-1-1v-2zm14 0l1 1 1-1l1 1v2l-1 1h-2l-1-1v-2zm6 0l1 1 1-1l1 1 1-1h8l1 1v2l-1 1l-1-1-1 1h-10l-1-1v-2zm114 0l1 1 1-1h6l1 1v2l-1 1l-1-1-1 1h-6l-1-1v-2zm-135 3h2l1 1v2l-1 1l-1-1-1 1l-1-1v-2zm6 0l1 1v2l-1 1l-1-1v-2zm6 0l1 1 1-1h2l1 1v2l-1 1l-1-1-1 1h-2l-1-1v-2zm10 0h8l1 1v2l-1 1h-8l-1-1v-2zm112 0h6l1 1v2l-1 1h-6l-1-1v-2zm-131 3l1 1v2l-1 1l-1-1v-2zm10 0l1 1v2l-1 1l-1-1v-2zm4 0l1 1v2l-1 1l-1-1v-2zm4 0h8l1 1v2l-1 1l-1-1-1 1h-6l-1-1v-2zm112 0h6l1 1v2l-1 1l-1-1-1 1h-4l-1-1v-2zm-115 3l1 1 1-1h6l1 1v2l-1 1l-1-1-1 1h-6l-1-1v-2zm114 0h4l1 1v2l-1 1l-1-1-1 1h-2l-1-1v-2zm-113 3h4l1 1v2l-1 1l-1-1-1 1l-1-1-1 1l-1-1v-2zm114 0l1 1v2l-1 1l-1-1v-2zm-1 3l1 1v2l-1 1l-1-1v-2z" fill="#3e4a88"/>
<path d="M170 178l1 1 1-1l1 1v2l-1 1h-2l-1-1v-2zm112 0l1 1 1-1l1 1v2l-1 1h-2l-1-1v-2zm-115 3l1 1 1-1h2l1 1v2l-1 1h-4l-1-1v-2zm112 0l1 1 1-1h2l1 1v2l-1 1h-4l-1-1v-2zm-115 3l1 1 1-1h4l1 1v2l-1 1h-6l-1-1v-2zm114 0h4l1 1v2l-1 1h-4l-1-1v-2zm-123 3l1 1v2l-1 1l-1-1v-2zm6 0l1 1 1-1h6l1 1v2l-1 1h-8l-1-1v-2zm114 0l1 1 1-1h4l1 1v2l-1 1l-1-1-1 1h-4l-1-1v-2zm-121 3l1 1v2l-1 1l-1-1v-2zm6 0h8l1 1v2l-1 1h-8l-1-1v-2zm112 0l1 1 1-1h4l1 1v2l-1 1h-6l-1-1v-2zm-131 3l1 1v2l-1 1l-1-1v-2zm18 0h8l1 1v2l-1 1l-1-1-1 1h-6l-1-1v-2zm112 0h6l1 1v2l-1 1l-1-1-1 1h-4l-1-1v-2zm-111 3h4l1 1v2l-1 1l-1-1-1 1h-2l-1-1v-2zm110 0h4l1 1v2l-1 1l-1-1-1 1h-2l-1-1v-2zm-111 3h2l1 1v2l-1 1l-1-1-1 1l-1-1v-2zm112 0l1 1v2l-1 1l-1-1v-2z" fill="#3a548b"/>
<path d="M282 178l1 1 1-1l1 1v2l-1 1h-2l-1-1v-2zm-113 3l1 1 1-1l1 1v2l-1 1h-2l-1-1v-2zm112 0h2l1 1v2l-1 1h-2l-1-1v-2zm-117 3l1 1 1-1l1 1 1-1h2l1 1v2l-1 1h-6l-1-1v-2zm114 0l1 1 1-1h2l1 1v2l-1 1h-4l-1-1v-2zm-115 3h6l1 1v2l-1 1l-1-1-1 1h-4l-1-1v-2zm112 0l1 1 1-1h4l1 1v2l-1 1l-1-1-1 1h-4l-1-1v-2zm-115 3l1 1 1-1h4l1 1v2l-1 1h-6l-1-1v-2zm114 0h4l1 1v2l-1 1h-4l-1-1v-2zm-115 3h6l1 1v2l-1 1h-6l-1-1v-2zm114 0h4l1 1v2l-1 1l-1-1-1 1h-2l-1-1v-2zm-113 3h4l1 1v2l-1 1l-1-1-1 1l-1-1-1 1l-1-1v-2zm110 0l1 1 1-1h2l1 1v2l-1 1l-1-1-1 1h-2l-1-1v-2zm-111 3l1 1v2l-1 1l-1-1v-2zm112 0l1 1v2l-1 1l-1-1v-2z" fill="#355e8d"/>
<path d="M282 178l1 1v2l-1 1l-1-1v-2zm-113 3l1 1 1-1l1 1v2l-1 1h-2l-1-1v-2zm112 0h2l1 1v2l-1 1h-2l-1-1v-2zm-115 3l1 1 1-1h2l1 1v2l-1 1h-4l-1-1v-2zm112 0l1 1 1-1h2l1 1v2l-1 1h-4l-1-1v-2zm-115 3l1 1 1-1h4l1 1v2l-1 1l-1-1-1 1h-4l-1-1v-2zm114 0h4l1 1v2l-1 1l-1-1-1 1h-2l-1-1v-2zm-115 3h4l1 1v2l-1 1h-4l-1-1v-2zm112 0l1 1 1-1h2l1 1v2l-1 1h-4l-1-1v-2zm-113 3h4l1 1v2l-1 1l-1-1-1 1h-2l-1-1v-2zm112 0h4l1 1v2l-1 1l-1-1-1 1h-2l-1-1v-2zm-113 3h2l1 1v2l-1 1l-1-1-1 1l-1-1v-2zm112 0h2l1 1v2l-1 1l-1-1-1 1l-1-1v-2zm-113 3l1 1v2l-1 1l-1-1v-2z" fill="#31678d"/>
<path d="M169 181l1 1v2l-1 1l-1-1v-2zm112 0l1 1v2l-1 1l-1-1v-2zm-115 3l1 1 1-1h2l1 1v2l-1 1h-4l-1-1v-2zm112 0l1 1 1-1h2l1 1v2l-1 1h-4l-1-1v-2zm-115 3l1 1 1-1h4l1 1v2l-1 1l-1-1-1 1h-4l-1-1v-2zm114 0h4l1 1v2l-1 1l-1-1-1 1h-2l-1-1v-2zm-115 3h4l1 1v2l-1 1h-4l-1-1v-2zm114 0h2l1 1v2l-1 1h-2l-1-1v-2zm-115 3h4l1 1v2l-1 1l-1-1-1 1h-2l-1-1v-2zm112 0l1 1 1-1h2l1 1v2l-1 1l-1-1-1 1h-2l-1-1v-2zm-113 3h2l1 1v2l-1 1l-1-1-1 1l-1-1v-2zm112 0h2l1 1v2l-1 1l-1-1-1 1l-1-1v-2z" fill="#2d718e"/>
<path d="M169 181l1 1v2l-1 1l-1-1v-2zm112 0l1 1v2l-1 1l-1-1v-2zm-115 3l1 1 1-1l1 1v2l-1 1h-2l-1-1v-2zm112 0l1 1 1-1l1 1v2l-1 1h-2l-1-1v-2zm-113 3h4l1 1v2l-1 1l-1-1-1 1h-2l-1-1v-2zm112 0h2l1 1v2l-1 1h-2l-1-1v-2zm-115 3l1 1 1-1h2l1 1v2l-1 1l-1-1-1 1h-2l-1-1v-2zm114 0h2l1 1v2l-1 1h-2l-1-1v-2zm-115 3h2l1 1v2l-1 1h-2l-1-1v-2zm112 0l1 1 1-1h2l1 1v2l-1 1l-1-1-1 1h-2l-1-1v-2zm-113 3h2l1 1v2l-1 1l-1-1-1 1l-1-1v-2zm114 0l1 1v2l-1 1l-1-1v-2z" fill="#297a8e"/>
<path d="M168 184l1 1v2l-1 1l-1-1v-2zm110 0l1 1 1-1l1 1v2l-1 1h-2l-1-1v-2zm-113 3l1 1 1-1l1 1v2l-1 1h-2l-1-1v-2zm112 0h2l1 1v2l-1 1h-2l-1-1v-2zm-115 3l1 1 1-1h2l1 1v2l-1 1l-1-1-1 1h-2l-1-1v-2zm114 0h2l1 1v2l-1 1h-2l-1-1v-2zm-115 3h2l1 1v2l-1 1h-2l-1-1v-2zm114 0h2l1 1v2l-1 1l-1-1-1 1l-1-1v-2zm-115 3h2l1 1v2l-1 1l-1-1-1 1l-1-1v-2zm114 0l1 1v2l-1 1l-1-1v-2z" fill="#26838d"/>
<path d="M165 187l1 1 1-1l1 1v2l-1 1h-2l-1-1v-2zm112 0l1 1 1-1l1 1v2l-1 1h-2l-1-1v-2zm-115 3l1 1 1-1h2l1 1v2l-1 1l-1-1-1 1h-2l-1-1v-2zm114 0h2l1 1v2l-1 1h-2l-1-1v-2zm-115 3h2l1 1v2l-1 1h-2l-1-1v-2zm114 0h2l1 1v2l-1 1l-1-1-1 1l-1-1v-2zm-115 3h2l1 1v2l-1 1l-1-1-1 1l-1-1v-2zm114 0l1 1v2l-1 1l-1-1v-2z" fill="#238c8c"/>
<path d="M165 187l1 1 1-1l1 1v2l-1 1l-1-1-1 1l-1-1v-2zm114 0l1 1v2l-1 1l-1-1v-2zm-115 3l1 1v2l-1 1l-1-1v-2zm112 0l1 1 1-1l1 1v2l-1 1h-2l-1-1v-2zm-115 3l1 1 1-1l1 1v2l-1 1h-2l-1-1v-2zm114 0h2l1 1v2l-1 1l-1-1-1 1l-1-1v-2zm-115 3h2l1 1v2l-1 1l-1-1-1 1l-1-1v-2z" fill="#21958b"/>
<path d="M165 187l1 1 1-1l1 1v2l-1 1l-1-1-1 1l-1-1v-2zm114 0l1 1v2l-1 1l-1-1v-2zm-115 3l1 1v2l-1 1l-1-1v-2zm112 0l1 1 1-1l1 1v2l-1 1h-2l-1-1v-2zm-113 3l1 1v2l-1 1l-1-1v-2zm112 0h2l1 1v2l-1 1l-1-1-1 1l-1-1v-2zm-113 3l1 1v2l-1 1l-1-1v-2z" fill="#229e88"/>
<path d="M165 187l1 1 1-1l1 1v2l-1 1l-1-1-1 1l-1-1v-2zm114 0l1 1v2l-1 1l-1-1v-2zm-115 3l1 1v2l-1 1l-1-1v-2zm112 0l1 1 1-1l1 1v2l-1 1l-1-1-1 1l-1-1v-2zm-113 3l1 1v2l-1 1l-1-1v-2zm112 0l1 1v2l-1 1l-1-1v-2zm-113 3l1 1v2l-1 1l-1-1v-2z" fill="#22a685"/>
<path d="M165 187l1 1v2l-1 1l-1-1v-2zm114 0l1 1v2l-1 1l-1-1v-2zm-115 3l1 1v2l-1 1l-1-1v-2zm112 0l1 1 1-1l1 1v2l-1 1l-1-1-1 1l-1-1v-2zm-113 3l1 1v2l-1 1l-1-1v-2zm112 0l1 1v2l-1 1l-1-1v-2zm-113 3l1 1v2l-1 1l-1-1v-2z" fill="#39b777"/>
<path d="M165 187l1 1v2l-1 1l-1-1v-2zm114 0l1 1v2l-1 1l-1-1v-2zm-115 3l1 1v2l-1 1l-1-1v-2zm112 0l1 1 1-1l1 1v2l-1 1l-1-1-1 1l-1-1v-2zm-113 3l1 1v2l-1 1l-1-1v-2zm-1 3l1 1v2l-1 1l-1-1v-2z" fill="#46c06f"/>
<path d="M279 187l1 1v2l-1 1l-1-1v-2zm-115 3l1 1v2l-1 1l-1-1v-2zm114 0l1 1v2l-1 1l-1-1v-2zm-115 3l1 1v2l-1 1l-1-1v-2zm-1 3l1 1v2l-1 1l-1-1v-2z" fill="#5ac663"/>
<path d="M279 187l1 1v2l-1 1l-1-1v-2zm-115 3l1 1v2l-1 1l-1-1v-2zm114 0l1 1v2l-1 1l-1-1v-2zm-115 3l1 1v2l-1 1l-1-1v-2z" fill="#b6dd2b"/>
<path d="M164 190l1 1v2l-1 1l-1-1v-2zm114 0l1 1v2l-1 1l-1-1v-2zm-115 3l1 1v2l-1 1l-1-1v-2z" fill="#e5e425"/>
<path d="M164 190l1 1v2l-1 1l-1-1v-2zm-1 3l1 1v2l-1 1l-1-1v-2z" fill="#fde725"/>
</g>
<path d="M1229.4 55.8L1229.4 572.5" stroke="#000" stroke-width="3.3" fill="none" stroke-linecap="butt"/>
<path d="M1227.8 570.9L2151.0 570.9" stroke="#000" stroke-width="3.3" fill="none" stroke-linecap="butt"/>
<path d="M1216.6 514.0L1229.4 514.0" stroke="#000" stroke-width="3.3" fill="none" stroke-linecap="butt"/>
<text x="1211.3" y="524.0" font-size="30.4" text-anchor="end">100</text>
<path d="M1216.6 380.0L1229.4 380.0" stroke="#000" stroke-width="3.3" fill="none" stroke-linecap="butt"/>
<text x="1211.3" y="390.1" font-size="30.4" text-anchor="end">200</text>
<path d="M1216.6 246.1L1229.4 246.1" stroke="#000" stroke-width="3.3" fill="none" stroke-linecap="butt"/>
<text x="1211.3" y="256.1" font-size="30.4" text-anchor="end">300</text>
<path d="M1216.6 112.2L1229.4 112.2" stroke="#000" stroke-width="3.3" fill="none" stroke-linecap="butt"/>
<text x="1211.3" y="122.2" font-size="30.4" text-anchor="end">400</text>
<path d="M1342.1 570.9L1342.1 583.7" stroke="#000" stroke-width="3.3" fill="none" stroke-linecap="butt"/>
<text x="1342.1" y="609.4" font-size="30.4" text-anchor="middle">100</text>
<path d="M1626.2 570.9L1626.2 583.7" stroke="#000" stroke-width="3.3" fill="none" stroke-linecap="butt"/>
<text x="1626.2" y="609.4" font-size="30.4" text-anchor="middle">200</text>
<path d="M1910.2 570.9L1910.2 583.7" stroke="#000" stroke-width="3.3" fill="none" stroke-linecap="butt"/>
<text x="1910.2" y="609.4" font-size="30.4" text-anchor="middle">300</text>
<text x="1229.5" y="30.8" font-size="30.0" font-weight="bold">panc 6</text>
<text transform="translate(1141.2 312.5) rotate(-90)" font-size="30.8" text-anchor="middle" letter-spacing="0.14">expected SINE insert length (bp)</text>
<g transform="translate(950.30 709.50) scale(3.460 1.1333)">
<path d="M138 70l1 1v2l-1 1l-1-1v-2zm19 3l1 1v2l-1 1l-1-1v-2zm-24 6l1 1v2l-1 1l-1-1v-2zm27 3l1 1v2l-1 1l-1-1v-2zm16 0l1 1v2l-1 1l-1-1v-2zm-69 9l1 1v2l-1 1l-1-1v-2zm17 3l1 1v2l-1 1l-1-1v-2zm29 3l1 1v2l-1 1l-1-1v-2zm6 0l1 1v2l-1 1l-1-1v-2zm112 0l1 1v2l-1 1l-1-1v-2zm-105 3l1 1v2l-1 1l-1-1v-2zm78 0l1 1v2l-1 1l-1-1v-2zm44 0l1 1v2l-1 1l-1-1v-2zm-137 3l1 1v2l-1 1l-1-1v-2zm162 0l1 1v2l-1 1l-1-1v-2zm-193 3l1 1v2l-1 1l-1-1v-2zm36 0l1 1v2l-1 1l-1-1v-2zm96 0l1 1v2l-1 1l-1-1v-2zm28 0l1 1v2l-1 1l-1-1v-2zm18 0l1 1v2l-1 1l-1-1v-2zm-163 3l1 1v2l-1 1l-1-1v-2zm18 0l1 1v2l-1 1l-1-1v-2zm16 0l1 1 1-1l1 1v2l-1 1l-1-1-1 1l-1-1v-2zm30 0l1 1v2l-1 1l-1-1v-2zm22 0l1 1v2l-1 1l-1-1v-2zm58 0l1 1v2l-1 1l-1-1v-2zm38 0l1 1v2l-1 1l-1-1v-2zm10 0l1 1v2l-1 1l-1-1v-2zm-171 3l1 1v2l-1 1l-1-1v-2zm16 0l1 1v2l-1 1l-1-1v-2zm126 0l1 1v2l-1 1l-1-1v-2zm6 0l1 1v2l-1 1l-1-1v-2zm16 0l1 1v2l-1 1l-1-1v-2zm-209 3l1 1v2l-1 1l-1-1v-2zm34 0l1 1v2l-1 1l-1-1v-2zm150 0l1 1v2l-1 1l-1-1v-2zm10 0l1 1v2l-1 1l-1-1v-2zm-121 3l1 1v2l-1 1l-1-1v-2zm14 0l1 1v2l-1 1l-1-1v-2zm32 0l1 1 1-1l1 1v2l-1 1l-1-1-1 1l-1-1v-2zm22 0l1 1v2l-1 1l-1-1v-2zm12 0l1 1v2l-1 1l-1-1v-2zm10 0l1 1v2l-1 1l-1-1v-2zm38 0l1 1v2l-1 1l-1-1v-2zm-157 3l1 1v2l-1 1l-1-1v-2zm22 0l1 1v2l-1 1l-1-1v-2zm14 0l1 1v2l-1 1l-1-1v-2zm-55 3l1 1v2l-1 1l-1-1v-2zm20 0l1 1v2l-1 1l-1-1v-2zm10 0l1 1v2l-1 1l-1-1v-2zm8 0l1 1v2l-1 1l-1-1v-2zm20 0l1 1v2l-1 1l-1-1v-2zm20 0l1 1v2l-1 1l-1-1v-2zm14 0l1 1v2l-1 1l-1-1v-2zm64 0l1 1v2l-1 1l-1-1v-2zm8 0l1 1v2l-1 1l-1-1v-2zm-173 3l1 1v2l-1 1l-1-1v-2zm32 0l1 1v2l-1 1l-1-1v-2zm6 0l1 1v2l-1 1l-1-1v-2zm8 0l1 1v2l-1 1l-1-1v-2zm4 0l1 1v2l-1 1l-1-1v-2zm30 0l1 1v2l-1 1l-1-1v-2zm10 0l1 1v2l-1 1l-1-1v-2zm16 0l1 1v2l-1 1l-1-1v-2zm30 0l1 1v2l-1 1l-1-1v-2zm-145 3l1 1v2l-1 1l-1-1v-2zm44 0l1 1 1-1l1 1v2l-1 1l-1-1-1 1l-1-1v-2zm26 0l1 1v2l-1 1l-1-1v-2zm10 0l1 1v2l-1 1l-1-1v-2zm54 0l1 1v2l-1 1l-1-1v-2zm52 0l1 1v2l-1 1l-1-1v-2zm4 0l1 1 1-1l1 1v2l-1 1l-1-1-1 1l-1-1v-2zm-165 3l1 1v2l-1 1l-1-1v-2zm28 0l1 1v2l-1 1l-1-1v-2zm82 0l1 1v2l-1 1l-1-1v-2zm30 0l1 1v2l-1 1l-1-1v-2zm6 0l1 1v2l-1 1l-1-1v-2zm12 0l1 1v2l-1 1l-1-1v-2zm6 0l1 1v2l-1 1l-1-1v-2zm10 0l1 1v2l-1 1l-1-1v-2zm-197 3l1 1v2l-1 1l-1-1v-2zm6 0l1 1v2l-1 1l-1-1v-2zm8 0l1 1v2l-1 1l-1-1v-2zm8 0l1 1v2l-1 1l-1-1v-2zm18 0l1 1v2l-1 1l-1-1v-2zm8 0l1 1v2l-1 1l-1-1v-2zm6 0l1 1v2l-1 1l-1-1v-2zm44 0l1 1v2l-1 1l-1-1v-2zm84 0l1 1v2l-1 1l-1-1v-2zm12 0l1 1 1-1l1 1v2l-1 1l-1-1-1 1l-1-1v-2zm-181 3h2l1 1v2l-1 1l-1-1-1 1l-1-1v-2zm16 0l1 1v2l-1 1l-1-1v-2zm18 0h2l1 1v2l-1 1h-2l-1-1v-2zm18 0l1 1v2l-1 1l-1-1v-2zm6 0l1 1v2l-1 1l-1-1v-2zm8 0l1 1v2l-1 1l-1-1v-2zm4 0l1 1v2l-1 1l-1-1v-2zm22 0l1 1 1-1l1 1v2l-1 1l-1-1-1 1l-1-1v-2zm8 0l1 1v2l-1 1l-1-1v-2zm10 0l1 1v2l-1 1l-1-1v-2zm12 0l1 1 1-1l1 1 1-1l1 1v2l-1 1l-1-1-1 1l-1-1-1 1l-1-1v-2zm12 0l1 1v2l-1 1l-1-1v-2zm6 0l1 1 1-1l1 1v2l-1 1l-1-1-1 1l-1-1v-2zm16 0l1 1v2l-1 1l-1-1v-2zm16 0l1 1v2l-1 1l-1-1v-2zm8 0l1 1v2l-1 1l-1-1v-2zm-197 3l1 1v2l-1 1l-1-1v-2zm24 0l1 1v2l-1 1l-1-1v-2zm8 0h2l1 1 1-1l1 1 1-1l1 1 1-1l1 1 1-1l1 1 1-1l1 1v2l-1 1l-1-1-1 1l-1-1-1 1l-1-1-1 1h-2l-1-1-1 1l-1-1-1 1l-1-1v-2zm16 0l1 1v2l-1 1l-1-1v-2zm4 0l1 1v2l-1 1l-1-1v-2zm26 0l1 1v2l-1 1l-1-1v-2zm10 0l1 1 1-1l1 1 1-1l1 1v2l-1 1l-1-1-1 1h-2l-1-1v-2zm14 0l1 1v2l-1 1l-1-1v-2zm24 0l1 1v2l-1 1l-1-1v-2zm40 0l1 1v2l-1 1l-1-1v-2zm6 0h2l1 1v2l-1 1h-2l-1-1v-2zm6 0l1 1v2l-1 1l-1-1v-2zm6 0l1 1 1-1l1 1v2l-1 1l-1-1-1 1l-1-1v-2zm6 0l1 1v2l-1 1l-1-1v-2zm4 0l1 1v2l-1 1l-1-1v-2zm-167 3l1 1 1-1l1 1v2l-1 1l-1-1-1 1l-1-1v-2zm10 0l1 1v2l-1 1l-1-1v-2zm10 0h2l1 1 1-1l1 1v2l-1 1h-2l-1-1-1 1l-1-1v-2zm8 0l1 1v2l-1 1l-1-1v-2zm6 0l1 1v2l-1 1l-1-1v-2zm6 0l1 1v2l-1 1l-1-1v-2zm14 0l1 1 1-1l1 1v2l-1 1l-1-1-1 1l-1-1v-2zm8 0l1 1v2l-1 1l-1-1v-2zm8 0l1 1v2l-1 1l-1-1v-2zm4 0l1 1v2l-1 1l-1-1v-2zm4 0l1 1 1-1l1 1 1-1l1 1v2l-1 1h-2l-1-1-1 1l-1-1v-2zm24 0l1 1 1-1l1 1v2l-1 1l-1-1-1 1l-1-1v-2zm16 0l1 1v2l-1 1l-1-1v-2zm8 0l1 1v2l-1 1l-1-1v-2zm12 0l1 1v2l-1 1l-1-1v-2zm4 0l1 1v2l-1 1l-1-1v-2zm4 0l1 1v2l-1 1l-1-1v-2zm6 0l1 1 1-1l1 1 1-1l1 1v2l-1 1h-2l-1-1-1 1l-1-1v-2zm8 0l1 1v2l-1 1l-1-1v-2zm-181 3l1 1v2l-1 1l-1-1v-2zm4 0l1 1v2l-1 1l-1-1v-2zm12 0l1 1 1-1l1 1v2l-1 1l-1-1-1 1l-1-1v-2zm8 0l1 1 1-1l1 1 1-1l1 1v2l-1 1h-4l-1-1v-2zm14 0l1 1 1-1l1 1v2l-1 1h-2l-1-1v-2zm6 0h2l1 1v2l-1 1h-2l-1-1v-2zm6 0l1 1v2l-1 1l-1-1v-2zm4 0l1 1v2l-1 1l-1-1v-2zm6 0l1 1v2l-1 1l-1-1v-2zm26 0l1 1 1-1l1 1v2l-1 1l-1-1-1 1l-1-1v-2zm16 0h2l1 1 1-1l1 1v2l-1 1l-1-1-1 1l-1-1-1 1l-1-1v-2zm12 0l1 1v2l-1 1l-1-1v-2zm36 0l1 1v2l-1 1l-1-1v-2zm14 0l1 1v2l-1 1l-1-1v-2zm6 0l1 1 1-1l1 1v2l-1 1l-1-1-1 1l-1-1v-2zm6 0l1 1v2l-1 1l-1-1v-2zm4 0h2l1 1v2l-1 1h-2l-1-1v-2zm6 0l1 1v2l-1 1l-1-1v-2zm-191 3l1 1v2l-1 1l-1-1v-2zm28 0h4l1 1v2l-1 1h-4l-1-1v-2zm8 0l1 1 1-1l1 1 1-1l1 1v2l-1 1h-4l-1-1v-2zm8 0h2l1 1 1-1h4l1 1 1-1h2l1 1 1-1l1 1v2l-1 1l-1-1-1 1h-10l-1-1-1 1l-1-1v-2zm20 0l1 1v2l-1 1l-1-1v-2zm4 0l1 1v2l-1 1l-1-1v-2zm4 0l1 1v2l-1 1l-1-1v-2zm8 0l1 1v2l-1 1l-1-1v-2zm16 0l1 1v2l-1 1l-1-1v-2zm4 0l1 1v2l-1 1l-1-1v-2zm12 0l1 1v2l-1 1l-1-1v-2zm10 0l1 1 1-1l1 1v2l-1 1l-1-1-1 1l-1-1v-2zm8 0l1 1v2l-1 1l-1-1v-2zm8 0l1 1v2l-1 1l-1-1v-2zm12 0l1 1v2l-1 1l-1-1v-2zm6 0l1 1v2l-1 1l-1-1v-2zm4 0l1 1v2l-1 1l-1-1v-2zm14 0l1 1v2l-1 1l-1-1v-2zm4 0l1 1v2l-1 1l-1-1v-2zm4 0l1 1 1-1h4l1 1v2l-1 1l-1-1-1 1h-2l-1-1-1 1l-1-1v-2zm-175 3l1 1 1-1l1 1v2l-1 1l-1-1-1 1l-1-1v-2zm8 0l1 1v2l-1 1l-1-1v-2zm4 0l1 1 1-1l1 1v2l-1 1h-2l-1-1v-2zm6 0l1 1v2l-1 1l-1-1v-2zm4 0h2l1 1v2l-1 1h-2l-1-1v-2zm8 0h4l1 1 1-1l1 1v2l-1 1h-6l-1-1v-2zm10 0h8l1 1v2l-1 1h-8l-1-1v-2zm14 0l1 1v2l-1 1l-1-1v-2zm6 0l1 1v2l-1 1l-1-1v-2zm10 0l1 1v2l-1 1l-1-1v-2zm6 0l1 1v2l-1 1l-1-1v-2zm24 0l1 1v2l-1 1l-1-1v-2zm6 0l1 1v2l-1 1l-1-1v-2zm14 0l1 1v2l-1 1l-1-1v-2zm26 0l1 1v2l-1 1l-1-1v-2zm4 0l1 1v2l-1 1l-1-1v-2zm20 0h2l1 1 1-1l1 1v2l-1 1h-4l-1-1v-2zm8 0l1 1v2l-1 1l-1-1v-2zm-187 3l1 1v2l-1 1l-1-1v-2zm22 0h2l1 1v2l-1 1l-1-1-1 1l-1-1v-2zm6 0l1 1 1-1h2l1 1v2l-1 1h-4l-1-1v-2zm8 0l1 1 1-1h8l1 1 1-1h10l1 1v2l-1 1h-22l-1-1v-2zm26 0l1 1v2l-1 1l-1-1v-2zm6 0h2l1 1 1-1l1 1 1-1l1 1 1-1l1 1 1-1h2l1 1v2l-1 1h-6l-1-1-1 1h-4l-1-1v-2zm18 0l1 1v2l-1 1l-1-1v-2zm4 0l1 1v2l-1 1l-1-1v-2zm8 0l1 1v2l-1 1l-1-1v-2zm10 0l1 1v2l-1 1l-1-1v-2zm6 0l1 1v2l-1 1l-1-1v-2zm6 0l1 1 1-1l1 1 1-1l1 1v2l-1 1l-1-1-1 1l-1-1-1 1l-1-1v-2zm10 0l1 1v2l-1 1l-1-1v-2zm4 0l1 1v2l-1 1l-1-1v-2zm8 0l1 1 1-1l1 1v2l-1 1h-2l-1-1v-2zm12 0h2l1 1 1-1l1 1v2l-1 1h-4l-1-1v-2zm8 0l1 1v2l-1 1l-1-1v-2zm4 0l1 1 1-1l1 1 1-1l1 1 1-1l1 1 1-1l1 1v2l-1 1h-8l-1-1v-2zm12 0h6l1 1 1-1l1 1v2l-1 1h-2l-1-1-1 1l-1-1-1 1h-2l-1-1v-2zm-187 3l1 1v2l-1 1l-1-1v-2zm10 0l1 1 1-1l1 1v2l-1 1l-1-1-1 1l-1-1v-2zm6 0l1 1v2l-1 1l-1-1v-2zm4 0l1 1 1-1l1 1v2l-1 1h-2l-1-1v-2zm6 0l1 1v2l-1 1l-1-1v-2zm4 0l1 1v2l-1 1l-1-1v-2zm4 0l1 1 1-1h6l1 1 1-1h24l1 1 1-1l1 1v2l-1 1h-36l-1-1v-2zm42 0h4l1 1v2l-1 1h-4l-1-1v-2zm8 0h6l1 1v2l-1 1h-6l-1-1v-2zm10 0h2l1 1v2l-1 1h-2l-1-1v-2zm6 0l1 1 1-1l1 1 1-1l1 1v2l-1 1l-1-1-1 1h-2l-1-1v-2zm8 0l1 1v2l-1 1l-1-1v-2zm6 0l1 1v2l-1 1l-1-1v-2zm6 0l1 1 1-1l1 1v2l-1 1l-1-1-1 1l-1-1v-2zm6 0l1 1 1-1l1 1v2l-1 1l-1-1-1 1l-1-1v-2zm8 0l1 1 1-1l1 1 1-1h2l1 1 1-1l1 1v2l-1 1h-8l-1-1v-2zm12 0l1 1v2l-1 1l-1-1v-2zm4 0h2l1 1v2l-1 1h-2l-1-1v-2zm8 0l1 1 1-1l1 1 1-1h6l1 1v2l-1 1l-1-1-1 1h-8l-1-1v-2zm16 0h10l1 1 1-1h2l1 1v2l-1 1h-14l-1-1v-2zm20 0l1 1v2l-1 1l-1-1v-2zm-203 3l1 1v2l-1 1l-1-1v-2zm4 0l1 1v2l-1 1l-1-1v-2zm4 0h2l1 1v2l-1 1l-1-1-1 1l-1-1v-2zm10 0l1 1v2l-1 1l-1-1v-2zm6 0h2l1 1 1-1h4l1 1v2l-1 1h-4l-1-1-1 1h-2l-1-1v-2zm12 0l1 1 1-1h2l1 1 1-1h38l1 1 1-1l1 1 1-1h4l1 1v2l-1 1h-52l-1-1v-2zm58 0h4l1 1v2l-1 1h-4l-1-1v-2zm10 0h2l1 1 1-1h2l1 1v2l-1 1h-6l-1-1v-2zm12 0h2l1 1 1-1l1 1 1-1l1 1v2l-1 1h-6l-1-1v-2zm10 0l1 1 1-1l1 1v2l-1 1l-1-1-1 1l-1-1v-2zm6 0l1 1v2l-1 1l-1-1v-2zm6 0l1 1v2l-1 1l-1-1v-2zm6 0h8l1 1 1-1h2l1 1 1-1h2l1 1v2l-1 1l-1-1-1 1l-1-1-1 1h-12l-1-1v-2zm22 0h8l1 1v2l-1 1h-2l-1-1-1 1h-4l-1-1v-2zm12 0l1 1 1-1l1 1 1-1h16l1 1 1-1l1 1v2l-1 1l-1-1-1 1h-16l-1-1-1 1h-2l-1-1v-2zm-175 3l1 1v2l-1 1l-1-1v-2zm10 0l1 1v2l-1 1l-1-1v-2zm4 0l1 1v2l-1 1l-1-1v-2zm6 0h2l1 1v2l-1 1h-2l-1-1v-2zm6 0h2l1 1v2l-1 1h-2l-1-1v-2zm6 0h54l1 1 1-1l1 1 1-1h6l1 1 1-1l1 1 1-1h8l1 1 1-1l1 1 1-1h6l1 1v2l-1 1h-8l-1-1-1 1h-6l-1-1-1 1h-8l-1-1-1 1h-58l-1-1v-2zm90 0l1 1v2l-1 1l-1-1v-2zm4 0l1 1 1-1h2l1 1 1-1l1 1 1-1h2l1 1 1-1l1 1 1-1h12l1 1v2l-1 1h-26l-1-1v-2zm32 0l1 1 1-1l1 1 1-1h4l1 1v2l-1 1h-8l-1-1v-2zm12 0l1 1v2l-1 1l-1-1v-2zm4 0h2l1 1v2l-1 1h-2l-1-1v-2zm6 0h14l1 1v2l-1 1h-14l-1-1v-2zm-177 3l1 1 1-1l1 1v2l-1 1l-1-1-1 1l-1-1v-2zm8 0l1 1v2l-1 1l-1-1v-2zm4 0l1 1 1-1l1 1 1-1h4l1 1 1-1h4l1 1 1-1h58l1 1v2l-1 1h-74l-1-1v-2zm78 0h6l1 1v2l-1 1l-1-1-1 1h-4l-1-1v-2zm10 0h4l1 1v2l-1 1h-4l-1-1v-2zm8 0h8l1 1v2l-1 1h-8l-1-1v-2zm12 0l1 1 1-1h28l1 1 1-1l1 1 1-1h10l1 1 1-1h2l1 1 1-1h4l1 1 1-1h14l1 1v2l-1 1l-1-1-1 1h-22l-1-1-1 1h-14l-1-1-1 1h-28l-1-1v-2zm-123 3l1 1 1-1l1 1v2l-1 1l-1-1-1 1l-1-1v-2zm6 0l1 1v2l-1 1l-1-1v-2zm4 0l1 1v2l-1 1l-1-1v-2zm4 0h76l1 1 1-1h4l1 1v2l-1 1h-82l-1-1v-2zm86 0l1 1 1-1h6l1 1 1-1h10l1 1 1-1h28l1 1v2l-1 1h-50l-1-1v-2zm54 0h12l1 1v2l-1 1h-12l-1-1v-2zm16 0h20l1 1v2l-1 1h-20l-1-1v-2zm-161 3l1 1v2l-1 1l-1-1v-2zm4 0h84l1 1 1-1h52l1 1 1-1h14l1 1 1-1h20l1 1v2l-1 1l-1-1-1 1h-174l-1-1v-2zm-11 3l1 1 1-1l1 1 1-1l1 1v2l-1 1l-1-1-1 1l-1-1-1 1l-1-1v-2zm10 0h174l1 1v2l-1 1h-174l-1-1v-2zm-15 3l1 1v2l-1 1l-1-1v-2zm4 0l1 1v2l-1 1l-1-1v-2zm6 0l1 1v2l-1 1l-1-1v-2zm6 0h172l1 1v2l-1 1l-1-1-1 1h-170l-1-1v-2zm-15 3l1 1 1-1l1 1v2l-1 1l-1-1-1 1l-1-1v-2zm8 0h2l1 1 1-1l1 1 1-1h170l1 1v2l-1 1h-176l-1-1v-2zm-3 3l1 1 1-1h176l1 1v2l-1 1l-1-1-1 1h-164l-1-1-1 1h-10l-1-1v-2zm-5 3l1 1v2l-1 1l-1-1v-2zm4 0h10l1 1v2l-1 1h-6l-1-1-1 1h-2l-1-1v-2zm14 0h162l1 1v2l-1 1h-162l-1-1v-2zm-17 3l1 1v2l-1 1l-1-1v-2zm4 0l1 1v2l-1 1l-1-1v-2zm4 0h6l1 1 1-1h162l1 1v2l-1 1l-1-1-1 1h-168l-1-1v-2zm-3 3l1 1 1-1h168l1 1v2l-1 1l-1-1-1 1h-158l-1-1-1 1h-2l-1-1-1 1h-2l-1-1-1 1l-1-1v-2zm-7 3l1 1 1-1l1 1 1-1l1 1v2l-1 1l-1-1-1 1l-1-1-1 1l-1-1v-2zm10 0l1 1v2l-1 1l-1-1v-2zm4 0l1 1v2l-1 1l-1-1v-2zm4 0h156l1 1v2l-1 1h-36l-1-1-1 1h-118l-1-1v-2zm-13 3l1 1 1-1l1 1 1-1h2l1 1 1-1h2l1 1 1-1h118l1 1v2l-1 1h-22l-1-1-1 1h-100l-1-1-1 1h-2l-1-1-1 1l-1-1v-2zm134 0h34l1 1v2l-1 1l-1-1-1 1h-32l-1-1v-2zm-131 3l1 1v2l-1 1l-1-1v-2zm4 0h98l1 1v2l-1 1h-72l-1-1-1 1h-24l-1-1v-2zm102 0h22l1 1 1-1h32l1 1v2l-1 1h-16l-1-1-1 1h-12l-1-1-1 1h-2l-1-1-1 1h-4l-1-1-1 1h-12l-1-1-1 1l-1-1v-2zm-105 3l1 1 1-1h24l1 1v2l-1 1h-6l-1-1-1 1h-10l-1-1-1 1l-1-1-1 1l-1-1-1 1l-1-1-1 1l-1-1v-2zm30 0h72l1 1 1-1l1 1v2l-1 1h-2l-1-1-1 1l-1-1-1 1h-4l-1-1-1 1h-2l-1-1-1 1h-58l-1-1v-2zm78 0h10l1 1v2l-1 1l-1-1-1 1h-4l-1-1-1 1l-1-1-1 1l-1-1v-2zm14 0h2l1 1v2l-1 1h-2l-1-1v-2zm6 0l1 1v2l-1 1l-1-1v-2zm4 0h10l1 1v2l-1 1h-10l-1-1v-2zm14 0h14l1 1v2l-1 1l-1-1-1 1h-6l-1-1-1 1h-4l-1-1v-2zm-151 3l1 1 1-1l1 1v2l-1 1l-1-1-1 1l-1-1v-2zm14 0h8l1 1v2l-1 1l-1-1-1 1l-1-1-1 1h-4l-1-1v-2zm12 0h6l1 1 1-1h58l1 1v2l-1 1h-2l-1-1-1 1h-4l-1-1-1 1h-54l-1-1-1 1l-1-1v-2zm70 0l1 1v2l-1 1l-1-1v-2zm4 0h2l1 1v2l-1 1h-2l-1-1v-2zm8 0h2l1 1v2l-1 1l-1-1-1 1l-1-1v-2zm10 0h2l1 1v2l-1 1l-1-1-1 1l-1-1v-2zm6 0l1 1 1-1h2l1 1v2l-1 1h-2l-1-1-1 1l-1-1v-2zm8 0h2l1 1 1-1h12l1 1 1-1h4l1 1v2l-1 1h-2l-1-1-1 1l-1-1-1 1h-4l-1-1-1 1l-1-1-1 1l-1-1-1 1h-4l-1-1-1 1l-1-1v-2zm26 0h4l1 1v2l-1 1h-4l-1-1v-2zm-145 3h4l1 1v2l-1 1l-1-1-1 1l-1-1-1 1l-1-1v-2zm12 0l1 1v2l-1 1l-1-1v-2zm4 0h52l1 1v2l-1 1l-1-1-1 1l-1-1-1 1h-44l-1-1-1 1h-2l-1-1v-2zm56 0h2l1 1v2l-1 1h-2l-1-1v-2zm6 0h2l1 1v2l-1 1l-1-1-1 1l-1-1v-2zm10 0l1 1v2l-1 1l-1-1v-2zm4 0l1 1 1-1l1 1v2l-1 1l-1-1-1 1l-1-1v-2zm6 0l1 1v2l-1 1l-1-1v-2zm6 0l1 1v2l-1 1l-1-1v-2zm10 0h2l1 1v2l-1 1h-2l-1-1v-2zm8 0h2l1 1v2l-1 1h-2l-1-1v-2zm10 0h2l1 1v2l-1 1h-2l-1-1v-2zm8 0h2l1 1 1-1h4l1 1v2l-1 1l-1-1-1 1h-6l-1-1v-2zm-147 3l1 1v2l-1 1l-1-1v-2zm14 0l1 1v2l-1 1l-1-1v-2zm4 0l1 1v2l-1 1l-1-1v-2zm4 0h2l1 1v2l-1 1h-2l-1-1v-2zm6 0h42l1 1v2l-1 1h-42l-1-1v-2zm48 0l1 1 1-1h4l1 1v2l-1 1h-2l-1-1-1 1l-1-1-1 1l-1-1v-2zm20 0l1 1v2l-1 1l-1-1v-2zm8 0l1 1v2l-1 1l-1-1v-2zm18 0l1 1v2l-1 1l-1-1v-2zm8 0l1 1v2l-1 1l-1-1v-2zm6 0l1 1 1-1h2l1 1v2l-1 1h-4l-1-1v-2zm8 0l1 1 1-1h6l1 1v2l-1 1h-8l-1-1v-2zm-151 3l1 1v2l-1 1l-1-1v-2zm8 0l1 1v2l-1 1l-1-1v-2zm6 0l1 1v2l-1 1l-1-1v-2zm6 0l1 1v2l-1 1l-1-1v-2zm10 0l1 1v2l-1 1l-1-1v-2zm6 0h42l1 1v2l-1 1l-1-1-1 1h-2l-1-1-1 1h-26l-1-1-1 1h-6l-1-1-1 1l-1-1v-2zm52 0h2l1 1 1-1l1 1v2l-1 1l-1-1-1 1h-2l-1-1v-2zm14 0l1 1v2l-1 1l-1-1v-2zm12 0l1 1v2l-1 1l-1-1v-2zm4 0l1 1v2l-1 1l-1-1v-2zm16 0l1 1 1-1l1 1v2l-1 1l-1-1-1 1l-1-1v-2zm10 0h4l1 1 1-1h8l1 1v2l-1 1l-1-1-1 1h-12l-1-1v-2zm-143 3l1 1v2l-1 1l-1-1v-2zm12 0l1 1v2l-1 1l-1-1v-2zm8 0l1 1v2l-1 1l-1-1v-2zm6 0l1 1 1-1l1 1v2l-1 1h-2l-1-1v-2zm8 0l1 1v2l-1 1l-1-1v-2zm4 0h4l1 1v2l-1 1l-1-1-1 1h-2l-1-1v-2zm8 0h24l1 1v2l-1 1h-22l-1-1-1 1l-1-1v-2zm28 0l1 1v2l-1 1l-1-1v-2zm6 0l1 1v2l-1 1l-1-1v-2zm8 0l1 1v2l-1 1l-1-1v-2zm6 0l1 1 1-1l1 1v2l-1 1l-1-1-1 1l-1-1v-2zm16 0l1 1v2l-1 1l-1-1v-2zm4 0l1 1v2l-1 1l-1-1v-2zm14 0l1 1v2l-1 1l-1-1v-2zm16 0h10l1 1v2l-1 1h-10l-1-1v-2zm-135 3l1 1 1-1h2l1 1v2l-1 1l-1-1-1 1h-2l-1-1v-2zm8 0l1 1v2l-1 1l-1-1v-2zm4 0l1 1v2l-1 1l-1-1v-2zm6 0l1 1v2l-1 1l-1-1v-2zm6 0l1 1v2l-1 1l-1-1v-2zm6 0l1 1v2l-1 1l-1-1v-2zm4 0l1 1 1-1l1 1v2l-1 1l-1-1-1 1l-1-1v-2zm6 0h20l1 1v2l-1 1h-20l-1-1v-2zm24 0l1 1v2l-1 1l-1-1v-2zm6 0h2l1 1v2l-1 1h-2l-1-1v-2zm10 0l1 1v2l-1 1l-1-1v-2zm24 0l1 1v2l-1 1l-1-1v-2zm10 0l1 1v2l-1 1l-1-1v-2zm16 0l1 1v2l-1 1l-1-1v-2zm6 0h8l1 1v2l-1 1l-1-1-1 1h-6l-1-1v-2zm-135 3l1 1v2l-1 1l-1-1v-2zm6 0l1 1v2l-1 1l-1-1v-2zm14 0l1 1v2l-1 1l-1-1v-2zm18 0h22l1 1v2l-1 1l-1-1-1 1l-1-1-1 1h-12l-1-1-1 1h-4l-1-1v-2zm26 0l1 1v2l-1 1l-1-1v-2zm4 0h2l1 1v2l-1 1h-2l-1-1v-2zm36 0l1 1 1-1l1 1v2l-1 1l-1-1-1 1l-1-1v-2zm24 0h2l1 1 1-1l1 1 1-1h6l1 1v2l-1 1h-8l-1-1-1 1l-1-1-1 1l-1-1v-2zm-127 3l1 1v2l-1 1l-1-1v-2zm4 0l1 1v2l-1 1l-1-1v-2zm6 0l1 1v2l-1 1l-1-1v-2zm4 0l1 1v2l-1 1l-1-1v-2zm6 0l1 1v2l-1 1l-1-1v-2zm4 0l1 1v2l-1 1l-1-1v-2zm6 0l1 1v2l-1 1l-1-1v-2zm4 0l1 1v2l-1 1l-1-1v-2zm4 0h2l1 1v2l-1 1h-2l-1-1v-2zm6 0h10l1 1v2l-1 1h-8l-1-1-1 1l-1-1v-2zm16 0l1 1 1-1l1 1v2l-1 1l-1-1-1 1l-1-1v-2zm6 0h2l1 1v2l-1 1h-2l-1-1v-2zm6 0l1 1v2l-1 1l-1-1v-2zm44 0l1 1v2l-1 1l-1-1v-2zm10 0l1 1v2l-1 1l-1-1v-2zm6 0h6l1 1v2l-1 1l-1-1-1 1h-4l-1-1v-2zm-129 3l1 1v2l-1 1l-1-1v-2zm24 0l1 1v2l-1 1l-1-1v-2zm6 0h2l1 1 1-1h4l1 1v2l-1 1l-1-1-1 1l-1-1-1 1l-1-1-1 1h-2l-1-1v-2zm14 0h8l1 1 1-1l1 1 1-1l1 1v2l-1 1l-1-1-1 1l-1-1-1 1h-6l-1-1-1 1l-1-1v-2zm18 0h2l1 1v2l-1 1h-2l-1-1v-2zm14 0l1 1v2l-1 1l-1-1v-2zm4 0l1 1v2l-1 1l-1-1v-2zm40 0l1 1v2l-1 1l-1-1v-2zm8 0h4l1 1v2l-1 1l-1-1-1 1h-2l-1-1v-2zm-139 3l1 1v2l-1 1l-1-1v-2zm6 0l1 1v2l-1 1l-1-1v-2zm24 0l1 1v2l-1 1l-1-1v-2zm6 0l1 1v2l-1 1l-1-1v-2zm4 0h2l1 1v2l-1 1h-2l-1-1v-2zm14 0l1 1v2l-1 1l-1-1v-2zm4 0h4l1 1v2l-1 1h-2l-1-1-1 1l-1-1v-2zm16 0l1 1v2l-1 1l-1-1v-2zm4 0l1 1v2l-1 1l-1-1v-2zm16 0l1 1v2l-1 1l-1-1v-2zm10 0l1 1 1-1l1 1v2l-1 1l-1-1-1 1l-1-1v-2zm10 0l1 1v2l-1 1l-1-1v-2zm6 0l1 1v2l-1 1l-1-1v-2zm6 0l1 1 1-1l1 1v2l-1 1l-1-1-1 1l-1-1v-2zm6 0l1 1 1-1l1 1 1-1l1 1 1-1h2l1 1v2l-1 1h-8l-1-1v-2zm-115 3l1 1v2l-1 1l-1-1v-2zm14 0l1 1v2l-1 1l-1-1v-2zm4 0h2l1 1v2l-1 1h-2l-1-1v-2zm6 0l1 1v2l-1 1l-1-1v-2zm8 0l1 1 1-1l1 1 1-1l1 1v2l-1 1h-4l-1-1v-2zm8 0l1 1v2l-1 1l-1-1v-2zm4 0l1 1v2l-1 1l-1-1v-2zm4 0l1 1v2l-1 1l-1-1v-2zm4 0l1 1 1-1l1 1 1-1l1 1v2l-1 1h-4l-1-1v-2zm10 0l1 1v2l-1 1l-1-1v-2zm6 0l1 1v2l-1 1l-1-1v-2zm18 0l1 1v2l-1 1l-1-1v-2zm30 0h6l1 1v2l-1 1l-1-1-1 1h-4l-1-1v-2zm-113 3l1 1v2l-1 1l-1-1v-2zm4 0l1 1 1-1l1 1v2l-1 1h-2l-1-1v-2zm10 0h4l1 1 1-1l1 1v2l-1 1h-4l-1-1-1 1l-1-1v-2zm12 0l1 1v2l-1 1l-1-1v-2zm4 0h4l1 1 1-1h2l1 1v2l-1 1h-2l-1-1-1 1h-4l-1-1v-2zm12 0l1 1 1-1h2l1 1 1-1h4l1 1v2l-1 1l-1-1-1 1h-4l-1-1-1 1l-1-1-1 1l-1-1v-2zm14 0l1 1v2l-1 1l-1-1v-2zm24 0l1 1v2l-1 1l-1-1v-2zm18 0l1 1v2l-1 1l-1-1v-2zm12 0l1 1 1-1h4l1 1v2l-1 1h-6l-1-1v-2zm-105 3l1 1v2l-1 1l-1-1v-2zm4 0l1 1v2l-1 1l-1-1v-2zm8 0h2l1 1v2l-1 1h-2l-1-1v-2zm10 0l1 1 1-1h4l1 1v2l-1 1h-4l-1-1-1 1l-1-1v-2zm10 0h2l1 1 1-1l1 1v2l-1 1l-1-1-1 1l-1-1-1 1l-1-1v-2zm10 0h2l1 1v2l-1 1h-2l-1-1v-2zm12 0l1 1v2l-1 1l-1-1v-2zm4 0l1 1v2l-1 1l-1-1v-2zm18 0l1 1v2l-1 1l-1-1v-2zm6 0l1 1v2l-1 1l-1-1v-2zm22 0h6l1 1v2l-1 1l-1-1-1 1h-4l-1-1v-2zm-105 3l1 1v2l-1 1l-1-1v-2zm6 0l1 1v2l-1 1l-1-1v-2zm4 0l1 1v2l-1 1l-1-1v-2zm4 0l1 1v2l-1 1l-1-1v-2zm4 0l1 1 1-1l1 1 1-1l1 1v2l-1 1l-1-1-1 1h-2l-1-1v-2zm8 0h2l1 1v2l-1 1h-2l-1-1v-2zm16 0h2l1 1v2l-1 1l-1-1-1 1l-1-1v-2zm12 0l1 1v2l-1 1l-1-1v-2zm16 0l1 1v2l-1 1l-1-1v-2zm6 0h2l1 1 1-1l1 1v2l-1 1l-1-1-1 1l-1-1-1 1l-1-1v-2zm12 0l1 1v2l-1 1l-1-1v-2zm10 0l1 1 1-1l1 1 1-1l1 1v2l-1 1h-2l-1-1-1 1l-1-1v-2zm8 0h2l1 1v2l-1 1h-2l-1-1v-2zm-135 3l1 1 1-1l1 1 1-1l1 1 1-1l1 1v2l-1 1l-1-1-1 1l-1-1-1 1h-2l-1-1v-2zm12 0l1 1v2l-1 1l-1-1v-2zm4 0l1 1v2l-1 1l-1-1v-2zm6 0l1 1v2l-1 1l-1-1v-2zm10 0l1 1v2l-1 1l-1-1v-2zm10 0h2l1 1v2l-1 1h-2l-1-1v-2zm6 0l1 1v2l-1 1l-1-1v-2zm8 0h2l1 1 1-1l1 1 1-1l1 1 1-1l1 1 1-1l1 1v2l-1 1h-4l-1-1-1 1l-1-1-1 1h-2l-1-1v-2zm14 0l1 1v2l-1 1l-1-1v-2zm22 0l1 1v2l-1 1l-1-1v-2zm12 0l1 1v2l-1 1l-1-1v-2zm26 0l1 1v2l-1 1l-1-1v-2zm4 0h2l1 1v2l-1 1l-1-1-1 1l-1-1v-2zm-133 3l1 1v2l-1 1l-1-1v-2zm32 0l1 1v2l-1 1l-1-1v-2zm8 0h2l1 1v2l-1 1h-2l-1-1v-2zm6 0h2l1 1 1-1l1 1 1-1l1 1 1-1h2l1 1v2l-1 1l-1-1-1 1l-1-1-1 1h-4l-1-1-1 1l-1-1v-2zm16 0h2l1 1v2l-1 1h-2l-1-1v-2zm6 0h2l1 1v2l-1 1h-2l-1-1v-2zm6 0l1 1v2l-1 1l-1-1v-2zm8 0l1 1v2l-1 1l-1-1v-2zm12 0l1 1v2l-1 1l-1-1v-2zm14 0l1 1 1-1l1 1v2l-1 1l-1-1-1 1l-1-1v-2zm10 0l1 1v2l-1 1l-1-1v-2zm8 0l1 1 1-1h2l1 1 1-1l1 1v2l-1 1h-4l-1-1-1 1l-1-1v-2zm-105 3l1 1v2l-1 1l-1-1v-2zm6 0l1 1v2l-1 1l-1-1v-2zm4 0l1 1v2l-1 1l-1-1v-2zm8 0h2l1 1v2l-1 1l-1-1-1 1l-1-1v-2zm10 0h2l1 1v2l-1 1l-1-1-1 1l-1-1v-2zm10 0l1 1 1-1h2l1 1v2l-1 1h-4l-1-1v-2zm10 0l1 1v2l-1 1l-1-1v-2zm6 0l1 1v2l-1 1l-1-1v-2zm12 0l1 1 1-1l1 1v2l-1 1l-1-1-1 1l-1-1v-2zm8 0l1 1v2l-1 1l-1-1v-2zm10 0l1 1v2l-1 1l-1-1v-2zm8 0l1 1 1-1l1 1v2l-1 1l-1-1-1 1l-1-1v-2zm8 0l1 1v2l-1 1l-1-1v-2zm4 0l1 1v2l-1 1l-1-1v-2zm4 0h2l1 1v2l-1 1l-1-1-1 1l-1-1v-2zm-121 3l1 1v2l-1 1l-1-1v-2zm20 0l1 1 1-1l1 1v2l-1 1l-1-1-1 1l-1-1v-2zm6 0l1 1v2l-1 1l-1-1v-2zm4 0l1 1v2l-1 1l-1-1v-2zm6 0l1 1 1-1l1 1v2l-1 1h-2l-1-1v-2zm8 0l1 1 1-1l1 1 1-1l1 1 1-1h6l1 1v2l-1 1h-2l-1-1-1 1h-8l-1-1v-2zm20 0l1 1v2l-1 1l-1-1v-2zm4 0l1 1v2l-1 1l-1-1v-2zm4 0l1 1v2l-1 1l-1-1v-2zm14 0l1 1v2l-1 1l-1-1v-2zm14 0l1 1 1-1l1 1v2l-1 1l-1-1-1 1l-1-1v-2zm8 0l1 1v2l-1 1l-1-1v-2zm6 0l1 1 1-1h2l1 1 1-1l1 1v2l-1 1h-6l-1-1v-2zm-87 3l1 1v2l-1 1l-1-1v-2zm6 0l1 1v2l-1 1l-1-1v-2zm4 0l1 1v2l-1 1l-1-1v-2zm4 0l1 1 1-1h8l1 1v2l-1 1l-1-1-1 1h-8l-1-1v-2zm14 0h2l1 1 1-1l1 1 1-1l1 1 1-1l1 1v2l-1 1h-8l-1-1v-2zm40 0l1 1v2l-1 1l-1-1v-2zm4 0l1 1v2l-1 1l-1-1v-2zm10 0l1 1 1-1l1 1v2l-1 1h-2l-1-1v-2zm6 0h4l1 1v2l-1 1l-1-1-1 1h-2l-1-1v-2zm-103 3l1 1v2l-1 1l-1-1v-2zm6 0l1 1v2l-1 1l-1-1v-2zm10 0l1 1v2l-1 1l-1-1v-2zm12 0h8l1 1v2l-1 1l-1-1-1 1l-1-1-1 1l-1-1-1 1h-2l-1-1v-2zm16 0h6l1 1v2l-1 1l-1-1-1 1h-2l-1-1-1 1l-1-1v-2zm14 0l1 1v2l-1 1l-1-1v-2zm4 0l1 1v2l-1 1l-1-1v-2zm4 0l1 1v2l-1 1l-1-1v-2zm4 0l1 1v2l-1 1l-1-1v-2zm10 0l1 1v2l-1 1l-1-1v-2zm4 0l1 1v2l-1 1l-1-1v-2zm8 0l1 1v2l-1 1l-1-1v-2zm6 0h2l1 1 1-1h2l1 1v2l-1 1l-1-1-1 1h-4l-1-1v-2zm-99 3h2l1 1v2l-1 1l-1-1-1 1l-1-1v-2zm10 0l1 1v2l-1 1l-1-1v-2zm4 0l1 1v2l-1 1l-1-1v-2zm6 0l1 1 1-1l1 1v2l-1 1l-1-1-1 1l-1-1v-2zm10 0l1 1v2l-1 1l-1-1v-2zm10 0l1 1 1-1l1 1 1-1l1 1v2l-1 1l-1-1-1 1l-1-1-1 1l-1-1v-2zm8 0l1 1v2l-1 1l-1-1v-2zm4 0l1 1v2l-1 1l-1-1v-2zm12 0l1 1 1-1l1 1v2l-1 1l-1-1-1 1l-1-1v-2zm8 0l1 1 1-1l1 1v2l-1 1l-1-1-1 1l-1-1v-2zm16 0l1 1v2l-1 1l-1-1v-2zm6 0l1 1v2l-1 1l-1-1v-2zm4 0h4l1 1v2l-1 1h-4l-1-1v-2zm-117 3l1 1v2l-1 1l-1-1v-2zm16 0l1 1v2l-1 1l-1-1v-2zm12 0l1 1v2l-1 1l-1-1v-2zm4 0l1 1v2l-1 1l-1-1v-2zm22 0l1 1 1-1l1 1v2l-1 1l-1-1-1 1l-1-1v-2zm20 0l1 1v2l-1 1l-1-1v-2zm6 0l1 1 1-1l1 1v2l-1 1l-1-1-1 1l-1-1v-2zm14 0l1 1v2l-1 1l-1-1v-2zm10 0l1 1v2l-1 1l-1-1v-2zm4 0l1 1v2l-1 1l-1-1v-2zm4 0l1 1v2l-1 1l-1-1v-2zm6 0h2l1 1v2l-1 1l-1-1-1 1l-1-1v-2zm-117 3l1 1v2l-1 1l-1-1v-2zm24 0l1 1v2l-1 1l-1-1v-2zm4 0l1 1v2l-1 1l-1-1v-2zm6 0l1 1 1-1l1 1v2l-1 1h-2l-1-1v-2zm6 0l1 1v2l-1 1l-1-1v-2zm4 0l1 1 1-1l1 1v2l-1 1l-1-1-1 1l-1-1v-2zm12 0l1 1 1-1l1 1 1-1l1 1 1-1l1 1v2l-1 1h-6l-1-1v-2zm10 0l1 1 1-1l1 1 1-1l1 1v2l-1 1h-2l-1-1-1 1l-1-1v-2zm8 0l1 1v2l-1 1l-1-1v-2zm30 0l1 1 1-1h2l1 1v2l-1 1l-1-1-1 1l-1-1-1 1l-1-1v-2zm8 0l1 1 1-1l1 1 1-1l1 1v2l-1 1h-4l-1-1v-2zm-91 3l1 1 1-1l1 1v2l-1 1l-1-1-1 1l-1-1v-2zm14 0l1 1v2l-1 1l-1-1v-2zm6 0l1 1 1-1l1 1v2l-1 1h-2l-1-1v-2zm8 0l1 1v2l-1 1l-1-1v-2zm4 0l1 1v2l-1 1l-1-1v-2zm4 0h4l1 1v2l-1 1l-1-1-1 1h-2l-1-1v-2zm8 0l1 1v2l-1 1l-1-1v-2zm4 0l1 1v2l-1 1l-1-1v-2zm4 0l1 1v2l-1 1l-1-1v-2zm10 0l1 1v2l-1 1l-1-1v-2zm30 0h2l1 1v2l-1 1l-1-1-1 1l-1-1v-2zm-93 3l1 1v2l-1 1l-1-1v-2zm10 0l1 1v2l-1 1l-1-1v-2zm6 0l1 1 1-1l1 1v2l-1 1l-1-1-1 1l-1-1v-2zm6 0h2l1 1 1-1l1 1 1-1h2l1 1 1-1l1 1v2l-1 1h-2l-1-1-1 1h-6l-1-1v-2zm14 0h2l1 1v2l-1 1h-2l-1-1v-2zm6 0l1 1v2l-1 1l-1-1v-2zm4 0l1 1 1-1h2l1 1 1-1h2l1 1 1-1l1 1 1-1l1 1 1-1l1 1v2l-1 1l-1-1-1 1l-1-1-1 1h-2l-1-1-1 1l-1-1-1 1l-1-1-1 1h-2l-1-1v-2zm24 0l1 1v2l-1 1l-1-1v-2zm20 0l1 1 1-1l1 1v2l-1 1h-2l-1-1v-2zm-107 3l1 1v2l-1 1l-1-1v-2zm8 0l1 1v2l-1 1l-1-1v-2zm22 0l1 1 1-1l1 1v2l-1 1l-1-1-1 1l-1-1v-2zm6 0l1 1v2l-1 1l-1-1v-2zm4 0h4l1 1v2l-1 1h-4l-1-1v-2zm8 0l1 1v2l-1 1l-1-1v-2zm4 0h2l1 1v2l-1 1h-2l-1-1v-2zm10 0h2l1 1v2l-1 1h-2l-1-1v-2zm10 0l1 1v2l-1 1l-1-1v-2zm6 0l1 1 1-1l1 1v2l-1 1l-1-1-1 1l-1-1v-2zm12 0l1 1v2l-1 1l-1-1v-2zm16 0h2l1 1v2l-1 1l-1-1-1 1l-1-1v-2zm-113 3l1 1v2l-1 1l-1-1v-2zm10 0l1 1v2l-1 1l-1-1v-2zm12 0l1 1v2l-1 1l-1-1v-2zm8 0l1 1v2l-1 1l-1-1v-2zm16 0h4l1 1v2l-1 1l-1-1-1 1l-1-1-1 1l-1-1v-2zm12 0h4l1 1v2l-1 1h-2l-1-1-1 1l-1-1v-2zm8 0l1 1v2l-1 1l-1-1v-2zm4 0h2l1 1v2l-1 1h-2l-1-1v-2zm6 0l1 1v2l-1 1l-1-1v-2zm18 0l1 1v2l-1 1l-1-1v-2zm6 0l1 1v2l-1 1l-1-1v-2zm8 0l1 1 1-1l1 1 1-1l1 1v2l-1 1h-4l-1-1v-2zm-95 3l1 1v2l-1 1l-1-1v-2zm22 0l1 1v2l-1 1l-1-1v-2zm8 0l1 1v2l-1 1l-1-1v-2zm8 0l1 1v2l-1 1l-1-1v-2zm10 0h2l1 1 1-1h2l1 1 1-1h4l1 1 1-1l1 1v2l-1 1h-2l-1-1-1 1l-1-1-1 1h-4l-1-1-1 1h-2l-1-1v-2zm24 0l1 1v2l-1 1l-1-1v-2zm8 0l1 1v2l-1 1l-1-1v-2zm6 0l1 1v2l-1 1l-1-1v-2zm4 0l1 1 1-1l1 1 1-1h4l1 1v2l-1 1l-1-1-1 1h-6l-1-1v-2zm-59 3l1 1 1-1l1 1v2l-1 1h-2l-1-1v-2zm8 0l1 1 1-1l1 1 1-1l1 1v2l-1 1h-4l-1-1v-2zm8 0h2l1 1v2l-1 1h-2l-1-1v-2zm6 0h2l1 1v2l-1 1h-2l-1-1v-2zm8 0l1 1v2l-1 1l-1-1v-2zm4 0l1 1v2l-1 1l-1-1v-2zm10 0l1 1 1-1l1 1v2l-1 1l-1-1-1 1l-1-1v-2zm10 0h2l1 1v2l-1 1h-2l-1-1v-2zm6 0h4l1 1v2l-1 1h-4l-1-1v-2zm-83 3l1 1v2l-1 1l-1-1v-2zm24 0l1 1v2l-1 1l-1-1v-2zm4 0l1 1v2l-1 1l-1-1v-2zm4 0h2l1 1v2l-1 1l-1-1-1 1l-1-1v-2zm6 0h4l1 1v2l-1 1h-4l-1-1v-2zm8 0h2l1 1v2l-1 1l-1-1-1 1l-1-1v-2zm6 0h2l1 1v2l-1 1l-1-1-1 1l-1-1v-2zm6 0l1 1 1-1l1 1v2l-1 1h-2l-1-1v-2zm8 0l1 1v2l-1 1l-1-1v-2zm8 0l1 1 1-1h2l1 1v2l-1 1h-2l-1-1-1 1l-1-1v-2zm8 0h4l1 1v2l-1 1l-1-1-1 1h-2l-1-1v-2zm-63 3l1 1v2l-1 1l-1-1v-2zm6 0l1 1v2l-1 1l-1-1v-2zm4 0l1 1v2l-1 1l-1-1v-2zm6 0l1 1 1-1h6l1 1v2l-1 1h-2l-1-1-1 1l-1-1-1 1h-2l-1-1v-2zm24 0h2l1 1 1-1l1 1 1-1l1 1v2l-1 1l-1-1-1 1h-4l-1-1v-2zm14 0l1 1v2l-1 1l-1-1v-2zm4 0h2l1 1 1-1h2l1 1v2l-1 1l-1-1-1 1h-4l-1-1v-2zm-71 3l1 1v2l-1 1l-1-1v-2zm8 0l1 1 1-1l1 1v2l-1 1l-1-1-1 1l-1-1v-2zm6 0l1 1v2l-1 1l-1-1v-2zm8 0h2l1 1v2l-1 1h-2l-1-1v-2zm6 0h2l1 1v2l-1 1l-1-1-1 1l-1-1v-2zm8 0h2l1 1 1-1l1 1 1-1l1 1 1-1l1 1v2l-1 1h-8l-1-1v-2zm14 0l1 1v2l-1 1l-1-1v-2zm4 0h2l1 1v2l-1 1h-2l-1-1v-2zm6 0l1 1 1-1l1 1v2l-1 1h-2l-1-1v-2zm6 0l1 1v2l-1 1l-1-1v-2zm6 0h2l1 1v2l-1 1h-2l-1-1v-2zm-99 3l1 1 1-1l1 1v2l-1 1l-1-1-1 1l-1-1v-2zm8 0l1 1v2l-1 1l-1-1v-2zm14 0l1 1v2l-1 1l-1-1v-2zm8 0l1 1 1-1l1 1v2l-1 1l-1-1-1 1l-1-1v-2zm12 0l1 1 1-1l1 1 1-1l1 1v2l-1 1l-1-1-1 1h-2l-1-1v-2zm8 0l1 1v2l-1 1l-1-1v-2zm8 0l1 1v2l-1 1l-1-1v-2zm4 0h10l1 1 1-1l1 1 1-1h2l1 1 1-1h2l1 1v2l-1 1h-4l-1-1-1 1l-1-1-1 1h-12l-1-1v-2zm24 0h2l1 1v2l-1 1h-2l-1-1v-2zm6 0l1 1v2l-1 1l-1-1v-2zm4 0l1 1 1-1h2l1 1v2l-1 1l-1-1-1 1h-2l-1-1v-2zm-67 3l1 1v2l-1 1l-1-1v-2zm4 0l1 1v2l-1 1l-1-1v-2zm4 0l1 1 1-1l1 1v2l-1 1l-1-1-1 1l-1-1v-2zm6 0l1 1v2l-1 1l-1-1v-2zm4 0l1 1 1-1h2l1 1v2l-1 1l-1-1-1 1l-1-1-1 1l-1-1v-2zm10 0l1 1v2l-1 1l-1-1v-2zm4 0h12l1 1v2l-1 1l-1-1-1 1h-2l-1-1-1 1h-2l-1-1-1 1h-2l-1-1v-2zm18 0h2l1 1v2l-1 1h-2l-1-1v-2zm8 0h2l1 1 1-1h2l1 1 1-1h2l1 1v2l-1 1h-10l-1-1v-2zm-77 3l1 1v2l-1 1l-1-1v-2zm26 0l1 1v2l-1 1l-1-1v-2zm6 0l1 1v2l-1 1l-1-1v-2zm4 0l1 1v2l-1 1l-1-1v-2zm8 0l1 1 1-1h2l1 1 1-1h2l1 1v2l-1 1h-2l-1-1-1 1h-2l-1-1-1 1l-1-1v-2zm12 0l1 1v2l-1 1l-1-1v-2zm4 0l1 1v2l-1 1l-1-1v-2zm4 0l1 1v2l-1 1l-1-1v-2zm4 0h4l1 1v2l-1 1h-4l-1-1v-2zm10 0h8l1 1v2l-1 1l-1-1-1 1h-6l-1-1v-2zm-81 3l1 1v2l-1 1l-1-1v-2zm16 0l1 1v2l-1 1l-1-1v-2zm14 0l1 1v2l-1 1l-1-1v-2zm8 0h2l1 1v2l-1 1l-1-1-1 1l-1-1v-2zm6 0l1 1 1-1l1 1v2l-1 1l-1-1-1 1l-1-1v-2zm6 0l1 1v2l-1 1l-1-1v-2zm4 0h2l1 1v2l-1 1h-2l-1-1v-2zm10 0l1 1v2l-1 1l-1-1v-2zm4 0l1 1 1-1h6l1 1 1-1l1 1 1-1h6l1 1v2l-1 1h-18l-1-1v-2zm-69 3l1 1v2l-1 1l-1-1v-2zm10 0l1 1v2l-1 1l-1-1v-2zm4 0l1 1v2l-1 1l-1-1v-2zm8 0l1 1v2l-1 1l-1-1v-2zm6 0l1 1v2l-1 1l-1-1v-2zm10 0l1 1v2l-1 1l-1-1v-2zm6 0l1 1v2l-1 1l-1-1v-2zm8 0l1 1 1-1h4l1 1 1-1l1 1v2l-1 1h-8l-1-1v-2zm16 0h18l1 1v2l-1 1l-1-1-1 1h-16l-1-1v-2zm-57 3l1 1v2l-1 1l-1-1v-2zm4 0l1 1 1-1l1 1v2l-1 1l-1-1-1 1l-1-1v-2zm6 0l1 1v2l-1 1l-1-1v-2zm22 0h2l1 1 1-1l1 1 1-1l1 1 1-1h10l1 1 1-1l1 1v2l-1 1h-4l-1-1-1 1h-2l-1-1-1 1h-10l-1-1v-2zm24 0h16l1 1v2l-1 1h-16l-1-1v-2zm-71 3l1 1v2l-1 1l-1-1v-2zm18 0l1 1v2l-1 1l-1-1v-2zm4 0l1 1v2l-1 1l-1-1v-2zm20 0l1 1 1-1l1 1v2l-1 1l-1-1-1 1l-1-1v-2zm6 0h8l1 1v2l-1 1l-1-1-1 1l-1-1-1 1l-1-1-1 1l-1-1-1 1l-1-1v-2zm12 0l1 1v2l-1 1l-1-1v-2zm4 0h4l1 1 1-1h16l1 1v2l-1 1l-1-1-1 1h-20l-1-1v-2zm-27 3l1 1v2l-1 1l-1-1v-2zm10 0l1 1v2l-1 1l-1-1v-2zm10 0l1 1v2l-1 1l-1-1v-2zm4 0l1 1v2l-1 1l-1-1v-2zm4 0h18l1 1v2l-1 1h-18l-1-1v-2zm-49 3l1 1 1-1l1 1v2l-1 1l-1-1-1 1l-1-1v-2zm6 0l1 1v2l-1 1l-1-1v-2zm4 0l1 1v2l-1 1l-1-1v-2zm8 0l1 1 1-1l1 1v2l-1 1l-1-1-1 1l-1-1v-2zm6 0l1 1 1-1l1 1v2l-1 1h-2l-1-1v-2zm6 0l1 1v2l-1 1l-1-1v-2zm4 0l1 1 1-1l1 1v2l-1 1l-1-1-1 1l-1-1v-2zm8 0l1 1 1-1h2l1 1 1-1h18l1 1v2l-1 1l-1-1-1 1h-22l-1-1v-2zm-59 3l1 1v2l-1 1l-1-1v-2zm20 0l1 1v2l-1 1l-1-1v-2zm8 0l1 1 1-1l1 1v2l-1 1l-1-1-1 1l-1-1v-2zm12 0h2l1 1v2l-1 1l-1-1-1 1l-1-1v-2zm6 0l1 1v2l-1 1l-1-1v-2zm4 0l1 1v2l-1 1l-1-1v-2zm4 0l1 1v2l-1 1l-1-1v-2zm4 0h22l1 1v2l-1 1h-18l-1-1-1 1l-1-1-1 1l-1-1v-2zm-27 3l1 1v2l-1 1l-1-1v-2zm8 0l1 1v2l-1 1l-1-1v-2zm18 0l1 1v2l-1 1l-1-1v-2zm6 0h16l1 1v2l-1 1l-1-1-1 1h-14l-1-1v-2zm-61 3l1 1v2l-1 1l-1-1v-2zm8 0l1 1v2l-1 1l-1-1v-2zm30 0l1 1v2l-1 1l-1-1v-2zm10 0l1 1 1-1l1 1 1-1l1 1 1-1l1 1v2l-1 1h-2l-1-1-1 1l-1-1-1 1l-1-1v-2zm10 0l1 1 1-1h14l1 1v2l-1 1l-1-1-1 1h-14l-1-1v-2zm-29 3l1 1v2l-1 1l-1-1v-2zm18 0l1 1v2l-1 1l-1-1v-2zm6 0h2l1 1v2l-1 1h-2l-1-1v-2zm6 0h12l1 1v2l-1 1h-12l-1-1v-2zm-37 3l1 1v2l-1 1l-1-1v-2zm6 0h2l1 1v2l-1 1l-1-1-1 1l-1-1v-2zm14 0l1 1v2l-1 1l-1-1v-2zm6 0l1 1 1-1l1 1v2l-1 1l-1-1-1 1l-1-1v-2zm6 0h2l1 1 1-1h12l1 1v2l-1 1l-1-1-1 1h-10l-1-1-1 1h-2l-1-1v-2zm-47 3l1 1v2l-1 1l-1-1v-2zm14 0l1 1v2l-1 1l-1-1v-2zm6 0l1 1v2l-1 1l-1-1v-2zm14 0l1 1v2l-1 1l-1-1v-2zm12 0h2l1 1v2l-1 1h-2l-1-1v-2zm6 0h8l1 1v2l-1 1h-8l-1-1v-2zm-25 3l1 1v2l-1 1l-1-1v-2zm6 0l1 1v2l-1 1l-1-1v-2zm10 0l1 1v2l-1 1l-1-1v-2zm4 0h2l1 1 1-1h8l1 1v2l-1 1l-1-1-1 1h-10l-1-1v-2zm-27 3l1 1v2l-1 1l-1-1v-2zm12 0l1 1v2l-1 1l-1-1v-2zm4 0l1 1v2l-1 1l-1-1v-2zm8 0l1 1 1-1h10l1 1v2l-1 1h-12l-1-1v-2zm-43 3l1 1v2l-1 1l-1-1v-2zm12 0l1 1v2l-1 1l-1-1v-2zm14 0l1 1 1-1l1 1v2l-1 1l-1-1-1 1l-1-1v-2zm16 0h12l1 1v2l-1 1l-1-1-1 1h-10l-1-1v-2zm-35 3l1 1 1-1l1 1v2l-1 1l-1-1-1 1l-1-1v-2zm8 0l1 1v2l-1 1l-1-1v-2zm14 0l1 1 1-1l1 1v2l-1 1h-2l-1-1v-2zm6 0l1 1v2l-1 1l-1-1v-2zm4 0l1 1 1-1h10l1 1v2l-1 1h-10l-1-1-1 1l-1-1v-2zm-23 3l1 1v2l-1 1l-1-1v-2zm8 0l1 1v2l-1 1l-1-1v-2zm4 0h4l1 1v2l-1 1l-1-1-1 1l-1-1-1 1l-1-1v-2zm14 0h8l1 1v2l-1 1l-1-1-1 1h-6l-1-1v-2zm-7 3l1 1 1-1l1 1 1-1l1 1 1-1h6l1 1v2l-1 1h-8l-1-1-1 1l-1-1-1 1l-1-1v-2zm-35 3l1 1v2l-1 1l-1-1v-2zm10 0l1 1v2l-1 1l-1-1v-2zm16 0l1 1v2l-1 1l-1-1v-2zm4 0l1 1v2l-1 1l-1-1v-2zm10 0h6l1 1v2l-1 1l-1-1-1 1h-4l-1-1v-2zm-33 3l1 1v2l-1 1l-1-1v-2zm6 0l1 1v2l-1 1l-1-1v-2zm4 0l1 1v2l-1 1l-1-1v-2zm20 0l1 1 1-1h4l1 1v2l-1 1l-1-1-1 1h-4l-1-1v-2zm-25 3l1 1v2l-1 1l-1-1v-2zm14 0l1 1v2l-1 1l-1-1v-2zm8 0l1 1 1-1h4l1 1v2l-1 1h-6l-1-1v-2zm-9 3l1 1v2l-1 1l-1-1v-2zm8 0h6l1 1v2l-1 1l-1-1-1 1h-4l-1-1v-2zm-23 3l1 1v2l-1 1l-1-1v-2zm10 0l1 1v2l-1 1l-1-1v-2zm10 0l1 1 1-1h4l1 1v2l-1 1h-6l-1-1v-2zm-13 3l1 1v2l-1 1l-1-1v-2zm6 0l1 1v2l-1 1l-1-1v-2zm8 0h4l1 1v2l-1 1l-1-1-1 1h-2l-1-1v-2zm-13 3l1 1v2l-1 1l-1-1v-2zm10 0l1 1 1-1h2l1 1v2l-1 1h-4l-1-1v-2zm-39 3l1 1v2l-1 1l-1-1v-2zm38 0h4l1 1v2l-1 1l-1-1-1 1h-2l-1-1v-2zm-13 3l1 1v2l-1 1l-1-1v-2zm12 0h2l1 1v2l-1 1h-2l-1-1v-2zm-17 3l1 1 1-1l1 1v2l-1 1l-1-1-1 1l-1-1v-2zm12 0l1 1 1-1l1 1 1-1h2l1 1v2l-1 1l-1-1-1 1h-4l-1-1v-2zm-5 3l1 1 1-1l1 1v2l-1 1l-1-1-1 1l-1-1v-2zm6 0h2l1 1v2l-1 1h-2l-1-1v-2zm-27 3l1 1v2l-1 1l-1-1v-2zm24 0l1 1 1-1h2l1 1v2l-1 1l-1-1-1 1h-2l-1-1v-2zm-29 3l1 1v2l-1 1l-1-1v-2zm8 0l1 1v2l-1 1l-1-1v-2zm14 0l1 1v2l-1 1l-1-1v-2zm6 0h2l1 1v2l-1 1h-2l-1-1v-2zm-17 3l1 1v2l-1 1l-1-1v-2zm16 0h2l1 1v2l-1 1l-1-1-1 1l-1-1v-2zm-3 3l1 1 1-1l1 1v2l-1 1l-1-1-1 1l-1-1v-2zm-3 3l1 1 1-1l1 1v2l-1 1h-2l-1-1v-2zm-1 3h2l1 1v2l-1 1l-1-1-1 1l-1-1v-2zm-3 3l1 1 1-1l1 1v2l-1 1h-2l-1-1v-2zm-17 3l1 1v2l-1 1l-1-1v-2zm16 0h2l1 1v2l-1 1l-1-1-1 1l-1-1v-2zm-1 3l1 1v2l-1 1l-1-1v-2zm-3 3l1 1 1-1l1 1v2l-1 1l-1-1-1 1l-1-1v-2zm-3 3l1 1 1-1l1 1v2l-1 1h-2l-1-1v-2zm-1 3h2l1 1v2l-1 1l-1-1-1 1l-1-1v-2zm-1 3l1 1v2l-1 1l-1-1v-2zm-3 3l1 1 1-1l1 1v2l-1 1l-1-1-1 1l-1-1v-2zm-1 3l1 1v2l-1 1l-1-1v-2zm-3 3l1 1v2l-1 1l-1-1v-2zm-1 3l1 1v2l-1 1l-1-1v-2z" fill="#440154"/>
<path d="M299 145l1 1v2l-1 1l-1-1v-2zm4 0l1 1v2l-1 1l-1-1v-2zm-5 3l1 1v2l-1 1l-1-1v-2zm4 0l1 1v2l-1 1l-1-1v-2zm-7 3l1 1v2l-1 1l-1-1v-2zm4 0l1 1 1-1h2l1 1v2l-1 1h-2l-1-1-1 1l-1-1v-2zm-5 3h2l1 1 1-1l1 1v2l-1 1h-4l-1-1v-2zm8 0l1 1v2l-1 1l-1-1v-2zm-13 3l1 1v2l-1 1l-1-1v-2zm4 0h6l1 1 1-1l1 1v2l-1 1h-2l-1-1-1 1l-1-1-1 1h-2l-1-1v-2zm-7 3l1 1 1-1h2l1 1 1-1h2l1 1v2l-1 1h-8l-1-1v-2zm14 0l1 1v2l-1 1l-1-1v-2zm-17 3l1 1 1-1h10l1 1 1-1l1 1v2l-1 1l-1-1-1 1h-12l-1-1v-2zm-131 3l1 1 1-1l1 1 1-1l1 1 1-1l1 1v2l-1 1h-6l-1-1v-2zm130 0h12l1 1v2l-1 1h-12l-1-1v-2zm-143 3l1 1 1-1l1 1 1-1l1 1 1-1l1 1 1-1l1 1 1-1l1 1 1-1h8l1 1 1-1l1 1 1-1l1 1 1-1l1 1 1-1l1 1 1-1l1 1 1-1l1 1 1-1l1 1 1-1l1 1 1-1l1 1 1-1l1 1v2l-1 1h-40l-1-1v-2zm140 0l1 1 1-1h12l1 1v2l-1 1l-1-1-1 1h-12l-1-1v-2zm-149 3l1 1 1-1l1 1 1-1l1 1 1-1l1 1 1-1h42l1 1 1-1l1 1v2l-1 1h-52l-1-1v-2zm56 0l1 1v2l-1 1l-1-1v-2zm88 0l1 1 1-1l1 1 1-1h12l1 1v2l-1 1h-16l-1-1v-2zm-151 3l1 1 1-1l1 1 1-1l1 1 1-1h54l1 1 1-1h2l1 1 1-1l1 1 1-1l1 1 1-1l1 1 1-1l1 1 1-1l1 1 1-1l1 1 1-1l1 1 1-1l1 1 1-1l1 1 1-1l1 1 1-1l1 1 1-1l1 1 1-1l1 1 1-1l1 1 1-1l1 1 1-1l1 1 1-1l1 1 1-1l1 1 1-1l1 1 1-1l1 1 1-1l1 1 1-1l1 1 1-1l1 1 1-1l1 1 1-1l1 1 1-1l1 1 1-1l1 1 1-1l1 1 1-1l1 1 1-1l1 1 1-1l1 1 1-1l1 1 1-1l1 1 1-1l1 1 1-1l1 1 1-1l1 1 1-1l1 1 1-1l1 1 1-1l1 1 1-1l1 1 1-1l1 1 1-1l1 1 1-1h16l1 1v2l-1 1l-1-1-1 1h-164l-1-1v-2zm-1 3h164l1 1v2l-1 1h-164l-1-1v-2zm-3 3l1 1 1-1h164l1 1v2l-1 1l-1-1-1 1h-164l-1-1v-2zm-1 3h164l1 1v2l-1 1h-164l-1-1v-2zm1 3h162l1 1v2l-1 1l-1-1-1 1h-160l-1-1v-2zm-1 3h160l1 1v2l-1 1h-160l-1-1v-2zm1 3h158l1 1v2l-1 1l-1-1-1 1h-156l-1-1v-2zm-1 3h156l1 1v2l-1 1l-1-1-1 1h-154l-1-1v-2zm1 3h152l1 1v2l-1 1h-36l-1-1-1 1h-110l-1-1-1 1l-1-1-1 1l-1-1v-2zm5 3h108l1 1v2l-1 1h-2l-1-1-1 1l-1-1-1 1l-1-1-1 1l-1-1-1 1h-12l-1-1-1 1h-8l-1-1-1 1h-70l-1-1-1 1l-1-1-1 1l-1-1v-2zm112 0h34l1 1v2l-1 1l-1-1-1 1h-24l-1-1-1 1l-1-1-1 1h-4l-1-1v-2zm-107 3h68l1 1v2l-1 1l-1-1-1 1l-1-1-1 1l-1-1-1 1l-1-1-1 1l-1-1-1 1l-1-1-1 1l-1-1-1 1l-1-1-1 1l-1-1-1 1l-1-1-1 1l-1-1-1 1h-4l-1-1-1 1h-34l-1-1-1 1l-1-1-1 1l-1-1-1 1l-1-1v-2zm72 0h6l1 1v2l-1 1l-1-1-1 1l-1-1-1 1l-1-1-1 1l-1-1v-2zm10 0h10l1 1v2l-1 1l-1-1-1 1l-1-1-1 1l-1-1-1 1l-1-1-1 1l-1-1-1 1l-1-1v-2zm20 0h2l1 1 1-1h4l1 1v2l-1 1l-1-1-1 1l-1-1-1 1l-1-1-1 1l-1-1-1 1l-1-1v-2zm14 0h22l1 1v2l-1 1h-16l-1-1-1 1l-1-1-1 1l-1-1-1 1l-1-1v-2zm-109 3h32l1 1v2l-1 1l-1-1-1 1l-1-1-1 1l-1-1-1 1l-1-1-1 1l-1-1-1 1h-2l-1-1-1 1l-1-1-1 1l-1-1-1 1l-1-1-1 1l-1-1-1 1l-1-1-1 1l-1-1-1 1h-2l-1-1-1 1l-1-1-1 1l-1-1v-2zm36 0h2l1 1v2l-1 1l-1-1-1 1l-1-1v-2zm80 0h14l1 1v2l-1 1l-1-1-1 1h-6l-1-1-1 1h-4l-1-1v-2zm-111 3l1 1v2l-1 1l-1-1v-2zm16 0l1 1v2l-1 1l-1-1v-2zm96 0h2l1 1v2l-1 1h-2l-1-1v-2zm6 0h4l1 1v2l-1 1h-4l-1-1v-2zm-5 3h2l1 1 1-1h4l1 1v2l-1 1l-1-1-1 1h-6l-1-1v-2zm-3 3l1 1 1-1h6l1 1v2l-1 1h-8l-1-1v-2zm-3 3l1 1 1-1h8l1 1v2l-1 1l-1-1-1 1h-8l-1-1v-2zm-1 3h8l1 1v2l-1 1h-8l-1-1v-2zm-1 3h8l1 1v2l-1 1l-1-1-1 1h-6l-1-1v-2zm-1 3h6l1 1v2l-1 1h-6l-1-1v-2zm-1 3h6l1 1v2l-1 1l-1-1-1 1h-4l-1-1v-2zm1 3h2l1 1v2l-1 1l-1-1-1 1l-1-1v-2zm-3 3l1 1 1-1l1 1v2l-1 1l-1-1-1 1l-1-1v-2zm-59 81l1 1 1-1l1 1v2l-1 1h-2l-1-1v-2zm-3 3l1 1 1-1h2l1 1v2l-1 1h-4l-1-1v-2zm-3 3l1 1 1-1h4l1 1v2l-1 1h-6l-1-1v-2zm-3 3l1 1 1-1h6l1 1v2l-1 1h-8l-1-1v-2zm-1 3h8l1 1v2l-1 1l-1-1-1 1h-6l-1-1v-2zm-3 3l1 1 1-1h6l1 1v2l-1 1h-8l-1-1v-2zm-3 3l1 1 1-1h8l1 1v2l-1 1l-1-1-1 1h-8l-1-1v-2zm-1 3h8l1 1v2l-1 1l-1-1-1 1h-6l-1-1v-2zm-3 3l1 1 1-1h6l1 1v2l-1 1h-8l-1-1v-2zm-1 3h8l1 1v2l-1 1l-1-1-1 1h-6l-1-1v-2zm-1 3h6l1 1v2l-1 1h-6l-1-1v-2zm-1 3h6l1 1v2l-1 1l-1-1-1 1h-4l-1-1v-2zm-1 3h4l1 1v2l-1 1h-4l-1-1v-2zm-3 3l1 1 1-1h4l1 1v2l-1 1l-1-1-1 1h-4l-1-1v-2zm-1 3h4l1 1v2l-1 1h-4l-1-1v-2zm-1 3h4l1 1v2l-1 1l-1-1-1 1h-2l-1-1v-2zm1 3l1 1v2l-1 1l-1-1v-2z" fill="#450e60"/>
<path d="M294 154l1 1 1-1l1 1v2l-1 1h-2l-1-1v-2zm1 3l1 1v2l-1 1l-1-1v-2zm-5 3l1 1 1-1l1 1 1-1l1 1v2l-1 1h-4l-1-1v-2zm-1 3h6l1 1v2l-1 1h-6l-1-1v-2zm-3 3l1 1 1-1h6l1 1v2l-1 1h-8l-1-1v-2zm-3 3l1 1 1-1h8l1 1v2l-1 1l-1-1-1 1h-8l-1-1v-2zm-129 3l1 1 1-1l1 1v2l-1 1h-2l-1-1v-2zm126 0l1 1 1-1h8l1 1v2l-1 1h-10l-1-1v-2zm-141 3l1 1 1-1l1 1 1-1l1 1 1-1l1 1 1-1l1 1 1-1l1 1 1-1l1 1 1-1h4l1 1 1-1l1 1 1-1l1 1 1-1l1 1 1-1l1 1 1-1l1 1 1-1l1 1 1-1l1 1 1-1l1 1 1-1l1 1 1-1l1 1v2l-1 1h-38l-1-1v-2zm138 0l1 1 1-1h10l1 1v2l-1 1l-1-1-1 1h-10l-1-1v-2zm-143 3l1 1 1-1l1 1 1-1h38l1 1v2l-1 1h-42l-1-1v-2zm142 0h10l1 1v2l-1 1h-10l-1-1v-2zm-147 3l1 1 1-1l1 1 1-1h44l1 1 1-1l1 1 1-1l1 1 1-1l1 1 1-1l1 1v2l-1 1h-56l-1-1v-2zm64 0l1 1v2l-1 1l-1-1v-2zm4 0l1 1v2l-1 1l-1-1v-2zm4 0l1 1v2l-1 1l-1-1v-2zm12 0l1 1v2l-1 1l-1-1v-2zm14 0l1 1v2l-1 1l-1-1v-2zm4 0l1 1 1-1l1 1v2l-1 1h-2l-1-1v-2zm10 0l1 1v2l-1 1l-1-1v-2zm8 0l1 1v2l-1 1l-1-1v-2zm4 0l1 1v2l-1 1l-1-1v-2zm6 0l1 1v2l-1 1l-1-1v-2zm4 0l1 1v2l-1 1l-1-1v-2zm4 0l1 1v2l-1 1l-1-1v-2zm4 0l1 1 1-1l1 1 1-1h10l1 1v2l-1 1l-1-1-1 1h-12l-1-1v-2zm-141 3h56l1 1 1-1l1 1 1-1l1 1 1-1h2l1 1 1-1h2l1 1 1-1h2l1 1 1-1l1 1v2l-1 1h-74l-1-1v-2zm78 0l1 1 1-1l1 1 1-1h2l1 1v2l-1 1h-6l-1-1v-2zm10 0l1 1 1-1l1 1 1-1l1 1 1-1l1 1v2l-1 1h-6l-1-1v-2zm10 0l1 1 1-1h4l1 1 1-1l1 1 1-1l1 1 1-1h2l1 1 1-1l1 1 1-1l1 1 1-1h2l1 1v2l-1 1h-22l-1-1v-2zm26 0l1 1 1-1l1 1 1-1h2l1 1 1-1h2l1 1 1-1h2l1 1 1-1h12l1 1v2l-1 1h-28l-1-1v-2zm-129 3l1 1 1-1l1 1 1-1h76l1 1 1-1h8l1 1 1-1h8l1 1 1-1h24l1 1 1-1h28l1 1v2l-1 1l-1-1-1 1h-154l-1-1v-2zm1 3h152l1 1v2l-1 1h-152l-1-1v-2zm1 3h150l1 1v2l-1 1l-1-1-1 1h-22l-1-1-1 1l-1-1-1 1h-6l-1-1-1 1h-2l-1-1-1 1h-20l-1-1-1 1h-84l-1-1-1 1h-2l-1-1v-2zm-1 3h2l1 1v2l-1 1l-1-1-1 1l-1-1v-2zm6 0h82l1 1v2l-1 1l-1-1-1 1l-1-1-1 1l-1-1-1 1l-1-1-1 1l-1-1-1 1l-1-1-1 1l-1-1-1 1l-1-1-1 1l-1-1-1 1l-1-1-1 1l-1-1-1 1l-1-1-1 1l-1-1-1 1l-1-1-1 1l-1-1-1 1l-1-1-1 1h-50l-1-1v-2zm86 0h18l1 1v2l-1 1l-1-1-1 1h-2l-1-1-1 1l-1-1-1 1l-1-1-1 1l-1-1-1 1l-1-1-1 1l-1-1-1 1h-2l-1-1v-2zm22 0l1 1v2l-1 1l-1-1v-2zm4 0h4l1 1v2l-1 1l-1-1-1 1l-1-1-1 1l-1-1v-2zm10 0h20l1 1v2l-1 1l-1-1-1 1h-16l-1-1-1 1l-1-1v-2zm-121 3h48l1 1v2l-1 1l-1-1-1 1l-1-1-1 1l-1-1-1 1l-1-1-1 1l-1-1-1 1l-1-1-1 1h-32l-1-1-1 1l-1-1-1 1l-1-1v-2zm86 0l1 1v2l-1 1l-1-1v-2zm14 0l1 1v2l-1 1l-1-1v-2zm24 0h14l1 1v2l-1 1h-14l-1-1v-2zm-119 3h30l1 1v2l-1 1l-1-1-1 1l-1-1-1 1l-1-1-1 1l-1-1-1 1h-8l-1-1-1 1l-1-1-1 1l-1-1-1 1l-1-1-1 1h-2l-1-1-1 1h-2l-1-1v-2zm120 0h12l1 1v2l-1 1l-1-1-1 1h-10l-1-1v-2zm-119 3l1 1v2l-1 1l-1-1v-2zm4 0l1 1v2l-1 1l-1-1v-2zm10 0h6l1 1v2l-1 1l-1-1-1 1l-1-1-1 1l-1-1-1 1l-1-1v-2zm104 0h10l1 1v2l-1 1h-10l-1-1v-2zm1 3h8l1 1v2l-1 1l-1-1-1 1h-6l-1-1v-2zm1 3h4l1 1v2l-1 1h-4l-1-1v-2zm-3 3l1 1 1-1h4l1 1v2l-1 1l-1-1-1 1h-4l-1-1v-2zm-1 3h4l1 1v2l-1 1h-4l-1-1v-2zm-1 3h4l1 1v2l-1 1l-1-1-1 1l-1-1-1 1l-1-1v-2zm-80 114l1 1v2l-1 1l-1-1v-2zm-4 6l1 1 1-1l1 1v2l-1 1h-2l-1-1v-2zm-1 3h2l1 1v2l-1 1l-1-1-1 1l-1-1v-2zm-3 3l1 1 1-1l1 1v2l-1 1l-1-1-1 1l-1-1v-2zm-1 3l1 1v2l-1 1l-1-1v-2zm1 3l1 1v2l-1 1l-1-1v-2z" fill="#471b6c"/>
<path d="M291 163l1 1v2l-1 1l-1-1v-2zm-1 3l1 1v2l-1 1l-1-1v-2zm-5 3l1 1 1-1l1 1 1-1h2l1 1v2l-1 1h-6l-1-1v-2zm-3 3l1 1 1-1h6l1 1v2l-1 1h-8l-1-1v-2zm-131 3l1 1 1-1l1 1v2l-1 1h-2l-1-1v-2zm22 0l1 1 1-1l1 1v2l-1 1h-2l-1-1v-2zm106 0l1 1 1-1h8l1 1v2l-1 1l-1-1-1 1h-8l-1-1v-2zm-139 3l1 1 1-1l1 1 1-1l1 1 1-1l1 1 1-1l1 1 1-1h4l1 1 1-1l1 1 1-1l1 1 1-1l1 1 1-1l1 1 1-1l1 1 1-1l1 1 1-1l1 1 1-1l1 1 1-1h2l1 1v2l-1 1h-34l-1-1v-2zm138 0h8l1 1v2l-1 1h-8l-1-1v-2zm-141 3l1 1 1-1h34l1 1v2l-1 1h-36l-1-1v-2zm136 0l1 1 1-1l1 1 1-1h8l1 1v2l-1 1l-1-1-1 1h-10l-1-1v-2zm-139 3l1 1 1-1h38l1 1v2l-1 1h-40l-1-1v-2zm46 0l1 1v2l-1 1l-1-1v-2zm90 0l1 1 1-1h10l1 1v2l-1 1h-12l-1-1v-2zm-137 3h42l1 1 1-1l1 1 1-1l1 1v2l-1 1h-46l-1-1v-2zm50 0l1 1 1-1l1 1 1-1l1 1v2l-1 1l-1-1-1 1h-2l-1-1v-2zm82 0l1 1 1-1l1 1 1-1h12l1 1v2l-1 1l-1-1-1 1h-14l-1-1v-2zm-131 3h44l1 1v2l-1 1h-44l-1-1v-2zm48 0h2l1 1v2l-1 1l-1-1-1 1l-1-1v-2zm6 0l1 1 1-1l1 1v2l-1 1l-1-1-1 1l-1-1v-2zm76 0h14l1 1v2l-1 1h-14l-1-1v-2zm-129 3h44l1 1v2l-1 1l-1-1-1 1l-1-1-1 1h-2l-1-1-1 1h-36l-1-1v-2zm130 0h12l1 1v2l-1 1l-1-1-1 1h-10l-1-1v-2zm-129 3h34l1 1v2l-1 1l-1-1-1 1h-2l-1-1-1 1h-26l-1-1-1 1l-1-1v-2zm38 0l1 1v2l-1 1l-1-1v-2zm88 0l1 1v2l-1 1l-1-1v-2zm4 0h8l1 1v2l-1 1l-1-1-1 1h-6l-1-1v-2zm-127 3h24l1 1v2l-1 1l-1-1-1 1l-1-1-1 1h-6l-1-1-1 1l-1-1-1 1l-1-1-1 1l-1-1-1 1l-1-1-1 1l-1-1-1 1h-2l-1-1v-2zm28 0l1 1v2l-1 1l-1-1v-2zm96 0l1 1 1-1h6l1 1v2l-1 1h-8l-1-1v-2zm-123 3l1 1v2l-1 1l-1-1v-2zm14 0h4l1 1v2l-1 1l-1-1-1 1l-1-1-1 1l-1-1v-2zm108 0h8l1 1v2l-1 1l-1-1-1 1h-6l-1-1v-2zm-1 3h6l1 1v2l-1 1h-6l-1-1v-2zm-1 3h6l1 1v2l-1 1l-1-1-1 1h-2l-1-1-1 1l-1-1v-2zm3 3l1 1v2l-1 1l-1-1v-2z" fill="#472877"/>
<path d="M284 172l1 1 1-1l1 1 1-1l1 1v2l-1 1h-4l-1-1v-2zm-1 3h4l1 1v2l-1 1h-4l-1-1v-2zm-125 3l1 1v2l-1 1l-1-1v-2zm10 0l1 1 1-1l1 1 1-1l1 1v2l-1 1h-4l-1-1v-2zm112 0l1 1 1-1h4l1 1v2l-1 1h-6l-1-1v-2zm-141 3l1 1 1-1l1 1v2l-1 1h-2l-1-1v-2zm6 0l1 1 1-1l1 1 1-1l1 1 1-1l1 1 1-1l1 1 1-1l1 1 1-1h2l1 1 1-1l1 1v2l-1 1h-14l-1-1-1 1l-1-1v-2zm20 0l1 1 1-1h4l1 1v2l-1 1h-6l-1-1v-2zm110 0l1 1 1-1l1 1 1-1h6l1 1v2l-1 1l-1-1-1 1h-8l-1-1v-2zm-137 3h4l1 1 1-1l1 1v2l-1 1h-6l-1-1v-2zm10 0h14l1 1 1-1h8l1 1 1-1l1 1v2l-1 1h-26l-1-1v-2zm126 0h8l1 1v2l-1 1h-8l-1-1v-2zm-135 3h6l1 1 1-1h26l1 1v2l-1 1l-1-1-1 1h-32l-1-1v-2zm132 0l1 1 1-1h8l1 1v2l-1 1l-1-1-1 1h-8l-1-1v-2zm-133 3h32l1 1v2l-1 1l-1-1-1 1h-30l-1-1v-2zm130 0l1 1 1-1h8l1 1v2l-1 1h-10l-1-1v-2zm-131 3h30l1 1v2l-1 1h-18l-1-1-1 1l-1-1-1 1h-8l-1-1v-2zm34 0l1 1v2l-1 1l-1-1v-2zm98 0h8l1 1v2l-1 1l-1-1-1 1h-6l-1-1v-2zm-131 3h6l1 1v2l-1 1l-1-1-1 1l-1-1-1 1l-1-1-1 1l-1-1v-2zm12 0h16l1 1v2l-1 1l-1-1-1 1h-8l-1-1-1 1l-1-1-1 1l-1-1-1 1l-1-1v-2zm118 0h6l1 1v2l-1 1l-1-1-1 1h-4l-1-1v-2zm-111 3h6l1 1v2l-1 1l-1-1-1 1l-1-1-1 1l-1-1-1 1l-1-1v-2zm108 0l1 1 1-1h4l1 1v2l-1 1h-6l-1-1v-2zm1 3h4l1 1v2l-1 1l-1-1-1 1l-1-1-1 1l-1-1v-2z" fill="#45337e"/>
<path d="M283 175l1 1 1-1l1 1v2l-1 1h-2l-1-1v-2zm-113 3l1 1v2l-1 1l-1-1v-2zm110 0l1 1 1-1h2l1 1v2l-1 1h-4l-1-1v-2zm-127 3l1 1 1-1l1 1 1-1l1 1v2l-1 1h-4l-1-1v-2zm14 0l1 1 1-1h2l1 1v2l-1 1h-4l-1-1v-2zm110 0l1 1 1-1h6l1 1v2l-1 1l-1-1-1 1h-6l-1-1v-2zm-129 3l1 1 1-1l1 1v2l-1 1l-1-1-1 1l-1-1v-2zm6 0h4l1 1 1-1l1 1v2l-1 1l-1-1-1 1l-1-1-1 1h-2l-1-1v-2zm10 0l1 1 1-1h4l1 1v2l-1 1h-6l-1-1v-2zm112 0h6l1 1v2l-1 1h-6l-1-1v-2zm-135 3l1 1 1-1l1 1v2l-1 1h-2l-1-1v-2zm6 0l1 1v2l-1 1l-1-1v-2zm6 0h2l1 1v2l-1 1l-1-1-1 1l-1-1v-2zm10 0h6l1 1v2l-1 1h-6l-1-1v-2zm110 0l1 1 1-1h6l1 1v2l-1 1l-1-1-1 1h-6l-1-1v-2zm-133 3h2l1 1v2l-1 1h-2l-1-1v-2zm6 0h2l1 1 1-1l1 1 1-1l1 1v2l-1 1h-2l-1-1-1 1l-1-1-1 1l-1-1v-2zm10 0l1 1 1-1l1 1 1-1l1 1 1-1h6l1 1v2l-1 1h-12l-1-1v-2zm116 0h6l1 1v2l-1 1h-6l-1-1v-2zm-131 3l1 1v2l-1 1l-1-1v-2zm4 0l1 1v2l-1 1l-1-1v-2zm6 0l1 1v2l-1 1l-1-1v-2zm4 0h12l1 1v2l-1 1h-10l-1-1-1 1l-1-1v-2zm116 0h6l1 1v2l-1 1l-1-1-1 1h-4l-1-1v-2zm-131 3l1 1v2l-1 1l-1-1v-2zm14 0l1 1v2l-1 1l-1-1v-2zm4 0h8l1 1v2l-1 1l-1-1-1 1l-1-1-1 1l-1-1-1 1l-1-1-1 1l-1-1v-2zm110 0l1 1 1-1h4l1 1v2l-1 1l-1-1-1 1h-4l-1-1v-2zm-1 3h4l1 1v2l-1 1h-4l-1-1v-2zm1 3h2l1 1v2l-1 1l-1-1-1 1l-1-1v-2z" fill="#423f84"/>
<path d="M285 175l1 1v2l-1 1l-1-1v-2zm-5 3l1 1 1-1l1 1 1-1l1 1v2l-1 1h-4l-1-1v-2zm-113 3l1 1 1-1l1 1v2l-1 1h-2l-1-1v-2zm110 0l1 1 1-1h4l1 1v2l-1 1h-6l-1-1v-2zm-111 3h4l1 1v2l-1 1h-4l-1-1v-2zm110 0h6l1 1v2l-1 1h-6l-1-1v-2zm-135 3l1 1v2l-1 1l-1-1v-2zm22 0l1 1 1-1h4l1 1v2l-1 1h-6l-1-1v-2zm112 0h6l1 1v2l-1 1l-1-1-1 1h-4l-1-1v-2zm-125 3l1 1 1-1l1 1v2l-1 1l-1-1-1 1l-1-1v-2zm6 0l1 1v2l-1 1l-1-1v-2zm4 0l1 1 1-1h6l1 1v2l-1 1l-1-1-1 1h-6l-1-1v-2zm114 0h4l1 1v2l-1 1h-4l-1-1v-2zm-133 3l1 1v2l-1 1l-1-1v-2zm18 0h6l1 1v2l-1 1h-6l-1-1v-2zm112 0l1 1 1-1h4l1 1v2l-1 1l-1-1-1 1h-4l-1-1v-2zm-113 3h6l1 1v2l-1 1l-1-1-1 1l-1-1-1 1l-1-1-1 1l-1-1v-2zm112 0h4l1 1v2l-1 1l-1-1-1 1h-2l-1-1v-2zm-1 3h2l1 1v2l-1 1h-2l-1-1v-2zm1 3l1 1v2l-1 1l-1-1v-2z" fill="#3e4a88"/>
<path d="M285 175l1 1v2l-1 1l-1-1v-2zm-3 3l1 1 1-1l1 1v2l-1 1h-2l-1-1v-2zm-113 3l1 1v2l-1 1l-1-1v-2zm110 0l1 1 1-1h2l1 1v2l-1 1h-4l-1-1v-2zm-113 3l1 1 1-1l1 1v2l-1 1h-2l-1-1v-2zm110 0l1 1 1-1h4l1 1v2l-1 1h-6l-1-1v-2zm-113 3l1 1 1-1h4l1 1v2l-1 1l-1-1-1 1h-4l-1-1v-2zm112 0h6l1 1v2l-1 1l-1-1-1 1h-4l-1-1v-2zm-113 3h4l1 1v2l-1 1l-1-1-1 1h-2l-1-1v-2zm112 0h4l1 1v2l-1 1h-4l-1-1v-2zm-113 3h2l1 1v2l-1 1h-2l-1-1v-2zm112 0h4l1 1v2l-1 1l-1-1-1 1h-2l-1-1v-2zm-113 3h2l1 1v2l-1 1l-1-1-1 1l-1-1v-2zm112 0h2l1 1v2l-1 1l-1-1-1 1l-1-1v-2zm-1 3l1 1v2l-1 1l-1-1v-2z" fill="#3a548b"/>
<path d="M282 178l1 1v2l-1 1l-1-1v-2zm-3 3l1 1 1-1h2l1 1v2l-1 1h-4l-1-1v-2zm-1 3h4l1 1v2l-1 1h-4l-1-1v-2zm-115 3l1 1 1-1l1 1 1-1l1 1v2l-1 1h-4l-1-1v-2zm112 0l1 1 1-1h4l1 1v2l-1 1l-1-1-1 1h-4l-1-1v-2zm-113 3h4l1 1v2l-1 1l-1-1-1 1h-2l-1-1v-2zm112 0h4l1 1v2l-1 1h-4l-1-1v-2zm-113 3h2l1 1v2l-1 1h-2l-1-1v-2zm112 0h4l1 1v2l-1 1l-1-1-1 1h-2l-1-1v-2zm-111 3l1 1v2l-1 1l-1-1v-2zm110 0h2l1 1v2l-1 1l-1-1-1 1l-1-1v-2zm-1 3l1 1v2l-1 1l-1-1v-2z" fill="#355e8d"/>
<path d="M281 181l1 1 1-1l1 1v2l-1 1h-2l-1-1v-2zm-3 3l1 1 1-1h2l1 1v2l-1 1h-4l-1-1v-2zm-113 3l1 1v2l-1 1l-1-1v-2zm112 0h4l1 1v2l-1 1l-1-1-1 1h-2l-1-1v-2zm-115 3l1 1 1-1h2l1 1v2l-1 1l-1-1-1 1h-2l-1-1v-2zm112 0l1 1 1-1h2l1 1v2l-1 1h-4l-1-1v-2zm-113 3h2l1 1v2l-1 1h-2l-1-1v-2zm112 0h4l1 1v2l-1 1l-1-1-1 1h-2l-1-1v-2zm-111 3l1 1v2l-1 1l-1-1v-2zm110 0h2l1 1v2l-1 1l-1-1-1 1l-1-1v-2zm-1 3l1 1v2l-1 1l-1-1v-2z" fill="#31678d"/>
<path d="M283 181l1 1v2l-1 1l-1-1v-2zm-5 3l1 1 1-1l1 1v2l-1 1h-2l-1-1v-2zm-1 3h2l1 1v2l-1 1h-2l-1-1v-2zm-113 3l1 1 1-1l1 1v2l-1 1l-1-1-1 1l-1-1v-2zm110 0l1 1 1-1h2l1 1v2l-1 1h-4l-1-1v-2zm-111 3l1 1v2l-1 1l-1-1v-2zm110 0h4l1 1v2l-1 1l-1-1-1 1h-2l-1-1v-2zm1 3l1 1v2l-1 1l-1-1v-2z" fill="#2d718e"/>
<path d="M278 184l1 1 1-1l1 1v2l-1 1h-2l-1-1v-2zm-1 3h2l1 1v2l-1 1h-2l-1-1v-2zm-113 3l1 1v2l-1 1l-1-1v-2zm110 0l1 1 1-1h2l1 1v2l-1 1h-4l-1-1v-2zm-111 3l1 1v2l-1 1l-1-1v-2zm112 0h2l1 1v2l-1 1l-1-1-1 1l-1-1v-2zm-1 3l1 1v2l-1 1l-1-1v-2z" fill="#297a8e"/>
<path d="M278 184l1 1 1-1l1 1v2l-1 1h-2l-1-1v-2zm-1 3h2l1 1v2l-1 1h-2l-1-1v-2zm-113 3l1 1v2l-1 1l-1-1v-2zm112 0h2l1 1v2l-1 1h-2l-1-1v-2zm-113 3l1 1v2l-1 1l-1-1v-2zm112 0h2l1 1v2l-1 1l-1-1-1 1l-1-1v-2z" fill="#26838d"/>
<path d="M280 184l1 1v2l-1 1l-1-1v-2zm-3 3l1 1 1-1l1 1v2l-1 1h-2l-1-1v-2zm-113 3l1 1v2l-1 1l-1-1v-2zm112 0h2l1 1v2l-1 1h-2l-1-1v-2zm-113 3l1 1v2l-1 1l-1-1v-2zm112 0h2l1 1v2l-1 1l-1-1-1 1l-1-1v-2z" fill="#21958b"/>
<path d="M280 184l1 1v2l-1 1l-1-1v-2zm-3 3l1 1 1-1l1 1v2l-1 1h-2l-1-1v-2zm-113 3l1 1v2l-1 1l-1-1v-2zm112 0h2l1 1v2l-1 1l-1-1-1 1l-1-1v-2zm-1 3l1 1v2l-1 1l-1-1v-2z" fill="#22a685"/>
<path d="M277 187l1 1 1-1l1 1v2l-1 1h-2l-1-1v-2zm-113 3l1 1v2l-1 1l-1-1v-2zm112 0h2l1 1v2l-1 1l-1-1-1 1l-1-1v-2zm-1 3l1 1v2l-1 1l-1-1v-2z" fill="#2caf7e"/>
<path d="M277 187l1 1 1-1l1 1v2l-1 1h-2l-1-1v-2zm-1 3h2l1 1v2l-1 1l-1-1-1 1l-1-1v-2zm-1 3l1 1v2l-1 1l-1-1v-2z" fill="#39b777"/>
<path d="M279 187l1 1v2l-1 1l-1-1v-2zm-3 3l1 1 1-1l1 1v2l-1 1l-1-1-1 1l-1-1v-2zm-1 3l1 1v2l-1 1l-1-1v-2z" fill="#6ecd58"/>
<path d="M279 187l1 1v2l-1 1l-1-1v-2z" fill="#fde725"/>
</g>
<path d="M1229.4 737.7L1229.4 1254.5" stroke="#000" stroke-width="3.3" fill="none" stroke-linecap="butt"/>
<path d="M1227.8 1252.8L2151.0 1252.8" stroke="#000" stroke-width="3.3" fill="none" stroke-linecap="butt"/>
<path d="M1216.6 1195.9L1229.4 1195.9" stroke="#000" stroke-width="3.3" fill="none" stroke-linecap="butt"/>
<text x="1211.3" y="1205.9" font-size="30.4" text-anchor="end">100</text>
<path d="M1216.6 1061.9L1229.4 1061.9" stroke="#000" stroke-width="3.3" fill="none" stroke-linecap="butt"/>
<text x="1211.3" y="1072.0" font-size="30.4" text-anchor="end">200</text>
<path d="M1216.6 928.0L1229.4 928.0" stroke="#000" stroke-width="3.3" fill="none" stroke-linecap="butt"/>
<text x="1211.3" y="938.0" font-size="30.4" text-anchor="end">300</text>
<path d="M1216.6 794.1L1229.4 794.1" stroke="#000" stroke-width="3.3" fill="none" stroke-linecap="butt"/>
<text x="1211.3" y="804.1" font-size="30.4" text-anchor="end">400</text>
<path d="M1342.1 1252.8L1342.1 1265.6" stroke="#000" stroke-width="3.3" fill="none" stroke-linecap="butt"/>
<text x="1342.1" y="1291.3" font-size="30.4" text-anchor="middle">100</text>
<path d="M1626.2 1252.8L1626.2 1265.6" stroke="#000" stroke-width="3.3" fill="none" stroke-linecap="butt"/>
<text x="1626.2" y="1291.3" font-size="30.4" text-anchor="middle">200</text>
<path d="M1910.2 1252.8L1910.2 1265.6" stroke="#000" stroke-width="3.3" fill="none" stroke-linecap="butt"/>
<text x="1910.2" y="1291.3" font-size="30.4" text-anchor="middle">300</text>
<text x="1229.5" y="712.7" font-size="30.0" font-weight="bold">panc 7</text>
<text transform="translate(1141.2 994.4) rotate(-90)" font-size="30.8" text-anchor="middle" letter-spacing="0.14">expected SINE insert length (bp)</text>
<text x="1690.3" y="1331.4" font-size="30.8" text-anchor="middle">avg. observed SINE read length (bp)</text>
<linearGradient id="vg" x1="0" x2="1" y1="0" y2="0"><stop offset="0.0" stop-color="#440154"/><stop offset="0.1" stop-color="#482475"/><stop offset="0.2" stop-color="#414487"/><stop offset="0.3" stop-color="#355f8d"/><stop offset="0.4" stop-color="#2a788e"/><stop offset="0.5" stop-color="#21918c"/><stop offset="0.6" stop-color="#22a884"/><stop offset="0.7" stop-color="#44bf70"/><stop offset="0.8" stop-color="#7ad151"/><stop offset="0.9" stop-color="#bddf26"/><stop offset="1.0" stop-color="#fde725"/></linearGradient>
<rect x="1852.3" y="339.0" width="280.8" height="122.3" fill="#fff" stroke="#000" stroke-width="2.2"/>
<rect x="2046.0" y="364.2" width="60.8" height="25.5" fill="url(#vg)"/>
<text x="1878.5" y="389.7" font-size="29.9" font-style="italic">scaled cpm</text>
<text x="2046.5" y="424.2" font-size="23.5" text-anchor="middle" font-weight="bold">0</text>
<text x="2106.5" y="424.2" font-size="23.5" text-anchor="middle" font-weight="bold">1</text>
<path d="M1246.9 1417.5L1246.9 1843.4" stroke="#000" stroke-width="3.3" fill="none" stroke-linecap="butt"/>
<path d="M1245.2 1841.7L2163.5 1841.7" stroke="#000" stroke-width="3.3" fill="none" stroke-linecap="butt"/>
<path d="M1234.1 1822.5L1246.9 1822.5" stroke="#000" stroke-width="3.3" fill="none" stroke-linecap="butt"/>
<text x="1229.0" y="1832.5" font-size="30.4" text-anchor="end">0.00</text>
<path d="M1234.1 1726.0L1246.9 1726.0" stroke="#000" stroke-width="3.3" fill="none" stroke-linecap="butt"/>
<text x="1229.0" y="1736.0" font-size="30.4" text-anchor="end">0.25</text>
<path d="M1234.1 1629.5L1246.9 1629.5" stroke="#000" stroke-width="3.3" fill="none" stroke-linecap="butt"/>
<text x="1229.0" y="1639.5" font-size="30.4" text-anchor="end">0.50</text>
<path d="M1234.1 1533.0L1246.9 1533.0" stroke="#000" stroke-width="3.3" fill="none" stroke-linecap="butt"/>
<text x="1229.0" y="1543.0" font-size="30.4" text-anchor="end">0.75</text>
<path d="M1234.1 1436.5L1246.9 1436.5" stroke="#000" stroke-width="3.3" fill="none" stroke-linecap="butt"/>
<text x="1229.0" y="1446.5" font-size="30.4" text-anchor="end">1.00</text>
<path d="M1424.0 1841.7L1424.0 1854.5" stroke="#000" stroke-width="3.3" fill="none" stroke-linecap="butt"/>
<text x="1424.0" y="1880.2" font-size="30.4" text-anchor="middle">160</text>
<path d="M1604.0 1841.7L1604.0 1854.5" stroke="#000" stroke-width="3.3" fill="none" stroke-linecap="butt"/>
<text x="1604.0" y="1880.2" font-size="30.4" text-anchor="middle">200</text>
<path d="M1784.0 1841.7L1784.0 1854.5" stroke="#000" stroke-width="3.3" fill="none" stroke-linecap="butt"/>
<text x="1784.0" y="1880.2" font-size="30.4" text-anchor="middle">240</text>
<path d="M1964.1 1841.7L1964.1 1854.5" stroke="#000" stroke-width="3.3" fill="none" stroke-linecap="butt"/>
<text x="1964.1" y="1880.2" font-size="30.4" text-anchor="middle">280</text>
<path d="M2144.1 1841.7L2144.1 1854.5" stroke="#000" stroke-width="3.3" fill="none" stroke-linecap="butt"/>
<text x="2144.1" y="1880.2" font-size="30.4" text-anchor="middle">320</text>
<text x="1705.6" y="1919.6" font-size="30.8" text-anchor="middle">nanopore SINE read length (bp)</text>
<text transform="translate(1150.5 1629.3) rotate(-90)" font-size="30.8" text-anchor="middle">cumulative prop. (99% CI)</text>
<path d="M1289.0 1795.6C1293.4 1793.3 1306.9 1786.4 1315.5 1781.8C1324.0 1777.1 1332.2 1772.9 1340.6 1767.7C1349.0 1762.5 1357.4 1756.6 1365.8 1750.6C1374.1 1744.6 1384.6 1736.9 1390.9 1731.5C1397.2 1726.1 1399.3 1723.5 1403.5 1718.2C1407.7 1712.8 1411.9 1706.2 1416.1 1699.3C1420.2 1692.4 1424.4 1683.8 1428.6 1676.7C1432.8 1669.5 1437.0 1662.8 1441.2 1656.5C1445.4 1650.3 1449.6 1643.8 1453.8 1638.9C1458.0 1634.1 1462.2 1630.6 1466.4 1627.6C1470.5 1624.6 1474.7 1622.6 1478.9 1620.8C1483.1 1619.0 1487.3 1617.9 1491.5 1616.8C1495.7 1615.7 1499.9 1615.0 1504.1 1614.3C1508.3 1613.6 1510.4 1613.4 1516.7 1612.5C1522.9 1611.7 1533.4 1610.2 1541.8 1609.3C1550.2 1608.3 1558.6 1607.6 1567.0 1606.7C1575.3 1605.9 1583.7 1605.1 1592.1 1604.2C1600.5 1603.3 1608.9 1602.2 1617.3 1601.2C1625.6 1600.2 1634.0 1599.4 1642.4 1598.2C1650.8 1597.0 1659.2 1595.4 1667.6 1594.2C1675.9 1592.9 1684.3 1591.8 1692.7 1590.6C1701.1 1589.5 1709.4 1588.6 1717.9 1587.4C1726.3 1586.1 1735.0 1584.6 1743.5 1583.1C1751.9 1581.6 1760.2 1580.2 1768.6 1578.6C1777.0 1577.0 1785.4 1575.3 1793.8 1573.5C1802.1 1571.8 1810.5 1569.9 1818.9 1568.0C1827.3 1566.1 1835.7 1564.2 1844.1 1562.2C1852.4 1560.2 1860.8 1558.1 1869.2 1555.9C1877.6 1553.8 1886.0 1551.5 1894.4 1549.1C1902.7 1546.8 1911.1 1544.5 1919.5 1542.1C1927.9 1539.7 1936.3 1537.4 1944.7 1534.6C1953.0 1531.7 1961.4 1528.6 1969.8 1525.0C1978.2 1521.4 1986.6 1517.6 1995.0 1512.7C2003.3 1507.8 2013.8 1500.3 2020.1 1495.6C2026.4 1490.8 2028.5 1488.2 2032.7 1484.3C2036.9 1480.3 2041.1 1475.7 2045.3 1471.7C2049.5 1467.7 2053.6 1463.7 2057.8 1460.4C2062.0 1457.0 2066.2 1454.2 2070.4 1451.6C2074.6 1449.0 2078.8 1446.6 2083.0 1444.8C2087.2 1443.0 2091.4 1441.8 2095.6 1440.7C2099.8 1439.7 2103.7 1439.0 2108.1 1438.5C2112.5 1438.0 2119.7 1437.9 2122.0 1437.7" fill="none" stroke="#a7229e" stroke-width="12.5" stroke-linejoin="round" stroke-linecap="butt"/>
<path d="M1289.0 1794.1C1293.4 1791.9 1306.9 1785.5 1315.5 1781.0C1324.0 1776.6 1332.2 1772.3 1340.6 1767.2C1349.0 1762.1 1357.4 1756.2 1365.8 1750.4C1374.1 1744.5 1384.6 1736.7 1390.9 1732.0C1397.2 1727.3 1399.3 1725.9 1403.5 1721.9C1407.7 1717.9 1411.9 1712.9 1416.1 1708.1C1420.2 1703.3 1424.4 1697.6 1428.6 1693.0C1432.8 1688.4 1437.0 1684.2 1441.2 1680.4C1445.4 1676.7 1449.6 1673.1 1453.8 1670.4C1458.0 1667.6 1462.2 1665.9 1466.4 1664.1C1470.5 1662.3 1474.7 1660.8 1478.9 1659.6C1483.1 1658.3 1485.2 1657.7 1491.5 1656.5C1497.8 1655.4 1508.3 1653.9 1516.7 1652.8C1525.0 1651.6 1533.4 1650.8 1541.8 1649.7C1550.2 1648.7 1558.6 1647.5 1567.0 1646.5C1575.3 1645.4 1583.7 1644.5 1592.1 1643.5C1600.5 1642.4 1608.9 1641.4 1617.3 1640.2C1625.6 1639.0 1634.0 1637.9 1642.4 1636.4C1650.8 1635.0 1659.2 1633.0 1667.6 1631.4C1675.9 1629.8 1684.3 1628.3 1692.7 1626.9C1701.1 1625.4 1709.4 1624.2 1717.9 1622.6C1726.3 1621.0 1735.0 1618.9 1743.5 1617.1C1751.9 1615.2 1760.2 1613.3 1768.6 1611.3C1777.0 1609.3 1785.4 1607.1 1793.8 1605.0C1802.1 1602.9 1810.5 1600.9 1818.9 1598.7C1827.3 1596.5 1835.7 1594.0 1844.1 1591.6C1852.4 1589.3 1860.8 1587.0 1869.2 1584.4C1877.6 1581.8 1886.0 1578.9 1894.4 1576.1C1902.7 1573.2 1911.1 1570.3 1919.5 1567.3C1927.9 1564.2 1936.3 1561.2 1944.7 1557.9C1953.0 1554.7 1961.4 1551.5 1969.8 1547.9C1978.2 1544.3 1986.6 1540.6 1995.0 1536.3C2003.3 1532.0 2013.8 1526.3 2020.1 1522.0C2026.4 1517.7 2028.5 1514.9 2032.7 1510.7C2036.9 1506.5 2041.1 1501.9 2045.3 1496.8C2049.5 1491.8 2053.6 1485.6 2057.8 1480.5C2062.0 1475.3 2066.2 1470.2 2070.4 1465.9C2074.6 1461.6 2078.8 1457.8 2083.0 1454.8C2087.2 1451.8 2091.4 1449.6 2095.6 1447.8C2099.8 1446.0 2103.6 1444.9 2108.1 1444.0C2112.7 1443.1 2120.3 1442.5 2122.7 1442.3" fill="none" stroke="#ca4381" stroke-width="12.5" stroke-linejoin="round" stroke-linecap="butt"/>
<rect x="947.7" y="1950.6" width="409.8" height="86.2" fill="#fff" stroke="#000" stroke-width="2.2"/>
<text x="973.0" y="2006.4" font-size="30.8" font-style="italic">sample</text>
<rect x="1091" y="1979.8" width="19" height="24.2" fill="#a7229e"/>
<rect x="1220.2" y="1979.8" width="19" height="24.2" fill="#ca4381"/>
<text x="1128.5" y="1999.6" font-size="23.5" font-weight="bold">panc 6</text>
<text x="1257.5" y="1999.6" font-size="23.5" font-weight="bold">panc 7</text>
</svg>
</body></html>
